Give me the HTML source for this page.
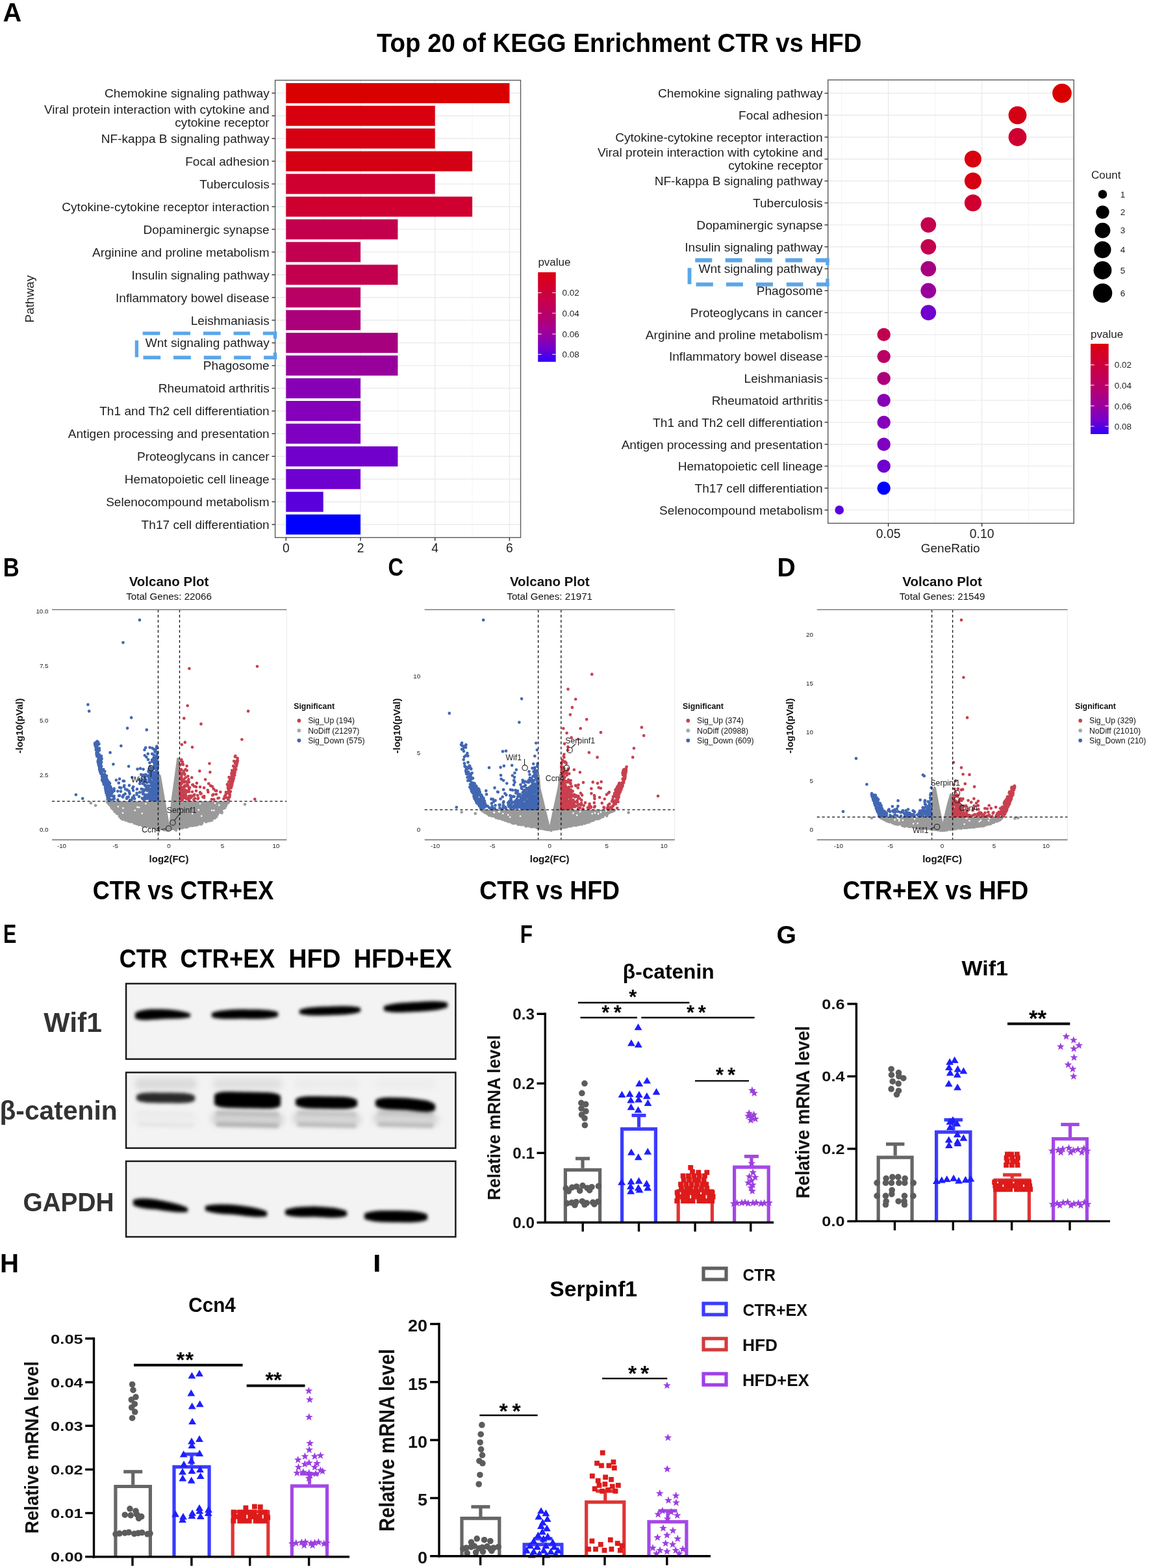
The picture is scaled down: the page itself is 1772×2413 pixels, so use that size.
<!DOCTYPE html><html><head><meta charset="utf-8"><title>Figure</title><style>html,body{margin:0;padding:0;background:#fff;}svg{display:block;}</style></head><body><svg width="1772" height="2413" viewBox="0 0 1772 2413" font-family="'Liberation Sans', Arial, Helvetica, sans-serif"><rect width="100%" height="100%" fill="#fff"/><text x="4.4" y="32.7" font-size="40.6" font-weight="bold" fill="#000" textLength="28.7" lengthAdjust="spacingAndGlyphs">A</text>
<text x="579.9" y="79.9" font-size="41.3" font-weight="bold" fill="#000" textLength="746.7" lengthAdjust="spacingAndGlyphs">Top 20 of KEGG Enrichment CTR vs HFD</text>
<g>
<line x1="497.7" y1="123.5" x2="497.7" y2="827.3" stroke="#f4f4f4" stroke-width="1"/>
<line x1="612.4" y1="123.5" x2="612.4" y2="827.3" stroke="#f4f4f4" stroke-width="1"/>
<line x1="727" y1="123.5" x2="727" y2="827.3" stroke="#f4f4f4" stroke-width="1"/>
<line x1="440.3" y1="123.5" x2="440.3" y2="827.3" stroke="#ebebeb" stroke-width="1.4"/>
<line x1="555" y1="123.5" x2="555" y2="827.3" stroke="#ebebeb" stroke-width="1.4"/>
<line x1="669.7" y1="123.5" x2="669.7" y2="827.3" stroke="#ebebeb" stroke-width="1.4"/>
<line x1="784.4" y1="123.5" x2="784.4" y2="827.3" stroke="#ebebeb" stroke-width="1.4"/>
<line x1="423.6" y1="143.3" x2="801.5" y2="143.3" stroke="#ebebeb" stroke-width="1.4"/>
<line x1="423.6" y1="178.2" x2="801.5" y2="178.2" stroke="#ebebeb" stroke-width="1.4"/>
<line x1="423.6" y1="213.2" x2="801.5" y2="213.2" stroke="#ebebeb" stroke-width="1.4"/>
<line x1="423.6" y1="248.1" x2="801.5" y2="248.1" stroke="#ebebeb" stroke-width="1.4"/>
<line x1="423.6" y1="283.1" x2="801.5" y2="283.1" stroke="#ebebeb" stroke-width="1.4"/>
<line x1="423.6" y1="318" x2="801.5" y2="318" stroke="#ebebeb" stroke-width="1.4"/>
<line x1="423.6" y1="352.9" x2="801.5" y2="352.9" stroke="#ebebeb" stroke-width="1.4"/>
<line x1="423.6" y1="387.9" x2="801.5" y2="387.9" stroke="#ebebeb" stroke-width="1.4"/>
<line x1="423.6" y1="422.8" x2="801.5" y2="422.8" stroke="#ebebeb" stroke-width="1.4"/>
<line x1="423.6" y1="457.8" x2="801.5" y2="457.8" stroke="#ebebeb" stroke-width="1.4"/>
<line x1="423.6" y1="492.7" x2="801.5" y2="492.7" stroke="#ebebeb" stroke-width="1.4"/>
<line x1="423.6" y1="527.6" x2="801.5" y2="527.6" stroke="#ebebeb" stroke-width="1.4"/>
<line x1="423.6" y1="562.6" x2="801.5" y2="562.6" stroke="#ebebeb" stroke-width="1.4"/>
<line x1="423.6" y1="597.5" x2="801.5" y2="597.5" stroke="#ebebeb" stroke-width="1.4"/>
<line x1="423.6" y1="632.5" x2="801.5" y2="632.5" stroke="#ebebeb" stroke-width="1.4"/>
<line x1="423.6" y1="667.4" x2="801.5" y2="667.4" stroke="#ebebeb" stroke-width="1.4"/>
<line x1="423.6" y1="702.3" x2="801.5" y2="702.3" stroke="#ebebeb" stroke-width="1.4"/>
<line x1="423.6" y1="737.3" x2="801.5" y2="737.3" stroke="#ebebeb" stroke-width="1.4"/>
<line x1="423.6" y1="772.2" x2="801.5" y2="772.2" stroke="#ebebeb" stroke-width="1.4"/>
<line x1="423.6" y1="807.2" x2="801.5" y2="807.2" stroke="#ebebeb" stroke-width="1.4"/>
<rect x="440.3" y="127.9" width="344.1" height="30.9" fill="#d90000"/>
<rect x="440.3" y="162.8" width="229.4" height="30.9" fill="#d8000e"/>
<rect x="440.3" y="197.7" width="229.4" height="30.9" fill="#d60012"/>
<rect x="440.3" y="232.7" width="286.8" height="30.9" fill="#d40014"/>
<rect x="440.3" y="267.6" width="229.4" height="30.9" fill="#cf0030"/>
<rect x="440.3" y="302.6" width="286.8" height="30.9" fill="#cf0030"/>
<rect x="440.3" y="337.5" width="172.1" height="30.9" fill="#c2004e"/>
<rect x="440.3" y="372.4" width="114.7" height="30.9" fill="#c30050"/>
<rect x="440.3" y="407.4" width="172.1" height="30.9" fill="#c2004e"/>
<rect x="440.3" y="442.3" width="114.7" height="30.9" fill="#b90064"/>
<rect x="440.3" y="477.2" width="114.7" height="30.9" fill="#ab007a"/>
<rect x="440.3" y="512.2" width="172.1" height="30.9" fill="#a6007f"/>
<rect x="440.3" y="547.1" width="172.1" height="30.9" fill="#98009c"/>
<rect x="440.3" y="582.1" width="114.7" height="30.9" fill="#8800b6"/>
<rect x="440.3" y="617" width="114.7" height="30.9" fill="#8400bb"/>
<rect x="440.3" y="651.9" width="114.7" height="30.9" fill="#7f00c0"/>
<rect x="440.3" y="686.9" width="172.1" height="30.9" fill="#7200cc"/>
<rect x="440.3" y="721.8" width="114.7" height="30.9" fill="#7000d0"/>
<rect x="440.3" y="756.8" width="57.4" height="30.9" fill="#5a00dd"/>
<rect x="440.3" y="791.7" width="114.7" height="30.9" fill="#0000ff"/>
<rect x="423.6" y="123.5" width="377.9" height="703.8" fill="none" stroke="#5a5a5a" stroke-width="1.4"/>
<line x1="418.5" y1="143.3" x2="423.6" y2="143.3" stroke="#333" stroke-width="1.4"/>
<text x="414.7" y="150.1" font-size="19.1" text-anchor="end" fill="#1e1e1e">Chemokine signaling pathway</text>
<line x1="418.5" y1="178.2" x2="423.6" y2="178.2" stroke="#333" stroke-width="1.4"/>
<text x="414.7" y="175" font-size="19.1" text-anchor="end" fill="#1e1e1e">Viral protein interaction with cytokine and</text>
<text x="414.7" y="195.4" font-size="19.1" text-anchor="end" fill="#1e1e1e">cytokine receptor</text>
<line x1="418.5" y1="213.2" x2="423.6" y2="213.2" stroke="#333" stroke-width="1.4"/>
<text x="414.7" y="220" font-size="19.1" text-anchor="end" fill="#1e1e1e">NF-kappa B signaling pathway</text>
<line x1="418.5" y1="248.1" x2="423.6" y2="248.1" stroke="#333" stroke-width="1.4"/>
<text x="414.7" y="254.9" font-size="19.1" text-anchor="end" fill="#1e1e1e">Focal adhesion</text>
<line x1="418.5" y1="283.1" x2="423.6" y2="283.1" stroke="#333" stroke-width="1.4"/>
<text x="414.7" y="289.9" font-size="19.1" text-anchor="end" fill="#1e1e1e">Tuberculosis</text>
<line x1="418.5" y1="318" x2="423.6" y2="318" stroke="#333" stroke-width="1.4"/>
<text x="414.7" y="324.8" font-size="19.1" text-anchor="end" fill="#1e1e1e">Cytokine-cytokine receptor interaction</text>
<line x1="418.5" y1="352.9" x2="423.6" y2="352.9" stroke="#333" stroke-width="1.4"/>
<text x="414.7" y="359.7" font-size="19.1" text-anchor="end" fill="#1e1e1e">Dopaminergic synapse</text>
<line x1="418.5" y1="387.9" x2="423.6" y2="387.9" stroke="#333" stroke-width="1.4"/>
<text x="414.7" y="394.7" font-size="19.1" text-anchor="end" fill="#1e1e1e">Arginine and proline metabolism</text>
<line x1="418.5" y1="422.8" x2="423.6" y2="422.8" stroke="#333" stroke-width="1.4"/>
<text x="414.7" y="429.6" font-size="19.1" text-anchor="end" fill="#1e1e1e">Insulin signaling pathway</text>
<line x1="418.5" y1="457.8" x2="423.6" y2="457.8" stroke="#333" stroke-width="1.4"/>
<text x="414.7" y="464.6" font-size="19.1" text-anchor="end" fill="#1e1e1e">Inflammatory bowel disease</text>
<line x1="418.5" y1="492.7" x2="423.6" y2="492.7" stroke="#333" stroke-width="1.4"/>
<text x="414.7" y="499.5" font-size="19.1" text-anchor="end" fill="#1e1e1e">Leishmaniasis</text>
<line x1="418.5" y1="527.6" x2="423.6" y2="527.6" stroke="#333" stroke-width="1.4"/>
<text x="414.7" y="534.4" font-size="19.1" text-anchor="end" fill="#1e1e1e">Wnt signaling pathway</text>
<line x1="418.5" y1="562.6" x2="423.6" y2="562.6" stroke="#333" stroke-width="1.4"/>
<text x="414.7" y="569.4" font-size="19.1" text-anchor="end" fill="#1e1e1e">Phagosome</text>
<line x1="418.5" y1="597.5" x2="423.6" y2="597.5" stroke="#333" stroke-width="1.4"/>
<text x="414.7" y="604.3" font-size="19.1" text-anchor="end" fill="#1e1e1e">Rheumatoid arthritis</text>
<line x1="418.5" y1="632.5" x2="423.6" y2="632.5" stroke="#333" stroke-width="1.4"/>
<text x="414.7" y="639.3" font-size="19.1" text-anchor="end" fill="#1e1e1e">Th1 and Th2 cell differentiation</text>
<line x1="418.5" y1="667.4" x2="423.6" y2="667.4" stroke="#333" stroke-width="1.4"/>
<text x="414.7" y="674.2" font-size="19.1" text-anchor="end" fill="#1e1e1e">Antigen processing and presentation</text>
<line x1="418.5" y1="702.3" x2="423.6" y2="702.3" stroke="#333" stroke-width="1.4"/>
<text x="414.7" y="709.1" font-size="19.1" text-anchor="end" fill="#1e1e1e">Proteoglycans in cancer</text>
<line x1="418.5" y1="737.3" x2="423.6" y2="737.3" stroke="#333" stroke-width="1.4"/>
<text x="414.7" y="744.1" font-size="19.1" text-anchor="end" fill="#1e1e1e">Hematopoietic cell lineage</text>
<line x1="418.5" y1="772.2" x2="423.6" y2="772.2" stroke="#333" stroke-width="1.4"/>
<text x="414.7" y="779" font-size="19.1" text-anchor="end" fill="#1e1e1e">Selenocompound metabolism</text>
<line x1="418.5" y1="807.2" x2="423.6" y2="807.2" stroke="#333" stroke-width="1.4"/>
<text x="414.7" y="814" font-size="19.1" text-anchor="end" fill="#1e1e1e">Th17 cell differentiation</text>
<line x1="440.3" y1="827.3" x2="440.3" y2="832.3" stroke="#333" stroke-width="1.4"/>
<text x="440.3" y="850.4" font-size="19.3" text-anchor="middle" fill="#1e1e1e">0</text>
<line x1="555" y1="827.3" x2="555" y2="832.3" stroke="#333" stroke-width="1.4"/>
<text x="555" y="850.4" font-size="19.3" text-anchor="middle" fill="#1e1e1e">2</text>
<line x1="669.7" y1="827.3" x2="669.7" y2="832.3" stroke="#333" stroke-width="1.4"/>
<text x="669.7" y="850.4" font-size="19.3" text-anchor="middle" fill="#1e1e1e">4</text>
<line x1="784.4" y1="827.3" x2="784.4" y2="832.3" stroke="#333" stroke-width="1.4"/>
<text x="784.4" y="850.4" font-size="19.3" text-anchor="middle" fill="#1e1e1e">6</text>
<text transform="translate(51.5,460) rotate(-90)" font-size="19" text-anchor="middle" fill="#1e1e1e">Pathway</text>
<text x="828.4" y="408.7" font-size="17" fill="#1e1e1e">pvalue</text>
<defs><linearGradient id="pg" x1="0" y1="0" x2="0" y2="1"><stop offset="0" stop-color="#dc0010"/><stop offset="0.25" stop-color="#cc0040"/><stop offset="0.5" stop-color="#b5006f"/><stop offset="0.7" stop-color="#9900a2"/><stop offset="0.85" stop-color="#7300cc"/><stop offset="1" stop-color="#3000ff"/></linearGradient></defs>
<rect x="828.2" y="419" width="27.5" height="137.8" fill="url(#pg)"/>
<line x1="828.2" y1="450.5" x2="833.7" y2="450.5" stroke="#fff" stroke-width="1"/>
<line x1="850.2" y1="450.5" x2="855.7" y2="450.5" stroke="#fff" stroke-width="1"/>
<text x="865.4" y="455.3" font-size="13.5" fill="#1e1e1e">0.02</text>
<line x1="828.2" y1="482" x2="833.7" y2="482" stroke="#fff" stroke-width="1"/>
<line x1="850.2" y1="482" x2="855.7" y2="482" stroke="#fff" stroke-width="1"/>
<text x="865.4" y="486.8" font-size="13.5" fill="#1e1e1e">0.04</text>
<line x1="828.2" y1="514" x2="833.7" y2="514" stroke="#fff" stroke-width="1"/>
<line x1="850.2" y1="514" x2="855.7" y2="514" stroke="#fff" stroke-width="1"/>
<text x="865.4" y="518.8" font-size="13.5" fill="#1e1e1e">0.06</text>
<line x1="828.2" y1="545.3" x2="833.7" y2="545.3" stroke="#fff" stroke-width="1"/>
<line x1="850.2" y1="545.3" x2="855.7" y2="545.3" stroke="#fff" stroke-width="1"/>
<text x="865.4" y="550.1" font-size="13.5" fill="#1e1e1e">0.08</text>
</g>
<line x1="219.7" y1="513" x2="246.4" y2="513" stroke="#5ba6e8" stroke-width="5.3"/>
<line x1="266.3" y1="513" x2="293" y2="513" stroke="#5ba6e8" stroke-width="5.3"/>
<line x1="313" y1="513" x2="339.6" y2="513" stroke="#5ba6e8" stroke-width="5.3"/>
<line x1="359.6" y1="513" x2="384.9" y2="513" stroke="#5ba6e8" stroke-width="5.3"/>
<line x1="404.8" y1="513" x2="426.2" y2="513" stroke="#5ba6e8" stroke-width="5.3"/>
<line x1="220.5" y1="550.2" x2="247.2" y2="550.2" stroke="#5ba6e8" stroke-width="5.5"/>
<line x1="267.1" y1="550.2" x2="293.8" y2="550.2" stroke="#5ba6e8" stroke-width="5.5"/>
<line x1="313.8" y1="550.2" x2="340.4" y2="550.2" stroke="#5ba6e8" stroke-width="5.5"/>
<line x1="360.1" y1="550.2" x2="386.2" y2="550.2" stroke="#5ba6e8" stroke-width="5.5"/>
<line x1="406.2" y1="550.2" x2="426.2" y2="550.2" stroke="#5ba6e8" stroke-width="5.5"/>
<line x1="423.5" y1="510.5" x2="423.5" y2="521.2" stroke="#5ba6e8" stroke-width="5.4"/>
<line x1="423.5" y1="542.5" x2="423.5" y2="553" stroke="#5ba6e8" stroke-width="5.4"/>
<line x1="210.4" y1="523.8" x2="210.4" y2="549.7" stroke="#5ba6e8" stroke-width="5.3"/>
<g>
<line x1="1295.6" y1="123" x2="1295.6" y2="805.3" stroke="#f4f4f4" stroke-width="1"/>
<line x1="1439.6" y1="123" x2="1439.6" y2="805.3" stroke="#f4f4f4" stroke-width="1"/>
<line x1="1583.6" y1="123" x2="1583.6" y2="805.3" stroke="#f4f4f4" stroke-width="1"/>
<line x1="1367.6" y1="123" x2="1367.6" y2="805.3" stroke="#ebebeb" stroke-width="1.4"/>
<line x1="1511.6" y1="123" x2="1511.6" y2="805.3" stroke="#ebebeb" stroke-width="1.4"/>
<line x1="1274.7" y1="143.5" x2="1653.2" y2="143.5" stroke="#ebebeb" stroke-width="1.4"/>
<line x1="1274.7" y1="177.3" x2="1653.2" y2="177.3" stroke="#ebebeb" stroke-width="1.4"/>
<line x1="1274.7" y1="211" x2="1653.2" y2="211" stroke="#ebebeb" stroke-width="1.4"/>
<line x1="1274.7" y1="244.8" x2="1653.2" y2="244.8" stroke="#ebebeb" stroke-width="1.4"/>
<line x1="1274.7" y1="278.5" x2="1653.2" y2="278.5" stroke="#ebebeb" stroke-width="1.4"/>
<line x1="1274.7" y1="312.3" x2="1653.2" y2="312.3" stroke="#ebebeb" stroke-width="1.4"/>
<line x1="1274.7" y1="346.1" x2="1653.2" y2="346.1" stroke="#ebebeb" stroke-width="1.4"/>
<line x1="1274.7" y1="379.8" x2="1653.2" y2="379.8" stroke="#ebebeb" stroke-width="1.4"/>
<line x1="1274.7" y1="413.6" x2="1653.2" y2="413.6" stroke="#ebebeb" stroke-width="1.4"/>
<line x1="1274.7" y1="447.3" x2="1653.2" y2="447.3" stroke="#ebebeb" stroke-width="1.4"/>
<line x1="1274.7" y1="481.1" x2="1653.2" y2="481.1" stroke="#ebebeb" stroke-width="1.4"/>
<line x1="1274.7" y1="514.9" x2="1653.2" y2="514.9" stroke="#ebebeb" stroke-width="1.4"/>
<line x1="1274.7" y1="548.6" x2="1653.2" y2="548.6" stroke="#ebebeb" stroke-width="1.4"/>
<line x1="1274.7" y1="582.4" x2="1653.2" y2="582.4" stroke="#ebebeb" stroke-width="1.4"/>
<line x1="1274.7" y1="616.1" x2="1653.2" y2="616.1" stroke="#ebebeb" stroke-width="1.4"/>
<line x1="1274.7" y1="649.9" x2="1653.2" y2="649.9" stroke="#ebebeb" stroke-width="1.4"/>
<line x1="1274.7" y1="683.7" x2="1653.2" y2="683.7" stroke="#ebebeb" stroke-width="1.4"/>
<line x1="1274.7" y1="717.4" x2="1653.2" y2="717.4" stroke="#ebebeb" stroke-width="1.4"/>
<line x1="1274.7" y1="751.2" x2="1653.2" y2="751.2" stroke="#ebebeb" stroke-width="1.4"/>
<line x1="1274.7" y1="784.9" x2="1653.2" y2="784.9" stroke="#ebebeb" stroke-width="1.4"/>
<circle cx="1635" cy="143.5" r="14.8" fill="#d90000"/>
<circle cx="1566.5" cy="177.3" r="13.9" fill="#d40014"/>
<circle cx="1566.5" cy="211" r="13.9" fill="#cf0030"/>
<circle cx="1497.9" cy="244.8" r="13" fill="#d8000e"/>
<circle cx="1497.9" cy="278.5" r="13" fill="#d60012"/>
<circle cx="1497.9" cy="312.3" r="13" fill="#cf0030"/>
<circle cx="1429.3" cy="346.1" r="11.9" fill="#c2004e"/>
<circle cx="1429.3" cy="379.8" r="11.9" fill="#c2004e"/>
<circle cx="1429.3" cy="413.6" r="11.9" fill="#a6007f"/>
<circle cx="1429.3" cy="447.3" r="11.9" fill="#98009c"/>
<circle cx="1429.3" cy="481.1" r="11.9" fill="#7200cc"/>
<circle cx="1360.7" cy="514.9" r="10.2" fill="#c30050"/>
<circle cx="1360.7" cy="548.6" r="10.2" fill="#b90064"/>
<circle cx="1360.7" cy="582.4" r="10.2" fill="#ab007a"/>
<circle cx="1360.7" cy="616.1" r="10.2" fill="#8800b6"/>
<circle cx="1360.7" cy="649.9" r="10.2" fill="#8400bb"/>
<circle cx="1360.7" cy="683.7" r="10.2" fill="#7f00c0"/>
<circle cx="1360.7" cy="717.4" r="10.2" fill="#7000d0"/>
<circle cx="1360.7" cy="751.2" r="10.2" fill="#0000ff"/>
<circle cx="1292.2" cy="784.9" r="6.8" fill="#5a00dd"/>
<rect x="1274.7" y="123" width="378.5" height="682.3" fill="none" stroke="#5a5a5a" stroke-width="1.4"/>
<line x1="1269.5" y1="143.5" x2="1274.7" y2="143.5" stroke="#333" stroke-width="1.4"/>
<text x="1266.6" y="150.3" font-size="19.1" text-anchor="end" fill="#1e1e1e">Chemokine signaling pathway</text>
<line x1="1269.5" y1="177.3" x2="1274.7" y2="177.3" stroke="#333" stroke-width="1.4"/>
<text x="1266.6" y="184.1" font-size="19.1" text-anchor="end" fill="#1e1e1e">Focal adhesion</text>
<line x1="1269.5" y1="211" x2="1274.7" y2="211" stroke="#333" stroke-width="1.4"/>
<text x="1266.6" y="217.8" font-size="19.1" text-anchor="end" fill="#1e1e1e">Cytokine-cytokine receptor interaction</text>
<line x1="1269.5" y1="244.8" x2="1274.7" y2="244.8" stroke="#333" stroke-width="1.4"/>
<text x="1266.6" y="241.4" font-size="19.1" text-anchor="end" fill="#1e1e1e">Viral protein interaction with cytokine and</text>
<text x="1266.6" y="261.4" font-size="19.1" text-anchor="end" fill="#1e1e1e">cytokine receptor</text>
<line x1="1269.5" y1="278.5" x2="1274.7" y2="278.5" stroke="#333" stroke-width="1.4"/>
<text x="1266.6" y="285.3" font-size="19.1" text-anchor="end" fill="#1e1e1e">NF-kappa B signaling pathway</text>
<line x1="1269.5" y1="312.3" x2="1274.7" y2="312.3" stroke="#333" stroke-width="1.4"/>
<text x="1266.6" y="319.1" font-size="19.1" text-anchor="end" fill="#1e1e1e">Tuberculosis</text>
<line x1="1269.5" y1="346.1" x2="1274.7" y2="346.1" stroke="#333" stroke-width="1.4"/>
<text x="1266.6" y="352.9" font-size="19.1" text-anchor="end" fill="#1e1e1e">Dopaminergic synapse</text>
<line x1="1269.5" y1="379.8" x2="1274.7" y2="379.8" stroke="#333" stroke-width="1.4"/>
<text x="1266.6" y="386.6" font-size="19.1" text-anchor="end" fill="#1e1e1e">Insulin signaling pathway</text>
<line x1="1269.5" y1="413.6" x2="1274.7" y2="413.6" stroke="#333" stroke-width="1.4"/>
<text x="1266.6" y="420.4" font-size="19.1" text-anchor="end" fill="#1e1e1e">Wnt signaling pathway</text>
<line x1="1269.5" y1="447.3" x2="1274.7" y2="447.3" stroke="#333" stroke-width="1.4"/>
<text x="1266.6" y="454.1" font-size="19.1" text-anchor="end" fill="#1e1e1e">Phagosome</text>
<line x1="1269.5" y1="481.1" x2="1274.7" y2="481.1" stroke="#333" stroke-width="1.4"/>
<text x="1266.6" y="487.9" font-size="19.1" text-anchor="end" fill="#1e1e1e">Proteoglycans in cancer</text>
<line x1="1269.5" y1="514.9" x2="1274.7" y2="514.9" stroke="#333" stroke-width="1.4"/>
<text x="1266.6" y="521.7" font-size="19.1" text-anchor="end" fill="#1e1e1e">Arginine and proline metabolism</text>
<line x1="1269.5" y1="548.6" x2="1274.7" y2="548.6" stroke="#333" stroke-width="1.4"/>
<text x="1266.6" y="555.4" font-size="19.1" text-anchor="end" fill="#1e1e1e">Inflammatory bowel disease</text>
<line x1="1269.5" y1="582.4" x2="1274.7" y2="582.4" stroke="#333" stroke-width="1.4"/>
<text x="1266.6" y="589.2" font-size="19.1" text-anchor="end" fill="#1e1e1e">Leishmaniasis</text>
<line x1="1269.5" y1="616.1" x2="1274.7" y2="616.1" stroke="#333" stroke-width="1.4"/>
<text x="1266.6" y="622.9" font-size="19.1" text-anchor="end" fill="#1e1e1e">Rheumatoid arthritis</text>
<line x1="1269.5" y1="649.9" x2="1274.7" y2="649.9" stroke="#333" stroke-width="1.4"/>
<text x="1266.6" y="656.7" font-size="19.1" text-anchor="end" fill="#1e1e1e">Th1 and Th2 cell differentiation</text>
<line x1="1269.5" y1="683.7" x2="1274.7" y2="683.7" stroke="#333" stroke-width="1.4"/>
<text x="1266.6" y="690.5" font-size="19.1" text-anchor="end" fill="#1e1e1e">Antigen processing and presentation</text>
<line x1="1269.5" y1="717.4" x2="1274.7" y2="717.4" stroke="#333" stroke-width="1.4"/>
<text x="1266.6" y="724.2" font-size="19.1" text-anchor="end" fill="#1e1e1e">Hematopoietic cell lineage</text>
<line x1="1269.5" y1="751.2" x2="1274.7" y2="751.2" stroke="#333" stroke-width="1.4"/>
<text x="1266.6" y="758" font-size="19.1" text-anchor="end" fill="#1e1e1e">Th17 cell differentiation</text>
<line x1="1269.5" y1="784.9" x2="1274.7" y2="784.9" stroke="#333" stroke-width="1.4"/>
<text x="1266.6" y="791.7" font-size="19.1" text-anchor="end" fill="#1e1e1e">Selenocompound metabolism</text>
<line x1="1367.6" y1="805.3" x2="1367.6" y2="810.3" stroke="#333" stroke-width="1.4"/>
<text x="1367.6" y="827.8" font-size="19.3" text-anchor="middle" fill="#1e1e1e">0.05</text>
<line x1="1511.6" y1="805.3" x2="1511.6" y2="810.3" stroke="#333" stroke-width="1.4"/>
<text x="1511.6" y="827.8" font-size="19.3" text-anchor="middle" fill="#1e1e1e">0.10</text>
<text x="1463.2" y="850.3" font-size="19" text-anchor="middle" fill="#1e1e1e">GeneRatio</text>
<text x="1680" y="275" font-size="17" fill="#1e1e1e">Count</text>
<circle cx="1697.5" cy="299" r="6.8" fill="#000"/>
<text x="1724.8" y="303.8" font-size="13.5" fill="#1e1e1e">1</text>
<circle cx="1697.5" cy="326.5" r="10.2" fill="#000"/>
<text x="1724.8" y="331.3" font-size="13.5" fill="#1e1e1e">2</text>
<circle cx="1697.5" cy="354.6" r="11.9" fill="#000"/>
<text x="1724.8" y="359.4" font-size="13.5" fill="#1e1e1e">3</text>
<circle cx="1697.5" cy="384.3" r="13" fill="#000"/>
<text x="1724.8" y="389.1" font-size="13.5" fill="#1e1e1e">4</text>
<circle cx="1697.5" cy="416" r="13.9" fill="#000"/>
<text x="1724.8" y="420.8" font-size="13.5" fill="#1e1e1e">5</text>
<circle cx="1697.5" cy="451" r="14.8" fill="#000"/>
<text x="1724.8" y="455.8" font-size="13.5" fill="#1e1e1e">6</text>
<text x="1679" y="520" font-size="17" fill="#1e1e1e">pvalue</text>
<rect x="1679" y="529" width="27.7" height="139" fill="url(#pg)"/>
<line x1="1679" y1="561.5" x2="1684.5" y2="561.5" stroke="#fff" stroke-width="1"/>
<line x1="1701.2" y1="561.5" x2="1706.7" y2="561.5" stroke="#fff" stroke-width="1"/>
<text x="1715.8" y="566.3" font-size="13.5" fill="#1e1e1e">0.02</text>
<line x1="1679" y1="592.8" x2="1684.5" y2="592.8" stroke="#fff" stroke-width="1"/>
<line x1="1701.2" y1="592.8" x2="1706.7" y2="592.8" stroke="#fff" stroke-width="1"/>
<text x="1715.8" y="597.6" font-size="13.5" fill="#1e1e1e">0.04</text>
<line x1="1679" y1="624.7" x2="1684.5" y2="624.7" stroke="#fff" stroke-width="1"/>
<line x1="1701.2" y1="624.7" x2="1706.7" y2="624.7" stroke="#fff" stroke-width="1"/>
<text x="1715.8" y="629.5" font-size="13.5" fill="#1e1e1e">0.06</text>
<line x1="1679" y1="656" x2="1684.5" y2="656" stroke="#fff" stroke-width="1"/>
<line x1="1701.2" y1="656" x2="1706.7" y2="656" stroke="#fff" stroke-width="1"/>
<text x="1715.8" y="660.8" font-size="13.5" fill="#1e1e1e">0.08</text>
</g>
<line x1="1070.2" y1="400.5" x2="1096.3" y2="400.5" stroke="#5ba6e8" stroke-width="6.3"/>
<line x1="1116.6" y1="400.5" x2="1142.6" y2="400.5" stroke="#5ba6e8" stroke-width="6.3"/>
<line x1="1162.8" y1="400.5" x2="1188.7" y2="400.5" stroke="#5ba6e8" stroke-width="6.3"/>
<line x1="1209.2" y1="400.5" x2="1235.2" y2="400.5" stroke="#5ba6e8" stroke-width="6.3"/>
<line x1="1255.6" y1="400.5" x2="1276.5" y2="400.5" stroke="#5ba6e8" stroke-width="6.3"/>
<line x1="1071.5" y1="437.7" x2="1097.8" y2="437.7" stroke="#5ba6e8" stroke-width="6"/>
<line x1="1117.9" y1="437.7" x2="1143.9" y2="437.7" stroke="#5ba6e8" stroke-width="6"/>
<line x1="1164" y1="437.7" x2="1190" y2="437.7" stroke="#5ba6e8" stroke-width="6"/>
<line x1="1210.8" y1="437.7" x2="1236.4" y2="437.7" stroke="#5ba6e8" stroke-width="6"/>
<line x1="1256.9" y1="437.7" x2="1276.5" y2="437.7" stroke="#5ba6e8" stroke-width="6"/>
<line x1="1273.9" y1="397.3" x2="1273.9" y2="408" stroke="#5ba6e8" stroke-width="5.3"/>
<line x1="1273.9" y1="428.8" x2="1273.9" y2="440.6" stroke="#5ba6e8" stroke-width="5.3"/>
<line x1="1061.5" y1="412.3" x2="1061.5" y2="437.4" stroke="#5ba6e8" stroke-width="5.8"/>
<line x1="441.3" y1="938.3" x2="441.3" y2="1292.4" stroke="#e9e9e9" stroke-width="1"/>
<path d="M165 1233.1L172.6 1243.2L186.7 1258.7L210.5 1266.7L235.2 1272.8L260 1276.8L284.8 1272.8L309.5 1266.7L328.5 1260.3L342.5 1248.2L352.4 1233.1L352.4 1233.1L276.5 1233.1L276.5 1165.9L272.4 1165.9L268.7 1193.8L263.3 1233.1L260.8 1267.7L254.6 1233.1L247.8 1193.8L246 1191.1L243.5 1194.5L243.5 1233.1L165 1233.1Z" fill="#9a9a9a"/>
<path d="M207.6 1266.7h0M291.7 1271h0M277.1 1274.5h0M341.5 1251h0M290 1270.3h0M331.1 1257h0M302.5 1266.5h0M194.9 1260.2h0M214.9 1267.2h0M189.2 1260.9h0M325.2 1262.1h0M300.8 1270h0M267.3 1274.7h0M216.3 1268.4h0M227 1270.6h0M228.7 1271h0M165.9 1234.2h0M177.7 1248.1h0M222 1268.5h0M205.8 1264.8h0M212.8 1266.6h0M213.8 1265.3h0M257.9 1277.4h0M198.7 1261.5h0M305.6 1266.9h0M307.4 1265.1h0M280.8 1273.7h0M197.6 1263.8h0M180.1 1251.4h0M280.9 1272.4h0M166.8 1235.9h0M347.3 1240.5h0M216.7 1267.2h0M241.6 1273.5h0M311.2 1267h0M233.7 1272.2h0M218 1268h0M255.3 1276.1h0M170.1 1238.9h0M305.1 1267.7h0M227.1 1270.7h0M261.7 1276.4h0M329.5 1258.7h0M255.2 1276.4h0M297.5 1269.8h0M230.1 1271.7h0M348.2 1238.4h0M219.4 1271.1h0M229.5 1272h0M165.2 1234.6h0M310.4 1264h0M196.6 1261.2h0M195.5 1260.9h0M341.7 1249.9h0M300.5 1269.6h0M198.2 1262.6h0M298 1270.1h0M259.3 1276.8h0M186.5 1256.7h0M331.2 1258.2h0M198.3 1262.2h0M329.3 1257.8h0M352.3 1231.6h0M234.4 1271h0M307.1 1267.1h0M246.9 1274.4h0M308.2 1267.6h0M173.2 1242.6h0M348.9 1237.5h0M170.8 1241h0M229.7 1271h0M197.1 1261.3h0M206.4 1266.3h0M253.2 1274.9h0M278 1273.9h0M346.6 1242.7h0M257.9 1274.9h0M264.5 1274.9h0M277.5 1273.6h0M218.9 1270.4h0M345.9 1243.1h0M319.9 1262h0M205 1261.5h0M293.6 1269.5h0M166.9 1234.4h0M228.2 1271.5h0M310.9 1266h0M309.7 1268.5h0M305.3 1268.6h0M250.6 1275.9h0M250.4 1275.2h0M316.6 1264.1h0M216.8 1267.6h0M245.2 1274.9h0M304 1269.3h0M339.6 1249.4h0M177.4 1248.7h0M213.9 1269.2h0M293.1 1270h0M201 1263.6h0M195.7 1260.2h0M326.7 1260.2h0M240.3 1274.7h0M237 1273.3h0M284.9 1272.9h0M261.6 1275.8h0M233.8 1270.5h0M171.5 1240.8h0M210.5 1268h0M237.2 1271.5h0M295.7 1270.7h0M204.9 1264.2h0M189.2 1259.5h0M188.6 1258.4h0M259.7 1275.7h0M257.2 1276.8h0M288.7 1272.4h0M197.8 1261.6h0M234.5 1271.6h0M310.6 1266.6h0M197.6 1262.7h0M174 1242.2h0M300.4 1269.7h0M330.4 1259.1h0M237.3 1273.2h0M347.6 1239.5h0M165 1230.2h0M177.9 1249.6h0M193.4 1262.2h0M265 1274.6h0M289.8 1270.9h0M334.9 1253.3h0M250.8 1273h0M246 1275.2h0M251.3 1274.7h0M303.5 1268.4h0M272.3 1272.4h0M288.4 1270.7h0M195.4 1261.1h0M258.4 1276.5h0M317.4 1262.8h0M238.5 1274.1h0M280.9 1274.3h0M222.3 1266.4h0M324.9 1261.6h0M270.8 1273.6h0M235.7 1273.3h0M231.7 1271.7h0M252.7 1277.1h0M287.8 1272.6h0M298 1269.4h0M231.4 1271.3h0M317.8 1262h0M341.6 1249.9h0M183.9 1256.5h0M166.6 1234.7h0M217.1 1269h0M323.2 1263.1h0M257.5 1277.3h0M168.8 1238.1h0M256.4 1277.5h0M177.9 1247.4h0M251.7 1275.6h0M228.9 1270.6h0M176.7 1248h0M218.1 1267h0M215.6 1268.6h0M347.9 1239.8h0M320.9 1263.1h0M272.1 1273h0M271.1 1277.6h0M236.3 1273.7h0M242.6 1272.4h0M267.6 1275.2h0M308.7 1266.8h0M287.6 1269.5h0M238.4 1271.8h0M275.9 1274.7h0M212.8 1266.9h0M248.7 1275.1h0M333.2 1255.4h0M257.1 1275.9h0M304.8 1267.6h0M283.9 1272.2h0M213.8 1265.9h0M299.8 1268.2h0M271.8 1273.1h0M280.3 1273.1h0M306 1266.5h0M303.9 1267.2h0M276.9 1272.3h0M196 1257.5h0M271.1 1275.2h0M302.8 1267.6h0M176.7 1249h0M242.8 1273.1h0M307.1 1266.3h0M208.6 1264.7h0M185.3 1256.1h0M205.4 1263.5h0M340.2 1250.4h0M195.7 1262h0M220.7 1269h0M270.1 1276.1h0M218.8 1270.1h0M268.3 1275.3h0M193.5 1262.4h0M296.6 1270h0M279.4 1270.4h0M210.1 1266.9h0M187.4 1258.4h0M187.3 1259.7h0M212.1 1267.5h0M203.2 1261.9h0M326.3 1262.2h0M180.3 1252.1h0M192.2 1260.5h0M270.7 1275.2h0M246.7 1271.6h0M206.7 1266.7h0M262.6 1275.2h0M267.4 1275.1h0M172.2 1243.6h0M223.7 1270.4h0M183.6 1254.2h0M250.8 1275.7h0M267.2 1274.4h0M260 1276.9h0M351.7 1235.3h0M344.8 1243.9h0M208 1265.3h0M254 1276.3h0M276.7 1274.3h0M180.1 1251.9h0M286 1272.5h0M265 1274.4h0M263.5 1273.8h0M309.7 1267h0M287.4 1272.9h0M180.4 1251.2h0M303.1 1268.3h0M283.2 1269.3h0M226.5 1268.3h0M176 1245.9h0M213.8 1265.9h0M220.3 1269.1h0M186.2 1259h0M333.4 1256.6h0M174.9 1246h0M196.7 1261h0M201.6 1264.7h0M189.7 1259.4h0M250.8 1272.8h0M168.2 1238.1h0M297.3 1270.1h0M268.7 1276.1h0M199.1 1263.9h0M271.7 1274h0M317.6 1264.8h0M236.3 1273.3h0M139.9 1235.8h0M147.1 1239.5h0M377 1237.8h0" stroke="#9a9a9a" stroke-width="4.6" stroke-linecap="round" fill="none"/>
<path d="M214.1 1242.5h0M211.4 1242.1h0M207.7 1247.1h0M181.9 1241.3h0M224.4 1236.7h0M218.8 1251.8h0M189.1 1251.1h0M189.5 1243.6h0M326.1 1247h0M308 1236.8h0M337.3 1238.9h0M310.3 1255.8h0M296.3 1252.2h0M329.4 1247.2h0M305.8 1246.4h0M331.1 1236.1h0" stroke="#ffffff" stroke-width="2.6" stroke-linecap="round" fill="none"/>
<path d="M148.7 1144.3h0M162.3 1204h0M162.7 1216.8h0M155.2 1176h0M169 1212.6h0M166.4 1228.7h0M169.1 1205.6h0M158.4 1200h0M164.3 1210.2h0M153.3 1182.2h0M150.9 1157.7h0M156.7 1167.6h0M153.1 1162.5h0M161.9 1212.4h0M156.8 1187.7h0M175.8 1216.9h0M149.3 1163.5h0M161.2 1205.8h0M153.3 1178.1h0M157.4 1199.5h0M153.7 1173.1h0M156.2 1173.1h0M161 1191.3h0M159.8 1205.5h0M156 1163.6h0M155.3 1190.3h0M151 1171.8h0M150.8 1160h0M154.6 1176.2h0M164.2 1219.3h0M155.1 1182.2h0M171.4 1230.8h0M154 1184.1h0M165.9 1220.7h0M148.6 1160.7h0M150.8 1173.1h0M148.1 1147.9h0M159.5 1197.7h0M164.2 1206.2h0M166.5 1216.7h0M170.8 1224.2h0M150.7 1171h0M168.5 1229.4h0M153.9 1186.2h0M162.7 1215.2h0M162.7 1212h0M151.2 1161.8h0M159.5 1199.3h0M157.2 1186.7h0M153.1 1183.9h0M170.3 1210.8h0M152.4 1168h0M152.9 1151.6h0M148.5 1142h0M149.2 1143.2h0M166.7 1225h0M152.3 1165.3h0M161.3 1187h0M171.2 1220.7h0M173.1 1219.3h0M159.2 1204.3h0M159.5 1194.2h0M161.5 1208.1h0M162.7 1214.3h0M165.8 1225.5h0M165.5 1200.9h0M149.2 1163.8h0M152.6 1176.6h0M155.2 1189.8h0M161.2 1201.9h0M157.5 1201.4h0M157.8 1199.6h0M155.3 1190.8h0M159.1 1202.7h0M163 1207.4h0M153.2 1161.7h0M162.3 1213.5h0M152.9 1166.8h0M148.3 1151.1h0M151.6 1176h0M147.7 1150.1h0M151.9 1177.8h0M157.8 1191h0M156.1 1179.2h0M167.5 1230.3h0M157.5 1193.7h0M157.3 1191.7h0M159.8 1207.1h0M157 1195h0M151.2 1142.3h0M163.8 1196.9h0M164.2 1208.4h0M167.7 1203.7h0M152.9 1180.8h0M156.6 1191.5h0M157.1 1199.7h0M149.5 1150.2h0M161.5 1208.3h0M164.8 1212.7h0M166.4 1206.4h0M155.7 1169.3h0M150.2 1163.5h0M165.4 1226.2h0M164.9 1219.2h0M148.2 1143.5h0M166.1 1224h0M163 1197.3h0M160.8 1191.7h0M166 1211.4h0M175.4 1226.3h0M163.4 1211.9h0M146.8 1143.4h0M163.2 1198h0M148.8 1160.1h0M166.8 1225.9h0M157.9 1197.9h0M146.1 1143.8h0M159.8 1196.7h0M171 1213.2h0M163.8 1218.5h0M160.6 1204.1h0M148.7 1148.9h0M171.5 1224.3h0M170.6 1213.9h0M152.5 1166.6h0M170 1214h0M164 1193.9h0M150.7 1162.9h0M167.5 1217.6h0M152.4 1145.1h0M172.3 1220.2h0M154.2 1181.7h0M167.4 1229.1h0M162.9 1214.8h0M162.6 1194.8h0M167.8 1227.7h0M161.9 1194.6h0M164.6 1208h0M172.5 1224.9h0M152.4 1170.2h0M166.9 1224.8h0M150.5 1143.9h0M159.5 1193.5h0M153.2 1181.4h0M164.1 1210.3h0M152.8 1174.6h0M163.7 1204h0M157.9 1195.5h0M156.3 1183.6h0M146.2 1146.2h0M149.6 1140.8h0M168.8 1208.8h0M155.7 1190.8h0M157.9 1198.2h0M156.1 1179.1h0M154 1186.6h0M152.9 1154.7h0M164.7 1215.5h0M160.5 1193.9h0M151.8 1152.3h0M167.9 1227.6h0M157.3 1195.2h0M148.5 1158.3h0M164.7 1199.5h0M153.1 1182.3h0M155.1 1183.9h0M163 1210.5h0M147.7 1154.1h0M164.6 1223.4h0M159.3 1184.1h0M163.1 1205.2h0M155.4 1167.1h0M151.4 1168h0M162.1 1203.2h0M147.2 1149.4h0M163.4 1220.1h0M158.7 1200.7h0M168.8 1220.7h0M154.1 1187.5h0M154.9 1186.9h0M166.1 1224.3h0M169.1 1216.5h0M149.6 1154.5h0M150.6 1158.3h0M150.5 1146.3h0M165.7 1216.2h0M148 1153.2h0M161.6 1202.1h0M170.8 1219.6h0M163.2 1211.5h0M239.9 1220.5h0M234.6 1219.4h0M228.9 1227h0M232.7 1193.2h0M237.7 1223.4h0M242.8 1218.8h0M231.5 1217.7h0M216.1 1182.7h0M237.2 1194.8h0M241.4 1148.7h0M239.7 1220h0M236.2 1220.6h0M240.8 1208.3h0M231.9 1214.5h0M241.7 1229.5h0M229.3 1195.7h0M237.3 1180.5h0M236.4 1228.9h0M234 1187.2h0M233.4 1203.7h0M237.9 1213.8h0M236.4 1224.7h0M242.5 1172.2h0M241.9 1200.8h0M236.3 1226.8h0M233.7 1226.3h0M232.6 1231.2h0M241.9 1229.6h0M239.5 1213.6h0M236.6 1206.2h0M242.6 1192.2h0M240.3 1179.9h0M234.4 1221.4h0M224 1229.4h0M241.4 1223.2h0M240.1 1221.6h0M242.7 1203.2h0M230.6 1150.3h0M234.5 1151.3h0M223.5 1223.6h0M237.7 1153.5h0M224.5 1224.8h0M240.8 1214.9h0M241.8 1207.4h0M222.7 1195.9h0M238.7 1225.8h0M242.2 1212.1h0M226.7 1210.5h0M221.4 1204.3h0M232.9 1183h0M239.7 1210.6h0M243 1176.3h0M242.4 1182.8h0M222.5 1153.9h0M235.8 1212.9h0M241.5 1223.4h0M235 1220.8h0M232 1228.3h0M236.8 1165.9h0M231.6 1196.9h0M236.1 1222.4h0M239.8 1224h0M231.2 1192.4h0M241.3 1221.4h0M237.1 1217.3h0M229.1 1216.9h0M242.5 1213.5h0M239.1 1191.7h0M223.4 1209.3h0M240.2 1200.7h0M219.5 1193.9h0M238.3 1176.3h0M240.3 1214.1h0M241.2 1200.3h0M224.8 1224h0M241.7 1230.5h0M232.8 1224.6h0M222.9 1229.7h0M224.6 1192h0M220.6 1229.9h0M229.4 1209.4h0M242 1195.9h0M231.6 1190.9h0M236 1231.1h0M237.3 1221.5h0M240.3 1216.1h0M240.3 1225.8h0M241 1215.1h0M229.2 1222.2h0M227.6 1194.1h0M230.7 1203.5h0M238.4 1210h0M239.6 1228.6h0M225 1223.9h0M231.9 1221.3h0M241.4 1212.4h0M236.9 1229.8h0M230.6 1201.9h0M225.3 1209.9h0M239.1 1207.3h0M222 1228.2h0M233.7 1214.7h0M242.3 1221h0M240 1177.7h0M241.5 1160.6h0M240.8 1217.1h0M238.6 1182h0M242.7 1219.5h0M236.8 1219.3h0M242.7 1227.4h0M242.9 1172.1h0M210.6 1220.7h0M234 1216.8h0M239.8 1226.9h0M239.4 1229.6h0M242.9 1178.4h0M243.2 1213.6h0M241.5 1224.6h0M222.9 1162.5h0M233.1 1229.7h0M214.2 1225.9h0M242.9 1206.9h0M242.8 1219.7h0M240.5 1199.1h0M242.4 1215.6h0M228.8 1213.2h0M232.3 1225.8h0M234.4 1217.3h0M236.8 1220h0M237.3 1228.3h0M241.2 1196.7h0M239.8 1222.2h0M239.3 1174.4h0M241.5 1209.9h0M237.5 1228.9h0M235.4 1228.6h0M233.5 1204h0M237.9 1197.7h0M232.6 1230.5h0M211 1214.4h0M240 1210.9h0M234.5 1221.8h0M235.8 1221h0M234.1 1184.9h0M242.1 1226h0M239.3 1217.8h0M233.1 1222.5h0M241.3 1212.9h0M227.3 1227.3h0M230.9 1215.9h0M226.2 1216.5h0M242.8 1188.9h0M243 1188.5h0M242.8 1203.5h0M239.2 1226.2h0M236 1195.6h0M230.3 1186h0M224.1 1228.6h0M232.7 1225h0M237.3 1212.1h0M226.3 1210.3h0M235.7 1214.8h0M233.9 1221.1h0M220.6 1183.8h0M233.1 1230.5h0M222.5 1229.1h0M238.4 1225.8h0M235.4 1188.2h0M239.1 1192.8h0M242.6 1157.3h0M237.8 1224.6h0M235.4 1189.7h0M238.9 1209.2h0M233.9 1213.4h0M232.5 1225.4h0M236.6 1161.5h0M237.5 1193.8h0M238 1228.1h0M243 1204.8h0M236.3 1223.8h0M239.9 1180.1h0M238.9 1154.9h0M231.5 1200.6h0M241.6 1198.3h0M239.3 1168.3h0M227.7 1228.9h0M230.5 1173.9h0M235.6 1219.2h0M236.6 1219.1h0M235.3 1222.6h0M243 1219.1h0M241 1220.1h0M240.5 1227.9h0M232 1226.1h0M240 1209.9h0M242.8 1222.9h0M238.3 1170.1h0M211.6 1183.6h0M242.5 1216.1h0M236.7 1209.8h0M239.2 1207.7h0M236.9 1216.6h0M235.6 1214.1h0M239.8 1173.7h0M241.6 1212.7h0M243 1212.4h0M237.8 1217.8h0M242.6 1226.8h0M238.4 1227.7h0M240.5 1209.1h0M221.9 1216.8h0M230.9 1229.3h0M240.4 1226.8h0M232 1184.2h0M215 1219.4h0M231.2 1218.8h0M240.2 1200h0M233.2 1220.9h0M238.7 1222.2h0M235.6 1226.2h0M236.8 1218.2h0M232.2 1218.9h0M233.1 1215.8h0M239.3 1223.9h0M221.4 1228.3h0M236 1224.4h0M237.5 1190.6h0M239 1211.4h0M240.1 1227.6h0M227.2 1226.2h0M235.9 1221.8h0M238.1 1217.5h0M222.8 1226.7h0M236.5 1167h0M242.4 1216.3h0M227.8 1160.1h0M241.7 1219.6h0M229.6 1199.4h0M235.2 1192.2h0M236.5 1231.2h0M238.6 1212.4h0M235 1221h0M239.7 1223.4h0M239.7 1196.8h0M231.8 1202.9h0M238 1201.1h0M237.1 1219.6h0M235.7 1197.9h0M233.4 1221.2h0M238.1 1220h0M235.3 1208.5h0M242 1184.3h0M239 1188.8h0M238.2 1220h0M236.4 1183h0M239.8 1216.3h0M214.2 1199.9h0M241.9 1228.2h0M242 1227h0M243.1 1229.2h0M222.3 1200.3h0M236.8 1221.4h0M233.6 1188.6h0M225.4 1213.8h0M238.6 1196.6h0M215.3 1205.9h0M242.1 1228.8h0M232.8 1193.7h0M240.4 1230.1h0M236.3 1223.6h0M243 1211.3h0M242.9 1221h0M238.7 1230.2h0M234.1 1169.4h0M242.9 1193.4h0M236.4 1208.2h0M240 1222.1h0M239.6 1204.2h0M234.5 1223.2h0M243.1 1217.3h0M241.4 1221.3h0M233.1 1228.3h0M231.2 1202.2h0M235.4 1205.4h0M237.3 1220.9h0M240.9 1203.6h0M240.8 1170.1h0M243 1191.8h0M237.8 1226.8h0M243 1164.8h0M241 1212.9h0M238.4 1216.7h0M235.2 1226.5h0M240.1 1203.9h0M237.3 1213.5h0M241.1 1187.4h0M220.1 1221.7h0M229.6 1202.3h0M223.3 1224.7h0M231 1179.6h0M242.2 1173h0M239 1230.9h0M240.2 1219.8h0M234.7 1224.2h0M243.1 1206.9h0M242.7 1224.8h0M223.9 1201.2h0M237.2 1153.3h0M238.3 1228.5h0M233.9 1207.3h0M241.2 1166.7h0M239.5 1193.8h0M240.2 1178.9h0M220.7 1215h0M243.1 1217.2h0M240.2 1207.5h0M237.1 1227.2h0M227.9 1225.4h0M241.6 1195h0M240.6 1206.2h0M234.8 1181.8h0M218.9 1228.4h0M233.2 1206.2h0M240.6 1196h0M226.7 1213.3h0M228.4 1187h0M217.7 1214.2h0M237.5 1230.9h0M235 1221.8h0M238.2 1222.2h0M234.6 1221.8h0M231 1190.4h0M242.4 1165.6h0M230.2 1215.4h0M237.1 1191.5h0M241.5 1205.5h0M228.6 1226.3h0M238.7 1230.8h0M241.6 1172.6h0M237.7 1178.5h0M234.2 1160.2h0M230.5 1192.2h0M239.5 1164.8h0M238.4 1205.6h0M242.9 1176.1h0M239.7 1164.3h0M231.2 1223.3h0M240.1 1223.2h0M243.1 1209.9h0M240.1 1179.6h0M234.3 1213h0M224.2 1150.6h0M237.5 1182.7h0M241.7 1206.4h0M243.1 1202h0M230.8 1216.5h0M237.3 1216.2h0M238.8 1227h0M239.6 1229.5h0M234.9 1227h0M232.4 1204.9h0M231.6 1201.8h0M233.8 1212.9h0M242.7 1228.1h0M219.9 1192.8h0M242.8 1181.9h0M241.4 1227.9h0M230.2 1227.8h0M238.5 1156.8h0M237.7 1176.1h0M242.4 1224.8h0M241 1151.1h0M240.6 1225.4h0M236.2 1227.1h0M239.9 1203.4h0M225.4 1165.1h0M225.6 1223.4h0M240.5 1200.4h0M229.6 1227h0M241.2 1231.3h0M238.5 1168.8h0M242.9 1230.7h0M241.9 1216.3h0M242.1 1219.2h0M238.2 1207.9h0M235 1231.3h0M231 1193h0M241.3 1218h0M233.9 1206.9h0M242.4 1192.5h0M237.1 1173.6h0M242.3 1215.5h0M238.6 1230.3h0M232.3 1223.1h0M239.1 1230.1h0M241 1224.1h0M242.6 1205.4h0M233.5 1227.4h0M241.1 1223.9h0M240.4 1186.6h0M243 1176.4h0M239.6 1153.5h0M219.4 1218.9h0M235 1224.4h0M234.5 1229.9h0M229.2 1221.7h0M242.1 1207.7h0M238.6 1214h0M236.2 1167.4h0M242.6 1227.6h0M241.7 1196.5h0M242.1 1211.9h0M235.2 1213.2h0M241.7 1219.1h0M242.7 1205.8h0M239.5 1221.1h0M227.5 1194.6h0M229.5 1183.6h0M236.6 1194.4h0M240.9 1193.7h0M241.4 1225.4h0M241.6 1225.8h0M238.2 1210.5h0M226.4 1204.5h0M237.3 1225.4h0M241.7 1231.1h0M242.6 1205.7h0M231.8 1230.6h0M242.5 1203.8h0M235 1202.7h0M242.9 1210.2h0M242.4 1179.9h0M228.1 1168.9h0M232.2 1215.3h0M239.9 1189.1h0M238.3 1193.8h0M224.9 1214h0M237.4 1226.8h0M238.3 1220h0M237.7 1192h0M240.3 1229.8h0M241.2 1231h0M230.5 1224.7h0M236 1222.8h0M241.2 1189.1h0M240.9 1227.6h0M239 1211.8h0M232.4 1229.2h0M231.2 1230.9h0M242.7 1228.5h0M227.8 1209.4h0M242.6 1230.2h0M233.6 1212.9h0M232.8 1208.9h0M240.4 1170.3h0M238.5 1224.4h0M236.2 1219.4h0M234.1 1171.7h0M191.3 1208.8h0M224.7 1199.9h0M174.4 1176.1h0M231.7 1228.8h0M174.5 1230h0M203.4 1196.3h0M221.9 1222.4h0M175.7 1213.6h0M181.3 1217.6h0M224.4 1225h0M197.8 1226.3h0M235.4 1229.6h0M184.1 1198.7h0M181.3 1230.9h0M198.6 1217.7h0M178.9 1200.5h0M237.5 1210.1h0M223 1208.1h0M217.2 1192h0M205.1 1216.5h0M219.3 1200.6h0M198.1 1179.3h0M219.9 1206h0M173.7 1225.1h0M195.4 1227.1h0M200 1231.3h0M222.4 1192.5h0M195.2 1229h0M216.1 1202.2h0M225.1 1226.2h0M205.2 1210.8h0M204.1 1227.3h0M193.1 1214.5h0M233.8 1219.1h0M199.3 1219.9h0M223.9 1194.2h0M196 1215.7h0M186 1217.8h0M207.2 1229.2h0M219.2 1200.1h0M183.2 1224.7h0M204.1 1213h0M188.6 1226.1h0M206.2 1224.7h0M190.9 1210.7h0M172.2 1216h0M239.8 1225.7h0M189.6 1201.8h0M189.1 1226.5h0M175.6 1225h0M184.1 1224.3h0M234.5 1228.3h0M233.3 1220.7h0M229.3 1188.1h0M186.3 1212.6h0M199.7 1221.6h0M237.4 1225.5h0M221.4 1230.3h0M220.2 1219.3h0M190.1 1223.7h0M210.6 1222.6h0M199 1208.7h0M184.1 1211.8h0M202.7 1230.7h0M192.7 1221.7h0M175.9 1229h0M191.1 1202h0M237.2 1199.3h0M224.2 1209.7h0M182.8 1204.9h0M215 954.2h0M189.5 988.8h0M135.4 1084.3h0M137.2 1094.4h0M202.2 1104.4h0M196.1 1120.6h0M225.8 1123.2h0M186.4 1147.8h0M169.6 1158.2h0M116.9 1223h0M127.2 1228.8h0" stroke="#4267b2" stroke-width="4.7" stroke-linecap="round" fill="none"/>
<path d="M361.6 1189.2h0M360.8 1189h0M347.9 1219.2h0M362 1174.7h0M357.7 1188.7h0M354.2 1202.9h0M355 1218h0M361.7 1180.8h0M360.2 1171.3h0M356.7 1192h0M352.8 1208.7h0M364.4 1175.7h0M356.4 1190h0M365.4 1170h0M364.2 1175.3h0M355.5 1209.2h0M351.3 1230.5h0M355.9 1201.8h0M353.7 1208.1h0M363.8 1178.3h0M363.1 1174.5h0M364.5 1176.8h0M354.9 1206.4h0M360.7 1191.7h0M348.2 1227.5h0M362.5 1174h0M353.3 1203.3h0M363.9 1171.9h0M361 1185.7h0M357.4 1206h0M359.8 1192.5h0M359.2 1193.1h0M358.2 1203.2h0M354.6 1207.1h0M355.5 1212.4h0M365.7 1166.9h0M345.9 1227h0M359.3 1195.5h0M361 1193.3h0M354.1 1208h0M362.9 1184.1h0M353.5 1226.6h0M355.3 1209.5h0M355.8 1212.5h0M365.2 1173.7h0M356.1 1211.6h0M362.4 1163.3h0M356.7 1205.5h0M353.8 1196.5h0M357.6 1190.5h0M350.9 1213h0M352 1215.7h0M360.4 1188.9h0M352.6 1214.6h0M347.2 1223.4h0M363.9 1177.3h0M357 1208.6h0M356.3 1200.5h0M359.1 1199.7h0M353.5 1224.5h0M351.8 1217.4h0M361.9 1164.6h0M352.6 1196h0M353.9 1223.5h0M365.9 1170.5h0M352.2 1203.2h0M360.7 1182.6h0M362.2 1172.2h0M356.5 1203.8h0M364.9 1172.9h0M359.9 1197.8h0M359.2 1178.9h0M351 1228h0M363.4 1184h0M353.7 1220.9h0M364.4 1173.3h0M365.9 1170.8h0M352.6 1227.3h0M361.8 1187.1h0M348.3 1227.2h0M361.3 1193.1h0M357.2 1185.7h0M360.9 1181h0M356.3 1209.8h0M358.8 1201.6h0M356.2 1200h0M351.1 1210.5h0M356.9 1193.1h0M349.9 1207.2h0M363.7 1179.4h0M358.8 1194h0M352.2 1220.7h0M356.7 1197.4h0M355.1 1209.4h0M355.6 1201.7h0M357.4 1190.1h0M361 1188.7h0M353.9 1198.9h0M349.8 1220.5h0M355.1 1211.2h0M302.9 1205.2h0M279.2 1218.1h0M299.4 1222.8h0M291.5 1229.9h0M281.1 1202.4h0M280.6 1175.8h0M289.3 1218.2h0M276.9 1205.4h0M279.8 1206h0M279.2 1184.7h0M281.6 1214.4h0M299.3 1223.6h0M284.4 1192h0M280.6 1213.4h0M291.1 1227.3h0M278.3 1224.5h0M291 1203.5h0M280.8 1220.7h0M286.9 1227.7h0M279.1 1170.9h0M279.1 1228.7h0M276.9 1176.8h0M277.2 1222.7h0M277.3 1218.8h0M290.9 1229.7h0M278.5 1229.4h0M282.2 1213.1h0M302 1210.9h0M280.2 1190.4h0M289.4 1227.6h0M277.7 1214h0M304.3 1224.1h0M296.4 1224.9h0M281.4 1224h0M283.5 1211.2h0M277.5 1199.3h0M278.9 1214.6h0M289.3 1208.6h0M280 1221.1h0M285.7 1184h0M279.8 1203.5h0M296.3 1207.8h0M280.1 1215.8h0M284 1209.5h0M288.5 1205.2h0M278.1 1225.5h0M279.2 1212.9h0M289.7 1202h0M283.4 1225.2h0M290.3 1231.2h0M289.4 1194.6h0M278.7 1225.2h0M292.1 1212.1h0M287.7 1185.7h0M285.2 1215.6h0M283.8 1203.7h0M277.7 1227.6h0M285.3 1217h0M280.2 1228.2h0M290.4 1199.3h0M278.7 1229.9h0M284 1190.5h0M283.2 1199.4h0M295.3 1196.6h0M276.9 1212.4h0M284.6 1208.9h0M277.4 1216.6h0M278.1 1220.9h0M285.7 1196.6h0M291 1218.4h0M282.9 1186.7h0M285.8 1222.9h0M278.2 1215.4h0M285.6 1209.8h0M278.5 1229.9h0M287.4 1208h0M278.6 1205.5h0M281.4 1218.7h0M277.4 1191.2h0M279 1184.1h0M287.6 1178.8h0M279.1 1195.3h0M279.5 1196.7h0M277.6 1209h0M279.5 1193.2h0M278.3 1229h0M290.5 1211.5h0M293.4 1224.5h0M289.1 1209.5h0M277.7 1222.2h0M281.9 1176.7h0M284.5 1217.6h0M296 1218.5h0M277.1 1177.5h0M302 1217.1h0M282.1 1227.2h0M278.1 1221.8h0M285.9 1217.3h0M281.3 1212.6h0M281.5 1224h0M281.6 1200.5h0M288.2 1217h0M276.8 1186.5h0M299.1 1210h0M285.6 1219h0M282.9 1222.8h0M280.8 1231.1h0M282.9 1216.7h0M279.3 1169.1h0M282 1220.6h0M287 1229.3h0M281 1224.3h0M280.1 1225.2h0M278.1 1224h0M283.7 1228h0M280.5 1211.5h0M277.2 1188h0M281 1172.7h0M286.3 1202.9h0M313.9 1227.3h0M328.7 1213.9h0M327.2 1223.8h0M309.7 1221.3h0M321.3 1205.9h0M326.9 1210.3h0M290.6 1225.4h0M279.9 1205.2h0M345.7 1225.9h0M333.3 1216.9h0M316.1 1199.6h0M294.4 1227.2h0M305.2 1228.3h0M314.2 1212.3h0M307.3 1186.6h0M287.1 1218.8h0M284.4 1224.9h0M324.2 1209.2h0M298.4 1230.9h0M332.9 1222.3h0M304.5 1229.3h0M344.5 1229.4h0M339.3 1218.8h0M336.9 1228h0M328.5 1222.7h0M314.1 1227.5h0M320.4 1218.9h0M329.3 1230.3h0M325.9 1230h0M308.8 1221.5h0M291.6 1228.9h0M308.1 1219.4h0M323.4 1188.3h0M285.8 1223.9h0M296.9 1207.6h0M299 1223.5h0M314.3 1225.3h0M319.8 1216h0M299.9 1228.7h0M335.5 1228.5h0M312.3 1226.4h0M308 1211.1h0M331.6 1216.7h0M291.1 1214.4h0M291.4 1028.8h0M396 1025.5h0M288.7 1086h0M382.1 1094.4h0M283.3 1105.4h0M309.5 1114.2h0M372.4 1138h0M296 1149.8h0M322.5 1175h0M392.3 1229.8h0M279.8 1145.8h0M284.8 1142.4h0" stroke="#c8404f" stroke-width="4.7" stroke-linecap="round" fill="none"/>
<line x1="243.5" y1="938.3" x2="243.5" y2="1292.4" stroke="#111" stroke-width="1.3" stroke-dasharray="4.2 3.6"/>
<line x1="276.5" y1="938.3" x2="276.5" y2="1292.4" stroke="#111" stroke-width="1.3" stroke-dasharray="4.2 3.6"/>
<line x1="80" y1="1233.1" x2="441.3" y2="1233.1" stroke="#111" stroke-width="1.3" stroke-dasharray="4.2 3.6"/>
<line x1="80" y1="938.3" x2="441.3" y2="938.3" stroke="#7c7c7c" stroke-width="1.6"/>
<line x1="80" y1="1292.4" x2="441.3" y2="1292.4" stroke="#7c7c7c" stroke-width="1.6"/>
<circle cx="232.5" cy="1182.3" r="4.2" fill="none" stroke="#222" stroke-width="1.1"/>
<line x1="232.5" y1="1186.5" x2="232.5" y2="1196" stroke="#222" stroke-width="1.1"/>
<text x="214.3" y="1203.7" font-size="12.3" text-anchor="middle" fill="#222">Wif1</text>
<circle cx="265.9" cy="1265.9" r="4.2" fill="none" stroke="#222" stroke-width="1.1"/>
<line x1="268.5" y1="1262.5" x2="277" y2="1252" stroke="#222" stroke-width="1.1"/>
<text x="279.7" y="1251.3" font-size="12.3" text-anchor="middle" fill="#222">Serpinf1</text>
<circle cx="259.7" cy="1275" r="4.2" fill="none" stroke="#222" stroke-width="1.1"/>
<line x1="255.5" y1="1275.5" x2="248" y2="1276.5" stroke="#222" stroke-width="1.1"/>
<text x="232.5" y="1281.1" font-size="12.3" text-anchor="middle" fill="#222">Ccn4</text>
<text x="74.5" y="1280.3" font-size="9.8" text-anchor="end" fill="#1a1a1a">0.0</text>
<text x="74.5" y="1196.3" font-size="9.8" text-anchor="end" fill="#1a1a1a">2.5</text>
<text x="74.5" y="1112.3" font-size="9.8" text-anchor="end" fill="#1a1a1a">5.0</text>
<text x="74.5" y="1028.3" font-size="9.8" text-anchor="end" fill="#1a1a1a">7.5</text>
<text x="74.5" y="944.3" font-size="9.8" text-anchor="end" fill="#1a1a1a">10.0</text>
<text x="95" y="1305" font-size="9.8" text-anchor="middle" fill="#1a1a1a">-10</text>
<text x="177.5" y="1305" font-size="9.8" text-anchor="middle" fill="#1a1a1a">-5</text>
<text x="260" y="1305" font-size="9.8" text-anchor="middle" fill="#1a1a1a">0</text>
<text x="342.5" y="1305" font-size="9.8" text-anchor="middle" fill="#1a1a1a">5</text>
<text x="425" y="1305" font-size="9.8" text-anchor="middle" fill="#1a1a1a">10</text>
<text x="260" y="902" font-size="20.5" text-anchor="middle" font-weight="bold" fill="#111">Volcano Plot</text>
<text x="260" y="923.4" font-size="15.2" text-anchor="middle" fill="#111">Total Genes: 22066</text>
<text x="260" y="1327.3" font-size="15" text-anchor="middle" font-weight="bold" fill="#111">log2(FC)</text>
<text transform="translate(34.5,1117) rotate(-90)" font-size="15" font-weight="bold" text-anchor="middle" fill="#111">-log10(pVal)</text>
<text x="452.2" y="1090.5" font-size="12.3" font-weight="bold" fill="#111">Significant</text>
<circle cx="460.4" cy="1109" r="2.9" fill="#c8404f"/>
<text x="474.2" y="1113.3" font-size="12.2" fill="#111">Sig_Up (194)</text>
<circle cx="460.4" cy="1124.2" r="2.9" fill="#a9a9a9"/>
<text x="474.2" y="1128.5" font-size="12.2" fill="#111">NoDiff (21297)</text>
<circle cx="460.4" cy="1139.5" r="2.9" fill="#4267b2"/>
<text x="474.2" y="1143.8" font-size="12.2" fill="#111">Sig_Down (575)</text>
<line x1="1038.7" y1="938.3" x2="1038.7" y2="1292.4" stroke="#e9e9e9" stroke-width="1"/>
<path d="M739.7 1246.1L749.4 1251.3L758.2 1256L793.4 1266.9L828.6 1273.7L846.2 1276.8L863.8 1273.7L899 1266.9L934.2 1254.4L946.5 1246.1L946.5 1246.1L863.8 1246.1L863.8 1190.9L861.2 1190.9L858.5 1211.9L846.2 1269.7L832.5 1213.3L830.7 1191.8L828.6 1191.8L828.6 1246.1L739.7 1246.1Z" fill="#9a9a9a"/>
<path d="M768.4 1259.6h0M810 1271.4h0M900.1 1267.3h0M807.7 1270h0M892.5 1267.4h0M926.5 1257.3h0M905.2 1264.9h0M782.4 1262.1h0M875 1271.7h0M828.7 1271.7h0M802.1 1268.9h0M753.3 1253.1h0M746.7 1250h0M835 1275.2h0M916.5 1259.7h0M903.5 1265.8h0M904.4 1263.7h0M767 1257.7h0M803.1 1269.3h0M777.6 1262.6h0M902.7 1265.9h0M890.3 1267.8h0M827.6 1273.1h0M828.1 1274h0M803.2 1267.4h0M916.8 1259.7h0M881.5 1270.2h0M922.9 1259.2h0M878.5 1270.9h0M747.2 1248.4h0M758.4 1254.7h0M817.4 1271.7h0M824 1271.2h0M889.6 1268.9h0M880.1 1269.9h0M795.2 1266.7h0M848.7 1274.7h0M750.3 1252.5h0M928.4 1256.7h0M841.7 1274.7h0M916.9 1260.1h0M892.9 1267.4h0M878.6 1271.4h0M782.8 1264.5h0M827.9 1273.7h0M826.2 1273.9h0M758.1 1255h0M879.2 1271.1h0M886.9 1270.2h0M862.1 1273.9h0M788.3 1265.8h0M802.3 1267.9h0M765.3 1257.5h0M840.7 1276h0M830.2 1274.1h0M852.9 1275.2h0M934.2 1255.4h0M838.2 1276h0M765.3 1258.4h0M827.9 1272.5h0M945.8 1247h0M842.1 1276.5h0M754.4 1253.7h0M830.1 1274.5h0M921.1 1258.5h0M909.6 1263.5h0M891.1 1269h0M848.3 1275.9h0M905.3 1263.9h0M814.1 1270.7h0M767.7 1259.2h0M784.9 1264h0M918.2 1259h0M820.1 1271.5h0M835 1273.8h0M788.1 1266.2h0M911.4 1262.3h0M752.8 1251.8h0M862.4 1274.2h0M756.7 1255.6h0M755.8 1254.7h0M904.4 1265h0M858.5 1275.3h0M851.7 1276.3h0M780.9 1263.5h0M892.2 1268.3h0M896.2 1267.1h0M745.5 1247.5h0M811.9 1269.3h0M857.3 1275.2h0M920.7 1260.2h0M788.2 1264.4h0M809.3 1268.6h0M817.1 1271.7h0M869 1273.1h0M784.2 1264.1h0M814.1 1271.1h0M856.4 1274.4h0M894.8 1267.9h0M896.9 1267.1h0M858.2 1275.5h0M945.3 1246.6h0M779 1262.1h0M777.6 1262h0M832.8 1274.8h0M876.8 1271h0M746.1 1250.1h0M817.7 1269.5h0M856.6 1274.8h0M834 1274.8h0M853.5 1275.9h0M752.4 1252.6h0M797.8 1268.9h0M898.3 1266.7h0M789.6 1266.1h0M743 1248.1h0M781.3 1261.7h0M925.5 1256.7h0M834.2 1274.9h0M879.7 1271h0M865.9 1273h0M848.6 1276.6h0M839.4 1275h0M888.2 1268.4h0M872 1272.7h0M774.2 1261.3h0M830 1273.8h0M933.7 1254.7h0M858.3 1274.1h0M851.4 1276.3h0M779.6 1262.8h0M825.4 1272h0M944.3 1247.9h0M822.2 1271.3h0M911.8 1262.8h0M789 1266.6h0M786.6 1265h0M788.9 1265.1h0M855.5 1275.6h0M863 1273.9h0M840.4 1276.3h0M853.2 1276.3h0M856.2 1275.4h0M927.3 1254.7h0M801 1268.7h0M886.4 1269.9h0M802.4 1268.6h0M891.5 1268.5h0M918.8 1258h0M773.7 1261.3h0M791.3 1267.1h0M751.6 1252.5h0M922.8 1259.5h0M786.1 1264.4h0M761.1 1256.3h0M910.1 1262.9h0M778.2 1261.3h0M826.1 1271.7h0M843.4 1276.2h0M832.2 1274.9h0M867.5 1273.7h0M798.3 1266.2h0M771.7 1257.9h0M917.8 1259.6h0M860.9 1274.9h0M843.3 1277h0M799.5 1266.9h0M818.7 1272.4h0M868 1272.1h0M912.5 1262.7h0M879.2 1271.1h0M750 1251.5h0M820.2 1272.3h0M771.6 1260h0M841 1276.5h0M835.4 1274.2h0M883.6 1269.6h0M768.4 1258.3h0M937.4 1250.9h0M761.2 1256.2h0M820.3 1271.4h0M749.3 1251.2h0M848.4 1278h0M753.7 1253.3h0M825.9 1271.9h0M918.9 1260h0M845.5 1276.7h0M940.4 1249.5h0M868 1272.6h0M766.9 1259.3h0M923.9 1258.8h0M773.3 1260.9h0M896.5 1267.6h0M906.4 1265.5h0M828.3 1273.7h0M862.4 1273.4h0M870.4 1272.6h0M763.6 1258.2h0M883.4 1268.5h0M914.7 1261.3h0M879.5 1269.7h0M868 1272.5h0M758.7 1255.7h0M821.4 1272.5h0M814.3 1269.5h0M914.6 1261.7h0M874.6 1270.3h0M942.2 1249h0M768.5 1259.6h0M766.9 1259.3h0M802.5 1269h0M905.3 1264.9h0M856.4 1275.4h0M819.8 1271.5h0M740.5 1246.1h0M854.7 1275.6h0M914.7 1260.3h0M861.9 1273.1h0M892.8 1268.5h0M819.2 1271.8h0M849.9 1276.3h0M857.3 1275.5h0M868.6 1273.3h0M892.2 1268.7h0M796.9 1266.8h0M747.3 1250.8h0M766.7 1257.8h0M908.8 1263.7h0M883.9 1269.6h0M817 1272.1h0M784.9 1262.2h0M895.9 1268.5h0M900.6 1267.2h0M814.9 1270.1h0M805.9 1268.1h0M751.4 1252.8h0M836.2 1272.8h0M786.3 1264.1h0M871.6 1272.8h0M792.9 1266.5h0M754.1 1253.7h0M863.2 1273.3h0M752.9 1254.7h0M882.9 1270h0M755.6 1252.9h0M857 1275.8h0M843.3 1275.8h0M856.3 1275.2h0M912.4 1261.7h0M756.8 1254.1h0M784.2 1262.4h0M927.5 1255.9h0M924.2 1257.6h0M893.1 1267.3h0M765.8 1256.7h0M829 1273h0M911.6 1262h0M926.9 1257.2h0M934.7 1253.3h0M880.8 1270h0M710.7 1249.7h0M731.8 1252h0M967.6 1250.4h0" stroke="#9a9a9a" stroke-width="4.6" stroke-linecap="round" fill="none"/>
<path d="M760.4 1250.4h0M761.1 1250.3h0M785.2 1257.5h0M774.3 1252h0M782.3 1254.1h0M801 1256h0M768 1249.3h0M768.9 1249.3h0M888.2 1254.6h0M882.5 1251.4h0M893.2 1249.3h0M921.1 1252.4h0M924.9 1249.9h0M933.1 1248h0M911.7 1252.3h0M915.9 1251.1h0" stroke="#ffffff" stroke-width="2.6" stroke-linecap="round" fill="none"/>
<path d="M726.1 1204h0M711.1 1153.1h0M722.7 1178.3h0M729.9 1207.3h0M735.9 1216.8h0M730.8 1226.8h0M750.7 1240.5h0M729.4 1225.6h0M724.9 1213.9h0M746.8 1237.5h0M728.8 1220.6h0M724.5 1198.9h0M719.4 1159.2h0M716.4 1180.1h0M717.3 1185.4h0M724.8 1192.2h0M747.4 1238h0M731.4 1223h0M720.4 1163.3h0M745.9 1232.7h0M743.2 1233.4h0M741.2 1224.2h0M741.4 1238.2h0M717.8 1184.6h0M744.5 1230.1h0M734.2 1234.3h0M734.6 1222.6h0M745.4 1236.8h0M745.4 1241.7h0M725.7 1198.8h0M725.3 1183.5h0M726.1 1216.6h0M740.7 1243.8h0M726.7 1215.5h0M735.6 1224.4h0M721 1187.8h0M739.7 1240h0M738.1 1240.4h0M738.8 1230.8h0M729.4 1215.2h0M730.9 1227.4h0M743.6 1242.2h0M738.5 1231.5h0M730.3 1228.3h0M740.9 1223.3h0M711.4 1147.5h0M745 1243.4h0M716.9 1162.9h0M736.5 1213.7h0M714.5 1150h0M729.6 1223.5h0M730.2 1226.2h0M723.9 1207h0M743 1240.6h0M730.9 1229.5h0M744.5 1228.3h0M746.7 1239.9h0M734.1 1232h0M733.6 1214.7h0M733.5 1232h0M726.2 1206h0M743 1238.4h0M741.7 1232.2h0M714.9 1174.6h0M735.3 1219h0M737.7 1229.6h0M717 1150.2h0M723.5 1194.8h0M740.9 1227.2h0M732.4 1232h0M738.7 1219.7h0M722 1195.4h0M744.6 1241.2h0M720.5 1173.2h0M744.9 1241.1h0M725.1 1198.4h0M740.1 1228.8h0M734.6 1217.8h0M743.8 1239.2h0M729.6 1222.2h0M720.9 1182.4h0M725.7 1215h0M744.1 1233.6h0M742 1234.3h0M719.1 1191.3h0M718 1181.3h0M739.2 1223.5h0M730.6 1212.7h0M748.9 1240.6h0M724.7 1213.1h0M730.1 1211.4h0M734 1212.6h0M738 1230.9h0M738.8 1235.4h0M715.5 1179.2h0M744.8 1240.3h0M729.5 1207.8h0M725.4 1196h0M717.6 1187.9h0M728 1197.7h0M733 1226.6h0M736.1 1221.2h0M753.1 1242.8h0M717.4 1146.2h0M730.7 1205.8h0M719.9 1182.6h0M713.3 1148.1h0M727.6 1219.9h0M722.7 1200.1h0M729.2 1219.2h0M744.2 1228.2h0M732.8 1232.2h0M718.2 1191.1h0M731.9 1220.8h0M747.5 1239.6h0M719.6 1196.4h0M731.5 1218.3h0M732.4 1224.4h0M711.1 1143.3h0M743.2 1229.2h0M714 1156.1h0M734.7 1235.8h0M732.6 1213.4h0M741.8 1235.7h0M726 1217.8h0M735.4 1236.6h0M723.1 1201.3h0M732.3 1215h0M714.8 1164.8h0M715 1175h0M714 1149.3h0M725.8 1211.7h0M734.7 1220.6h0M721.1 1180.5h0M722.2 1181h0M726.9 1216.8h0M745.5 1242.2h0M726.7 1205.6h0M727.1 1213h0M734.8 1228.9h0M746.2 1234.9h0M720.3 1201.3h0M742 1225.1h0M726.8 1208.9h0M725.6 1205.5h0M713.7 1169h0M726.4 1197.3h0M725.2 1182.8h0M717.7 1184.2h0M733.6 1235.3h0M716.7 1179.9h0M746.9 1237.5h0M731.3 1224.7h0M723.5 1179.6h0M737.7 1215.4h0M726.7 1189.6h0M734.7 1228.5h0M729.9 1224.3h0M720.3 1191.1h0M728.8 1205.1h0M725.4 1205.8h0M746.6 1238.7h0M743.1 1231.7h0M738.5 1230.2h0M725.4 1206h0M731 1216.8h0M740 1243.6h0M735.7 1232.8h0M732.6 1227.9h0M736.5 1237.6h0M730.4 1212h0M740.1 1225.1h0M731.1 1214.2h0M732.7 1232.2h0M755.5 1244.5h0M730.2 1217.3h0M723.2 1211.3h0M730.7 1229.2h0M734.3 1212.8h0M737.2 1232.1h0M722.4 1190.6h0M734.3 1216.5h0M737.4 1239.1h0M727 1207.1h0M726.3 1218h0M738.7 1218.9h0M712.7 1153.6h0M717.8 1189.3h0M736.2 1236.2h0M733.2 1209.7h0M734.4 1216.3h0M738.6 1229.6h0M717.2 1187h0M745.9 1234.3h0M725.7 1208.6h0M723.9 1200.7h0M737.1 1217.5h0M726.8 1217.2h0M733.3 1209.7h0M730 1225.8h0M801.4 1207.6h0M804.6 1242.6h0M814.1 1228.8h0M823 1242.8h0M826.3 1211.4h0M802.8 1236.6h0M796 1242.1h0M822 1228.1h0M813.9 1226h0M818.9 1241.1h0M821.4 1209.3h0M827.4 1212.2h0M827.5 1239.9h0M817.5 1244.4h0M826.5 1228.5h0M800 1241.6h0M804.4 1230.4h0M821.2 1215.3h0M794 1242.5h0M819.1 1227.7h0M807.8 1229.6h0M822.1 1208.8h0M801 1233h0M815.8 1244.9h0M824.9 1243.8h0M821.4 1220.7h0M817.4 1202h0M825.2 1227.1h0M817.4 1242.4h0M802 1228.7h0M821.6 1215.7h0M821.9 1232.3h0M818.3 1220.5h0M824.2 1228.5h0M828.1 1242.2h0M827 1179.5h0M786.1 1244.3h0M826.7 1240.4h0M791.3 1240.1h0M823.4 1233.5h0M797 1217.2h0M821.1 1223.7h0M813.5 1240.9h0M817 1210.2h0M807 1203.9h0M827.3 1186h0M822.5 1234h0M827.1 1219.9h0M819.7 1218.1h0M795.6 1242.9h0M804.9 1223.8h0M827.8 1226h0M822.9 1230h0M775.9 1178.7h0M808.8 1239.8h0M826.6 1244.9h0M815.9 1197.2h0M826.5 1212.6h0M827.5 1222.9h0M813 1233.6h0M815 1243.4h0M823.5 1244.1h0M825 1217.4h0M814.4 1222.5h0M820.4 1194.8h0M817.6 1237h0M813 1214.2h0M787.3 1242.5h0M792.5 1238.6h0M804.7 1219.5h0M827.6 1198.8h0M814 1240.1h0M824.4 1218.8h0M806.4 1220.1h0M815.2 1224.4h0M766.7 1218.9h0M806.1 1242.3h0M808.8 1243h0M827.7 1228.2h0M806.5 1216.2h0M824.5 1243.5h0M819.5 1229h0M827 1187.2h0M815.7 1243.4h0M821.3 1242.7h0M819.6 1244.1h0M805.6 1202.1h0M817.6 1226.5h0M818.8 1235.5h0M823.5 1235.9h0M819.5 1237.4h0M820.5 1234h0M827.4 1208h0M820.1 1217.9h0M827.6 1178h0M827.1 1238.7h0M814.3 1230.8h0M812.4 1235.1h0M825.9 1237.2h0M825.5 1231.5h0M825.7 1195.5h0M819.6 1232.3h0M811.9 1244.8h0M812 1241.2h0M815.8 1236.6h0M821 1232.8h0M826.8 1235.3h0M812.7 1244.8h0M827.3 1204.2h0M814.2 1237.5h0M822.2 1239.8h0M794.8 1241.1h0M814.2 1228.6h0M821 1218.8h0M828.2 1234.4h0M824.6 1194h0M783.5 1241.3h0M826.8 1233.1h0M820.7 1223.6h0M787.7 1236.4h0M823.7 1226.4h0M814.7 1243.1h0M821.6 1236.2h0M827.5 1241.8h0M821.5 1201.2h0M824 1231h0M817.8 1243.6h0M810.4 1239h0M818.5 1198.3h0M819.8 1239.3h0M828.1 1231.6h0M813.6 1236.8h0M817 1225.2h0M800.7 1225.6h0M816.9 1242.9h0M826.3 1241.3h0M792 1196.1h0M820.9 1238.7h0M828.1 1233h0M818 1231.8h0M806 1236.2h0M820.1 1240.7h0M815.8 1238.8h0M775 1239.5h0M821 1231h0M823.6 1229.8h0M822.3 1230.9h0M822.8 1236.5h0M825.4 1216.3h0M803.7 1233h0M789.1 1215.9h0M786.1 1237.7h0M796.6 1237.9h0M813.8 1222.9h0M800.8 1226h0M823 1236h0M819.8 1214.5h0M828.2 1220.4h0M819.6 1182.2h0M825.5 1211.9h0M819.3 1203.8h0M825.9 1228.9h0M819 1233.6h0M775.4 1233.5h0M820.2 1243.6h0M820.1 1212.1h0M819.7 1230.3h0M820.8 1206.2h0M804.9 1243.4h0M813.8 1221.8h0M810.7 1212.9h0M811.5 1220.2h0M821.9 1242.6h0M797.1 1225.8h0M818.6 1229.7h0M817 1225.6h0M823.1 1244.8h0M817.8 1220.5h0M804.6 1238.7h0M828.1 1203.8h0M802.3 1234.6h0M828.1 1217.7h0M823.1 1240.5h0M807.5 1227.1h0M786.4 1240h0M809.6 1215.5h0M815.2 1232.2h0M794.9 1184.6h0M814.1 1240.1h0M825.7 1240.9h0M814.1 1200.7h0M825.3 1237.1h0M820.2 1222.8h0M827 1239.5h0M823.9 1195.3h0M825.6 1220.1h0M825.7 1240.8h0M801.2 1240.1h0M818.1 1231.5h0M822.8 1237.2h0M816.2 1239.5h0M828.1 1238h0M825.6 1220h0M824.5 1240h0M813.2 1235.8h0M816.1 1231.4h0M826.5 1225.3h0M825.3 1223.6h0M808.8 1244.4h0M827.8 1238.1h0M827 1242.6h0M819.6 1241h0M820.7 1215.6h0M822.3 1237.6h0M813 1244.5h0M818.9 1235.1h0M816.9 1236.5h0M823.6 1236.6h0M798.1 1242.5h0M813.8 1230.9h0M827.6 1222.4h0M805.9 1242.3h0M823.7 1243.6h0M802.7 1212.8h0M795.9 1229.7h0M783.1 1235.6h0M799.8 1225.7h0M827.6 1242.2h0M826.4 1206.1h0M811.9 1237.3h0M824.9 1230h0M819.6 1228.7h0M798 1232.7h0M821.1 1239.7h0M817.9 1199.3h0M820.3 1237.9h0M821.6 1214.9h0M822.6 1241.2h0M815.8 1224h0M812 1242.8h0M822 1237.1h0M827.4 1215.2h0M812.2 1238.7h0M818.1 1217.4h0M805.4 1228.3h0M826.7 1193.5h0M819 1235.2h0M812.7 1238.1h0M796 1230.7h0M822.7 1226.5h0M828.2 1229.8h0M825 1190.7h0M827.9 1229.2h0M789.1 1234.5h0M791.3 1200.9h0M821.7 1243.6h0M825.5 1213h0M809.6 1237.8h0M792.5 1203.8h0M822.1 1244.6h0M810 1242.9h0M809.7 1244h0M812 1241.5h0M798.4 1233.7h0M792.4 1189.5h0M827.6 1238h0M808.5 1240h0M820.6 1242.2h0M801.5 1237.1h0M791.3 1244h0M823 1181.4h0M808.1 1202.5h0M821.5 1241.6h0M822.6 1230h0M824.7 1229.8h0M821.7 1232.7h0M827 1202.1h0M807.8 1224.9h0M817.4 1243.6h0M828 1204.3h0M826.9 1240.8h0M820.8 1244.1h0M804.7 1232.6h0M816.6 1216h0M799.3 1234.3h0M824.3 1236.3h0M828 1242.4h0M824.4 1194.7h0M809.2 1217.4h0M788.9 1193.5h0M820.7 1239.5h0M826.9 1223.4h0M822.7 1244.2h0M793.1 1238.9h0M825.8 1243.9h0M824 1206.4h0M824.5 1218.1h0M784.3 1240h0M802.3 1231.6h0M826 1210.5h0M818.3 1237.1h0M825 1240h0M820 1242.9h0M826.8 1244.1h0M820.6 1239.8h0M822 1193.7h0M820.4 1217.4h0M806.3 1217h0M824.3 1225.3h0M820.1 1234.8h0M818.2 1229.5h0M818 1215.7h0M783.1 1239.5h0M769.7 1238.7h0M820.1 1234h0M824 1242.2h0M775.1 1201h0M820.2 1240.6h0M790.1 1225.6h0M824.4 1209.4h0M818.1 1233.4h0M812.4 1221.8h0M823.4 1183.2h0M803.5 1237.5h0M807.1 1210.3h0M826.6 1243.2h0M804.6 1200.6h0M810.6 1221.9h0M795.2 1241.4h0M771.1 1193.1h0M814.6 1230.8h0M826.4 1242.2h0M811.3 1232.6h0M827.5 1175.4h0M814.2 1215.1h0M824.5 1229.6h0M824.6 1241.5h0M815.2 1241.2h0M775.6 1243.1h0M812.2 1219.5h0M794.3 1220.4h0M813.4 1237.4h0M814.5 1187.3h0M827.6 1209.8h0M818.7 1203.5h0M818.1 1222.3h0M818.7 1226.1h0M826.8 1206.6h0M798 1232h0M815.9 1242.4h0M817.2 1237.2h0M818.4 1227.6h0M823.5 1225h0M818.5 1235.3h0M826.9 1244.9h0M826.3 1231.7h0M811.3 1237.3h0M822.3 1230h0M820 1223.5h0M804.5 1231.6h0M815.5 1192h0M820.4 1242.1h0M813.7 1230h0M797.8 1222.9h0M812.3 1237.6h0M827.2 1238.2h0M828 1235h0M780.3 1205.5h0M793.6 1232.4h0M813.6 1215h0M827.3 1240.8h0M827 1215.9h0M828.2 1238.5h0M808.9 1231.1h0M826.3 1219.5h0M821.6 1187.2h0M819.6 1219.5h0M824.8 1238.1h0M826.2 1241.8h0M822.5 1189.1h0M807.4 1227.2h0M817.6 1233.8h0M785.4 1224.4h0M822.5 1241.5h0M827.7 1213.5h0M800.5 1222.3h0M815.5 1233.6h0M819.4 1207.9h0M813.1 1236.4h0M824 1211.5h0M817.7 1243.4h0M824.8 1237.6h0M817.5 1236.4h0M792.3 1241.2h0M823.5 1234.5h0M816.5 1241.7h0M826.5 1230h0M802.6 1243.9h0M808.9 1236.2h0M813.9 1204h0M809.6 1224.4h0M828.1 1220h0M819.9 1244.7h0M803.2 1213.6h0M796 1239.4h0M809.2 1238.6h0M813.7 1236.2h0M826.3 1198.3h0M798.4 1231.5h0M823.3 1235.5h0M808.7 1240.4h0M825.7 1187h0M821.8 1235.1h0M817.7 1213.6h0M802.6 1227.8h0M808.4 1242.8h0M813.5 1218.8h0M817.3 1234.4h0M827.9 1241.4h0M826.7 1244.7h0M825.4 1223.9h0M810.4 1243.5h0M808.3 1222.1h0M815.6 1225.5h0M826.4 1242.6h0M798.8 1238h0M823.9 1242.2h0M786 1224.6h0M788.2 1177.8h0M824.1 1243.2h0M810.7 1227.1h0M775.2 1215.2h0M824.1 1243.9h0M821.2 1175.5h0M824.5 1229.8h0M807.2 1244.5h0M812.4 1240.5h0M825.6 1230.2h0M811.8 1203.4h0M820 1226.4h0M814 1218.6h0M825.8 1229.6h0M782.2 1235.3h0M805.7 1238.4h0M823.8 1236.7h0M819.9 1227.7h0M816.3 1235.5h0M771.7 1198.8h0M792.3 1241.8h0M809.5 1232.2h0M787.5 1233h0M774.8 1235.6h0M821.6 1212.3h0M791 1207.8h0M818.7 1237.2h0M791.3 1234.5h0M786.9 1228.7h0M772.7 1244.9h0M816.2 1199h0M758.8 1229.9h0M770.5 1229.5h0M777.4 1221.1h0M788.9 1241.1h0M792.6 1240.5h0M762.6 1231.9h0M800.6 1232.5h0M822.1 1201.4h0M748.3 1216.9h0M762.5 1239.4h0M793 1234.9h0M744.3 1243.1h0M814.2 1242.7h0M757.7 1240.9h0M784.2 1233.1h0M791.5 1225.8h0M821.7 1234.9h0M783 1236.6h0M820.3 1209.7h0M777.8 1242h0M823.1 1237.9h0M761.5 1212.4h0M759.1 1243.9h0M744.7 1235.2h0M793.6 1216.2h0M804.9 1204h0M779.3 1223.3h0M812.1 1221.3h0M796.8 1220.5h0M774.6 1241.3h0M803 1211.1h0M823.8 1237.5h0M786.3 1229h0M808.7 1208.4h0M768.6 1238.7h0M818.9 1238.2h0M814.9 1211.9h0M825 1240.9h0M766.1 1218.5h0M760.2 1244.1h0M785.9 1215.3h0M795.7 1235.6h0M818.5 1241.7h0M773.7 1226.3h0M778.7 1243.7h0M769.3 1243.4h0M761.9 1244.4h0M799.2 1235.1h0M749 1222.4h0M786.5 1230.4h0M770.6 1180.8h0M753 1181.4h0M756.4 1229.7h0M824.8 1198.2h0M745.6 1235.6h0M782.7 1239.3h0M756.9 1236.4h0M759.8 1234h0M822.5 1243.1h0M744.1 954.2h0M803.1 1075.3h0M691.8 1097.7h0M799.4 1111.6h0M710 1146.1h0M779 1155.7h0M825.3 1143.5h0M702.8 1242.3h0M774 1156.4h0M823.3 1163.5h0M826.8 1154.1h0" stroke="#4267b2" stroke-width="4.7" stroke-linecap="round" fill="none"/>
<path d="M955.7 1211.1h0M950.5 1213.5h0M961.7 1192.4h0M955.7 1212.8h0M948.3 1234.5h0M952 1213.8h0M945.7 1223.9h0M950.1 1227.7h0M952.7 1207.8h0M963.3 1187.6h0M950.1 1219.7h0M957.1 1211.9h0M949.4 1212.8h0M943.9 1226h0M958.5 1189.2h0M961.7 1188.1h0M952 1218.1h0M960.3 1200.1h0M955.1 1215.6h0M950.7 1213.5h0M958.1 1207.7h0M951.9 1214.1h0M962.6 1193.6h0M949.9 1223.6h0M955.3 1210.2h0M958.9 1205.6h0M960.3 1184.4h0M949.5 1225.2h0M963.4 1190h0M961.4 1198.3h0M944.7 1226.3h0M949.3 1214.5h0M952.4 1227.1h0M951.5 1213.5h0M961.7 1191.8h0M953.3 1210.5h0M936.5 1238.8h0M962.1 1196.8h0M940.1 1243.4h0M960.2 1204.4h0M953.2 1207.9h0M959 1192.4h0M955.8 1208.5h0M942.1 1241.3h0M955.8 1213h0M956.3 1208.2h0M950.6 1229.2h0M956.1 1215.4h0M951.7 1225.9h0M959.5 1185.5h0M936.5 1245.5h0M955.6 1206.3h0M944.3 1232.9h0M961.9 1197.8h0M946.7 1224.9h0M952.7 1221.6h0M960.7 1196h0M954.2 1211.3h0M946.2 1223.1h0M948 1231.6h0M951.6 1209.4h0M956.1 1214.8h0M953.3 1212.6h0M952.7 1222.6h0M960 1202.5h0M957.7 1204.5h0M951.2 1226.3h0M942.1 1233.1h0M960.3 1188.5h0M950.1 1230.1h0M957.6 1211.6h0M950.4 1223.7h0M950.6 1219.7h0M959.9 1190.6h0M955.3 1216.8h0M953 1213.4h0M955.3 1212.4h0M961.3 1193h0M951.8 1226.5h0M959.3 1199.4h0M945 1237.7h0M950.6 1230.6h0M961.1 1199.9h0M947.2 1235.5h0M947.8 1217.7h0M958.6 1198.7h0M956.2 1215.3h0M950.8 1223.9h0M944.6 1234.5h0M952.7 1226.2h0M952.6 1214.5h0M956.1 1212.2h0M960.3 1200.9h0M954.9 1218.8h0M949.1 1227.3h0M951.2 1216.9h0M959.6 1202.6h0M948.1 1233.9h0M941.8 1242h0M962.6 1183.5h0M953.4 1221.9h0M950.1 1219.1h0M958.8 1208.9h0M954.3 1211.8h0M951.4 1229.5h0M950.5 1231.6h0M948.5 1233.6h0M950.5 1210.3h0M960.1 1203.2h0M947 1235.7h0M962.5 1195h0M947.7 1221.2h0M964.6 1180.1h0M956.4 1212h0M956.7 1213.2h0M954.7 1211.1h0M961.1 1193.4h0M957.9 1208h0M947.5 1215.3h0M961.9 1186.9h0M952.8 1206.7h0M951.1 1217.9h0M961.3 1196.9h0M952.7 1218.6h0M945.9 1223.7h0M964 1183.4h0M947.9 1237.2h0M954.1 1207h0M954.4 1214.4h0M953.4 1205h0M946.1 1220.8h0M964.1 1186.4h0M962.1 1198.2h0M963.1 1187.7h0M947.4 1225h0M950 1225.3h0M950.6 1226.9h0M951.6 1212.8h0M954.9 1218.5h0M950 1220.9h0M872.8 1228.8h0M870.7 1220h0M870.3 1227.9h0M869.1 1244.7h0M865.6 1205.2h0M867.6 1237.2h0M886.7 1209.3h0M868.2 1244.7h0M866.2 1206.8h0M865.6 1231.9h0M866.4 1244h0M877.2 1225.8h0M864.7 1233.7h0M867.2 1188.4h0M884 1238.4h0M865.8 1238.1h0M886.8 1224h0M888.4 1226h0M866 1225.7h0M864.4 1235.4h0M865.8 1242.1h0M867.6 1240.8h0M865.9 1230.3h0M869.1 1231.7h0M871.4 1234.3h0M890.2 1228.4h0M864.2 1179.3h0M872 1230.6h0M867.3 1241.4h0M867.6 1220.6h0M867.5 1206.5h0M865.2 1242.4h0M867.6 1199.8h0M880.9 1237.2h0M868.1 1233h0M866.7 1213.2h0M870.6 1208.8h0M865.7 1236.1h0M865.7 1242.4h0M870.1 1241.3h0M870.1 1235.3h0M880.6 1223.6h0M867.8 1226.1h0M871.4 1242.6h0M869.3 1234.1h0M865.6 1242.7h0M866.6 1244.4h0M870.6 1203.3h0M874 1240.1h0M873.6 1220.4h0M865 1241.8h0M866.2 1215.2h0M872.7 1192.9h0M870.4 1238.6h0M874.3 1235h0M865.5 1205.2h0M893.1 1243.2h0M867.7 1224.2h0M864.7 1232.2h0M868.1 1209h0M866.6 1236.1h0M864.2 1238.7h0M875.5 1244.2h0M865.2 1212.7h0M873.1 1226.9h0M865.1 1236h0M869.8 1242.6h0M871.9 1222.7h0M872.8 1226.4h0M869.8 1209.1h0M867.5 1200h0M869.1 1237.5h0M867 1243.7h0M866.1 1239.9h0M882.9 1232.6h0M894.8 1238.7h0M882.5 1231.1h0M877.4 1239.7h0M864.4 1226.9h0M876.8 1242h0M873.7 1222.5h0M864.9 1192.9h0M869.2 1215.8h0M867.2 1217.3h0M875.1 1232.5h0M865 1235h0M864.4 1188.3h0M874.4 1239.3h0M865.8 1230.2h0M865.6 1238.7h0M881.1 1234.2h0M870 1242h0M874.5 1233.3h0M875.7 1217.2h0M865.3 1207.3h0M881.1 1225.2h0M867.4 1232.9h0M872.5 1239.5h0M865 1236.8h0M875.9 1211.4h0M872.5 1228.9h0M866.5 1217.6h0M873 1232.6h0M866.4 1241.8h0M866.7 1188.8h0M866.7 1230.9h0M865.9 1231.7h0M870.7 1215.7h0M867.5 1233.7h0M865.4 1217.7h0M874.4 1237.2h0M875.9 1212.1h0M870.7 1237.6h0M873.9 1235.1h0M870.7 1242.7h0M872.3 1233h0M869.6 1205.5h0M895.1 1236.1h0M876.8 1223.1h0M866 1234.1h0M865.9 1228h0M872.2 1234.2h0M865.3 1173.1h0M877.9 1224.5h0M873 1243.3h0M884.7 1240.2h0M869.6 1212.7h0M870.8 1241.7h0M878.6 1201h0M866.7 1244.4h0M865.7 1216.5h0M869.9 1188.5h0M871 1189.9h0M866.7 1235.9h0M883.9 1184.5h0M873.9 1234.1h0M868 1182.4h0M868.7 1239.6h0M866.7 1240.8h0M872.6 1219.1h0M872.2 1241.8h0M866.8 1233.9h0M867.3 1234.2h0M878.3 1236.6h0M868.6 1229.8h0M867.1 1180.7h0M864.8 1200.9h0M864.6 1204.2h0M878 1217.7h0M866.9 1234.6h0M865.2 1192.1h0M886 1234.1h0M867.3 1200.3h0M869.4 1201.7h0M867.6 1241.7h0M873.4 1240.2h0M865.1 1239.6h0M865.4 1206.2h0M871.8 1241.9h0M865.1 1215.7h0M867.5 1239.3h0M869.6 1196.4h0M864.2 1226.3h0M867.8 1238.1h0M890.5 1207.8h0M865.5 1185.3h0M866.8 1222.1h0M871.9 1211.6h0M878.4 1224.8h0M865.2 1186.1h0M873.3 1215.8h0M878.1 1243.4h0M867.7 1207.5h0M878.6 1205.9h0M864.2 1243.7h0M870.6 1219.2h0M881.2 1218.3h0M883 1235.8h0M864.5 1238.7h0M874.4 1217.2h0M877.8 1233.6h0M867.7 1192.4h0M870.8 1217.5h0M868.3 1205.5h0M876 1215.3h0M876.3 1190.6h0M869.3 1187.4h0M878.8 1215.5h0M867.3 1206h0M866.3 1218.6h0M865.2 1194.7h0M865.4 1208.9h0M869.5 1209.5h0M866.9 1237.6h0M866.9 1214.5h0M866.2 1193.2h0M872.1 1212.1h0M875 1239.4h0M874.1 1214.6h0M867.8 1220h0M865.3 1185h0M873.2 1231.5h0M869.2 1223.9h0M864.2 1239.9h0M864.5 1231.9h0M866.1 1235.6h0M864.6 1237.5h0M881.6 1233.3h0M880.4 1217h0M877.1 1224.5h0M867.7 1231.6h0M865.9 1226.5h0M869.5 1244.1h0M874.2 1240.6h0M870.2 1173.5h0M870 1209.5h0M871.2 1231.5h0M890.1 1244.7h0M867.8 1240.7h0M880 1210.2h0M867.9 1239.9h0M874.8 1215.3h0M867.1 1208.7h0M864.5 1206.9h0M877.8 1203h0M864.9 1205.9h0M864.7 1207.8h0M865.8 1169.6h0M866.1 1204.5h0M865.1 1242.4h0M869.6 1172.4h0M880.2 1244.1h0M866.2 1243.9h0M870.6 1218.7h0M865 1206.4h0M866.1 1242.4h0M865.5 1218.6h0M864.5 1226.1h0M864.7 1185.2h0M874.1 1233.6h0M877.8 1205.8h0M864.6 1231.4h0M865.4 1206.4h0M880.8 1223.1h0M874.2 1214.3h0M865.7 1242.2h0M880 1226.5h0M868.4 1202.6h0M871.1 1243.7h0M864.4 1241.6h0M873.7 1219.7h0M865.1 1202.7h0M867.5 1182.4h0M865.8 1217.9h0M864.2 1244.8h0M867.7 1239.6h0M864.3 1174h0M868.2 1217.5h0M866.8 1238.1h0M867.6 1236.6h0M871.1 1240.5h0M866.4 1228.1h0M874.1 1185.2h0M867.8 1164.1h0M864.4 1241.8h0M865.3 1228.6h0M868.6 1214.4h0M869 1230.2h0M865 1202.5h0M870.6 1241.8h0M872.7 1236.7h0M865.2 1244.3h0M871.4 1225.9h0M865.7 1206.5h0M874 1232.4h0M873.5 1236.9h0M868 1216.3h0M867.1 1225.9h0M894 1220.5h0M880.5 1231.3h0M870.2 1229.6h0M866.2 1244.8h0M869.6 1210.6h0M865.4 1239.7h0M875.7 1236.4h0M867 1240.4h0M886.1 1208.9h0M865 1224.1h0M868.5 1182.7h0M872 1238.9h0M872.8 1235.7h0M867.1 1225.6h0M871.4 1240.4h0M870 1240.5h0M866.9 1242.8h0M868.8 1214.6h0M870.3 1231.3h0M868.6 1238.6h0M870.3 1238.9h0M875.8 1203h0M864.4 1237.7h0M868.8 1234.1h0M865.7 1239.5h0M864.4 1228.1h0M865.6 1239.9h0M865.6 1221.8h0M864.7 1215.1h0M871.3 1229.3h0M866.3 1201.9h0M865.9 1236.1h0M875.2 1244.9h0M868.7 1243.8h0M868.3 1228.6h0M872.6 1238.1h0M898 1204.2h0M874 1239.6h0M866.4 1204.1h0M866.3 1210.9h0M867.9 1229.3h0M871.6 1226.5h0M866.4 1223.9h0M868.5 1165.5h0M870.5 1172.7h0M882.4 1241.5h0M874.3 1154.4h0M870.1 1233.1h0M875.3 1244h0M870.5 1210.7h0M864.7 1244.4h0M867.8 1228.9h0M866.1 1240.1h0M864.7 1175.2h0M866.2 1236.1h0M865.7 1227h0M864.3 1234.5h0M868.3 1221.4h0M866.4 1243.4h0M868.2 1197.5h0M874.9 1183.1h0M871.8 1174.4h0M892.9 1188.5h0M877.2 1227.7h0M865.4 1222.3h0M865.6 1231.4h0M871 1237.3h0M868.4 1214.6h0M866.9 1227.6h0M865.9 1217.7h0M865.2 1242.5h0M865.2 1233.2h0M870.5 1232.1h0M865.1 1240.2h0M875.1 1200.1h0M865.6 1209.1h0M867.4 1190.3h0M865.4 1240.1h0M869.5 1209h0M871.6 1242.8h0M879.6 1241.4h0M864.6 1210.5h0M866.5 1224.6h0M865.7 1232.8h0M866.6 1214.4h0M865.6 1240.5h0M873.5 1203.7h0M864.3 1179.9h0M872 1190.1h0M868.1 1228.7h0M872.5 1215.6h0M874.2 1212.3h0M866.3 1183.8h0M866.8 1190.8h0M864.7 1238.7h0M868.4 1160.8h0M868.8 1244.5h0M865 1219.7h0M868.1 1226.9h0M864.4 1222.1h0M867 1229.9h0M866.1 1203.6h0M878.1 1219.8h0M865.1 1210.6h0M868.8 1238.8h0M875.9 1224.4h0M897.6 1244.7h0M872.9 1221.6h0M866.9 1234.1h0M865.5 1218.9h0M867.8 1238.8h0M891.5 1238.1h0M876.3 1242.4h0M881.7 1217.6h0M868.2 1230.2h0M873.2 1244.9h0M866.5 1203.7h0M865.7 1239.8h0M868.4 1172h0M874.7 1237.3h0M864.7 1209.3h0M866.6 1239.7h0M867.4 1239.9h0M867.7 1202h0M865.6 1238.8h0M867.2 1244.7h0M912.7 1203.7h0M890.5 1225h0M885.1 1226.4h0M878 1229.5h0M880.7 1239.1h0M950.2 1243.5h0M871.4 1238.5h0M924.9 1213h0M935.1 1244.2h0M892.7 1228.9h0M910.4 1213.6h0M910.4 1221.1h0M929.5 1242.4h0M909.8 1242.7h0M937.9 1219h0M936.6 1220.5h0M871.8 1202.3h0M896.1 1223.7h0M923.1 1227.2h0M915.8 1240.8h0M888.8 1235.1h0M915.3 1225.2h0M909.7 1241.4h0M940 1242.6h0M930.8 1229.5h0M872.9 1223.9h0M915.4 1229.3h0M942.1 1244.9h0M930.2 1243.1h0M884.1 1222.8h0M873.9 1240.1h0M921.8 1212.1h0M888 1239.9h0M874.5 1240.4h0M943.3 1230.1h0M914.9 1242.2h0M943.1 1232.5h0M901 1235.3h0M926.8 1235.9h0M935.8 1241.8h0M914.8 1235.4h0M889.8 1212.5h0M943.8 1240.3h0M898.7 1239.6h0M904.9 1242.8h0M877.2 1241.5h0M933.9 1222.8h0M907.4 1239.2h0M907.7 1237h0M895.3 1231.4h0M869.5 1243h0M881.2 1235h0M872.5 1187.8h0M879 1240.8h0M906 1244.1h0M925.7 1203.2h0M891.5 1243.2h0M873.8 1214.4h0M946 1225.6h0M951.6 1233.9h0M892.5 1238.2h0M920 1205.3h0M938.4 1237.1h0M890.2 1228.1h0M915.3 1228.6h0M871.5 1226.7h0M888.7 1232.2h0M947 1237.3h0M914.9 1224.2h0M907.2 1243.5h0M885.3 1241.5h0M878.6 1236.6h0M911.3 1037.7h0M874.5 1060.6h0M886.2 1076h0M880.9 1088.7h0M877.9 1099.8h0M903.2 1107.1h0M987.9 1119.4h0M991.2 1132.1h0M925 1127.2h0M975.9 1151.5h0M974.2 1165.4h0M906.9 1158.1h0M919.6 1165.4h0M1013 1225.1h0M867.3 1121h0M872.6 1128.1h0M879.6 1135.2h0M869.1 1144.6h0M890.2 1137.6h0M874.4 1149.4h0M893.7 1121h0" stroke="#c8404f" stroke-width="4.7" stroke-linecap="round" fill="none"/>
<line x1="828.6" y1="938.3" x2="828.6" y2="1292.4" stroke="#111" stroke-width="1.3" stroke-dasharray="4.2 3.6"/>
<line x1="863.8" y1="938.3" x2="863.8" y2="1292.4" stroke="#111" stroke-width="1.3" stroke-dasharray="4.2 3.6"/>
<line x1="653.7" y1="1246.1" x2="1038.7" y2="1246.1" stroke="#111" stroke-width="1.3" stroke-dasharray="4.2 3.6"/>
<line x1="653.7" y1="938.3" x2="1038.7" y2="938.3" stroke="#7c7c7c" stroke-width="1.6"/>
<line x1="653.7" y1="1292.4" x2="1038.7" y2="1292.4" stroke="#7c7c7c" stroke-width="1.6"/>
<circle cx="808.1" cy="1181.6" r="4.2" fill="none" stroke="#222" stroke-width="1.1"/>
<line x1="807.5" y1="1168" x2="807.5" y2="1177.5" stroke="#222" stroke-width="1.1"/>
<text x="790.7" y="1170.3" font-size="12.3" text-anchor="middle" fill="#222">Wif1</text>
<circle cx="877.1" cy="1154.4" r="4.2" fill="none" stroke="#222" stroke-width="1.1"/>
<line x1="880" y1="1150.5" x2="886" y2="1145" stroke="#222" stroke-width="1.1"/>
<text x="893.1" y="1143.8" font-size="12.3" text-anchor="middle" fill="#222">Serpinf1</text>
<circle cx="872.4" cy="1181.6" r="4.2" fill="none" stroke="#222" stroke-width="1.1"/>
<line x1="869.5" y1="1185.5" x2="864" y2="1192.5" stroke="#222" stroke-width="1.1"/>
<text x="854.2" y="1202.3" font-size="12.3" text-anchor="middle" fill="#222">Ccn4</text>
<text x="647.2" y="1280.3" font-size="9.8" text-anchor="end" fill="#1a1a1a">0</text>
<text x="647.2" y="1162.3" font-size="9.8" text-anchor="end" fill="#1a1a1a">5</text>
<text x="647.2" y="1044.3" font-size="9.8" text-anchor="end" fill="#1a1a1a">10</text>
<text x="670.2" y="1305" font-size="9.8" text-anchor="middle" fill="#1a1a1a">-10</text>
<text x="758.2" y="1305" font-size="9.8" text-anchor="middle" fill="#1a1a1a">-5</text>
<text x="846.2" y="1305" font-size="9.8" text-anchor="middle" fill="#1a1a1a">0</text>
<text x="934.2" y="1305" font-size="9.8" text-anchor="middle" fill="#1a1a1a">5</text>
<text x="1022.2" y="1305" font-size="9.8" text-anchor="middle" fill="#1a1a1a">10</text>
<text x="846.2" y="902" font-size="20.5" text-anchor="middle" font-weight="bold" fill="#111">Volcano Plot</text>
<text x="846.2" y="923.4" font-size="15.2" text-anchor="middle" fill="#111">Total Genes: 21971</text>
<text x="846.2" y="1327.3" font-size="15" text-anchor="middle" font-weight="bold" fill="#111">log2(FC)</text>
<text transform="translate(615.9,1117) rotate(-90)" font-size="15" font-weight="bold" text-anchor="middle" fill="#111">-log10(pVal)</text>
<text x="1051.1" y="1090.5" font-size="12.3" font-weight="bold" fill="#111">Significant</text>
<circle cx="1059.3" cy="1109" r="2.9" fill="#c8404f"/>
<text x="1073.1" y="1113.3" font-size="12.2" fill="#111">Sig_Up (374)</text>
<circle cx="1059.3" cy="1124.2" r="2.9" fill="#a9a9a9"/>
<text x="1073.1" y="1128.5" font-size="12.2" fill="#111">NoDiff (20988)</text>
<circle cx="1059.3" cy="1139.5" r="2.9" fill="#4267b2"/>
<text x="1073.1" y="1143.8" font-size="12.2" fill="#111">Sig_Down (609)</text>
<line x1="1643.4" y1="938.3" x2="1643.4" y2="1292.4" stroke="#e9e9e9" stroke-width="1"/>
<path d="M1354.2 1257.3L1362.7 1261.8L1370.7 1265.5L1388.8 1270L1418.6 1273.8L1450.6 1277.6L1482.6 1273.8L1512.9 1270.8L1530.5 1265.5L1538.5 1261.8L1545.2 1257.3L1545.2 1257.3L1466.6 1257.3L1466.6 1224.2L1465 1220.5L1462.4 1221.2L1457.8 1237.7L1451.4 1265.1L1445.2 1234.7L1441 1212.2L1438.3 1209.8L1436.2 1213.7L1434.6 1218.2L1434.6 1257.3L1354.2 1257.3Z" fill="#9a9a9a"/>
<path d="M1503.1 1271.9h0M1359.2 1260h0M1393.7 1270.2h0M1534.6 1263.6h0M1452.8 1277.8h0M1429.1 1275h0M1498.6 1272.2h0M1491.3 1273.3h0M1537.1 1262.8h0M1540.7 1260.4h0M1415.7 1273.7h0M1428.4 1275.1h0M1489 1272.1h0M1450.4 1278h0M1424.9 1274.1h0M1487.7 1273.2h0M1504.4 1270.8h0M1444 1276.9h0M1380.8 1268.2h0M1517.2 1269.4h0M1433.2 1275.8h0M1355.9 1258.4h0M1535.4 1262.9h0M1492.3 1273.1h0M1494.5 1272.9h0M1354.6 1257.1h0M1447.1 1277.2h0M1443.4 1277.3h0M1389.3 1270.6h0M1500.6 1271.4h0M1418.8 1274.3h0M1416.5 1272.3h0M1455.3 1277.4h0M1518.9 1268.8h0M1470.1 1274.8h0M1381.2 1268h0M1490.8 1273h0M1392.5 1271.8h0M1423.1 1274.6h0M1496.7 1272.5h0M1504.4 1271.7h0M1360.9 1260.5h0M1362.4 1260.8h0M1395 1270.8h0M1479.4 1273.9h0M1493 1272.4h0M1391 1270.1h0M1471.2 1274.6h0M1462.8 1276.6h0M1433.4 1275.4h0M1490.8 1272.1h0M1471 1275h0M1417.9 1273.7h0M1392.2 1270h0M1509.7 1270.9h0M1486.9 1273.6h0M1373.6 1266.3h0M1407 1271.9h0M1366.4 1263.8h0M1416.1 1273h0M1428.4 1275.2h0M1410 1273.2h0M1535 1262.3h0M1445 1277.2h0M1383.3 1268.6h0M1375.2 1266.1h0M1521.9 1268h0M1427.3 1274.2h0M1500.6 1271h0M1362.9 1262.1h0M1367.5 1264.3h0M1440.6 1276.4h0M1540.1 1260.9h0M1534.4 1263h0M1446.8 1277.5h0M1513.7 1270.5h0M1381.9 1267.1h0M1399.7 1271.3h0M1515.6 1269.7h0M1524.8 1266.2h0M1483.9 1272.7h0M1512.5 1271.2h0M1443.7 1277h0M1362.6 1261.3h0M1513.7 1270.9h0M1477.4 1274.6h0M1439.9 1276.4h0M1363.7 1261.8h0M1477.9 1274.2h0M1464.4 1276h0M1358.3 1259.7h0M1493.6 1272.5h0M1484.9 1272.9h0M1469.5 1275.5h0M1484.2 1273.4h0M1470.5 1275.4h0M1450.7 1277.6h0M1404.6 1271.8h0M1461.4 1275.4h0M1413.1 1273.6h0M1363.7 1262h0M1520.3 1268.6h0M1534.2 1262.8h0M1488.2 1273.9h0M1404.8 1271.1h0M1525.1 1267.6h0M1391.1 1270.4h0M1462.9 1274.5h0M1492.8 1271.6h0M1498.3 1272.6h0M1538.5 1262.2h0M1447.8 1276.4h0M1506.1 1271.6h0M1506.3 1271.6h0M1480.2 1274.2h0M1355.4 1257h0M1364.8 1262.7h0M1475.2 1273.8h0M1466.1 1276h0M1543.3 1257.5h0M1381.9 1268.5h0M1424.9 1274.6h0M1503 1272.1h0M1399.8 1271.5h0M1381.5 1268.7h0M1377.9 1268h0M1436.2 1276.2h0M1469.8 1274.5h0M1499.7 1272.2h0M1490.2 1272h0M1396.7 1269.4h0M1530 1265.8h0M1480.4 1274.1h0M1402.1 1271.3h0M1457.4 1276h0M1358 1258.6h0M1539 1261.5h0M1515.2 1270.5h0M1484.3 1274h0M1359.8 1260.2h0M1507.5 1271.2h0M1359.7 1260.5h0M1356.7 1259h0M1482.9 1273.3h0M1451.2 1277.2h0M1512.8 1271.1h0M1402.5 1271.6h0M1535 1262.6h0M1398.6 1271.6h0M1354.7 1257.3h0M1518.7 1268.6h0M1500.5 1270.9h0M1365.5 1263.1h0M1444.9 1277.2h0M1433.1 1276.1h0M1364.1 1262.8h0M1428 1275.2h0M1405.7 1272.3h0M1355.2 1257.9h0M1374.3 1266.3h0M1453.6 1277.5h0M1417.7 1272.9h0M1511.4 1271.1h0M1397.4 1271h0M1541.8 1259.6h0M1527.5 1266.2h0M1395.2 1270.7h0M1484.3 1273.6h0M1354.9 1257.3h0M1444.7 1276.6h0M1428 1275.1h0M1363.1 1262.1h0M1404 1271.7h0M1524.7 1267.9h0M1499.5 1272.9h0M1450.6 1277.6h0M1533.6 1263.9h0M1470.6 1275.4h0M1534.2 1263.9h0M1456.9 1277.2h0M1382.5 1268.1h0M1408 1271.5h0M1513.1 1270.9h0M1493.2 1272.1h0M1389.1 1270.5h0M1403.4 1271.8h0M1392.5 1270.8h0M1536.4 1262.7h0M1356 1258h0M1508 1271.5h0M1401.2 1272.1h0M1451.6 1276.4h0M1397.5 1271.2h0M1362 1261.6h0M1399.5 1272.2h0M1454.5 1277.8h0M1539.3 1261.9h0M1411.2 1272.8h0M1393.9 1270.7h0M1383 1267.7h0M1465.6 1275.6h0M1458.4 1277.2h0M1380.6 1267.6h0M1472.4 1275.1h0M1443.2 1276.7h0M1428.5 1275.1h0M1439.6 1276.3h0M1387.5 1268.4h0M1376.8 1266.5h0M1451.5 1277.2h0M1440.6 1276.5h0M1389.4 1270.1h0M1452.3 1277.1h0M1534.7 1264h0M1454.1 1275.5h0M1523.1 1268h0M1448.5 1278.1h0M1374.2 1266.5h0M1368.7 1263.7h0M1514 1269.9h0M1464.4 1274.7h0M1451.1 1277.7h0M1452.2 1277.8h0M1473.4 1274.6h0M1496.9 1272.8h0M1497.1 1272.6h0M1369.4 1264.9h0M1416.1 1274.4h0M1375.5 1266.7h0M1397.1 1271h0M1491.6 1272.9h0M1357.1 1258.7h0M1501.5 1272.1h0M1483.6 1272.7h0M1513.3 1270h0M1365.2 1263.5h0M1454.2 1277.2h0M1368 1263.8h0M1480 1274.7h0M1383.3 1267.9h0M1356.1 1258.4h0M1402.3 1271.2h0M1421.9 1274.2h0M1403.5 1271.2h0M1378.9 1268.1h0M1438.6 1276.4h0M1459.7 1275.7h0M1440.5 1276.4h0M1438 1276.5h0M1424.8 1274.2h0M1508.1 1270.7h0M1493.9 1273.3h0M1520.5 1267.3h0M1408.3 1272.8h0M1524.5 1267.2h0M1434.9 1275h0M1405.1 1272.5h0M1455.9 1277.3h0M1456 1277.4h0M1534.3 1263.8h0M1341.9 1258.8h0M1562.5 1259.5h0M1567.3 1258.8h0M1433 1257.3h0" stroke="#9a9a9a" stroke-width="4.6" stroke-linecap="round" fill="none"/>
<path d="M1382.1 1259.4h0M1384.5 1260.7h0M1377.6 1261.6h0M1406.2 1267.6h0M1384.2 1263.2h0M1390 1262.3h0M1408.1 1260.2h0M1412.7 1267.1h0M1507.7 1264.3h0M1484.7 1268.2h0M1492.5 1263.1h0M1522.1 1263.1h0M1510 1262.6h0M1523.3 1259.4h0M1488.5 1259.2h0M1487.5 1258.8h0" stroke="#ffffff" stroke-width="2.6" stroke-linecap="round" fill="none"/>
<path d="M1346.8 1227.7h0M1354.7 1240.6h0M1355.3 1254.8h0M1353.4 1252.6h0M1350.7 1235.7h0M1352.5 1249.8h0M1352.6 1244.1h0M1346.3 1236.5h0M1344.7 1226.2h0M1347.4 1237.8h0M1343.8 1227.6h0M1352.1 1247.6h0M1345.8 1232.2h0M1348.3 1241h0M1349.1 1243h0M1344.4 1231.3h0M1357.9 1254h0M1347.5 1228.3h0M1349.7 1233.9h0M1346.3 1227.6h0M1355.6 1244h0M1349.8 1237.2h0M1346.6 1228.5h0M1342.4 1223.5h0M1359.3 1253.2h0M1344.1 1229.7h0M1352.2 1230.4h0M1343 1225.6h0M1353.8 1247.7h0M1342.9 1222.8h0M1347.7 1225.2h0M1343.8 1228.3h0M1353.2 1251.1h0M1350.5 1245.5h0M1343.1 1223.5h0M1343 1225.1h0M1356 1254.8h0M1344.3 1226.9h0M1361.2 1249.2h0M1353.2 1241.4h0M1353.3 1254.9h0M1360.1 1252.1h0M1354.8 1236h0M1349.4 1232.8h0M1363.1 1255.3h0M1355.3 1242h0M1353.7 1250.1h0M1344.7 1230.6h0M1342.1 1221.2h0M1351.5 1244.3h0M1353.9 1249.5h0M1355.2 1248.2h0M1350.7 1228.8h0M1355.9 1244.2h0M1352.1 1246h0M1360.1 1256h0M1348.9 1244.3h0M1350.2 1244.6h0M1351.3 1233.1h0M1351.3 1241.8h0M1354.7 1252.5h0M1348.1 1238.7h0M1354.6 1242.3h0M1355.9 1245.5h0M1350.1 1246.8h0M1347.8 1224.5h0M1356 1239.4h0M1346.2 1229.1h0M1347.9 1230.9h0M1359.9 1249h0M1355.4 1256.4h0M1351.3 1246.3h0M1348.8 1241.8h0M1353.8 1241.9h0M1353.4 1245.1h0M1354.4 1252.8h0M1355.8 1249.5h0M1356.1 1239.9h0M1348.2 1229h0M1347.9 1230.2h0M1342.4 1225.1h0M1344.6 1223.3h0M1344 1229h0M1352.8 1252.7h0M1347.2 1231.2h0M1354.2 1243.2h0M1355.4 1250.5h0M1342.7 1223.9h0M1351.5 1234.4h0M1353.8 1238.8h0M1342.5 1224.4h0M1347.7 1231.7h0M1358 1244.3h0M1356.6 1251.6h0M1345.2 1231.5h0M1347.1 1232.8h0M1346.7 1235.7h0M1348.4 1233.7h0M1352 1242.8h0M1354.2 1240.9h0M1348.5 1235.3h0M1348.6 1231.3h0M1356.5 1239.4h0M1344.2 1229.7h0M1345.9 1225.4h0M1349.7 1244.8h0M1346.3 1235.6h0M1360.9 1249.4h0M1354.1 1252.9h0M1361 1249.8h0M1345.3 1232.8h0M1347.3 1239.2h0M1348.1 1237.4h0M1365.1 1252h0M1360.1 1254.1h0M1344.2 1223.5h0M1351.9 1250.2h0M1342 1222.8h0M1353.3 1252.1h0M1358.3 1248.3h0M1349.7 1227.7h0M1359.4 1247.3h0M1342.9 1223.1h0M1342.5 1225.7h0M1353.6 1254.8h0M1354.3 1251h0M1358.9 1247.4h0M1359.4 1251.9h0M1344.1 1227.2h0M1349.9 1244.4h0M1345.4 1227.6h0M1344.3 1223.9h0M1347.4 1230.6h0M1362.5 1250.2h0M1358.1 1247.9h0M1347.5 1223.8h0M1364.4 1250.9h0M1348.4 1234.1h0M1348 1223.8h0M1350.7 1248.9h0M1347 1230.4h0M1361.7 1248.5h0M1342.5 1224.3h0M1356.7 1241h0M1350.6 1229.7h0M1347.6 1237.3h0M1346.3 1225.4h0M1347.3 1223.5h0M1345.9 1229.5h0M1349.9 1245.3h0M1431.7 1256.2h0M1425.5 1248.4h0M1433.1 1255.5h0M1432.3 1246.6h0M1434 1240h0M1431.4 1251.1h0M1433.3 1255.2h0M1433.3 1250.5h0M1430.8 1252.7h0M1430.2 1255.3h0M1430 1249.7h0M1431.5 1242.8h0M1430.5 1235.4h0M1428.3 1250.3h0M1432.3 1223.5h0M1433.2 1254.6h0M1424 1231.8h0M1422.7 1246.4h0M1428.7 1253.1h0M1427.1 1246.8h0M1432.1 1255.9h0M1431.2 1244.1h0M1429.8 1240.1h0M1432.5 1256.3h0M1428.1 1244.7h0M1420.4 1246.9h0M1432.4 1241.5h0M1432.9 1237h0M1432.9 1254.9h0M1429.8 1245.9h0M1428.7 1233.6h0M1424.4 1242.5h0M1434.1 1254h0M1428.7 1247.8h0M1432.3 1254.2h0M1425.1 1238.4h0M1431.2 1250.1h0M1423.3 1249.9h0M1431.3 1246.3h0M1431.2 1253.7h0M1430.6 1247.8h0M1432.1 1255.2h0M1427.6 1251.3h0M1432.8 1231.3h0M1432.8 1246.5h0M1431.9 1254.6h0M1432.2 1227.8h0M1423.8 1252.6h0M1429.4 1253.3h0M1432.5 1239.9h0M1428.7 1241.1h0M1430.9 1238.9h0M1426.1 1256.2h0M1419.3 1248.8h0M1430.7 1254.1h0M1431.1 1254.5h0M1433.7 1255.8h0M1415 1251.6h0M1406.1 1253.3h0M1364.6 1255.6h0M1426.5 1251h0M1392.3 1251.9h0M1374.2 1256.5h0M1403.8 1253.3h0M1400.5 1251.4h0M1394.3 1253.7h0M1407.5 1248.8h0M1412.3 1253.8h0M1388.7 1249.8h0M1387.2 1250.2h0M1359.3 1252.6h0M1422 1250.2h0M1378.7 1249.3h0M1397.7 1254.1h0M1393.5 1255.3h0M1362.5 1254.7h0M1424.1 1237.2h0M1390 1247.4h0M1415 1253.4h0M1420.7 1242.7h0M1417.8 1247.9h0M1414.1 1255.2h0M1418.8 1252.3h0M1377.3 1246.2h0M1401.6 1255.7h0M1397.8 1256.3h0M1382.6 1232.2h0M1407.8 1254.8h0M1370.4 1254.6h0M1417.1 1253.6h0M1374.4 1247.7h0M1358.8 1251.3h0M1367.5 1247.3h0M1418.1 1255.8h0M1404.7 1255.2h0M1395 1252.2h0M1417.7 1250.5h0M1407.9 1249.7h0M1416.7 1231.1h0M1368.9 1247.5h0M1370.1 1248.9h0M1368.6 1245.6h0M1415.6 1249.8h0M1401 1255h0M1416.9 1249.7h0M1396.6 1256.4h0M1372.2 1256.4h0M1387.1 1255.8h0M1386.5 1250.2h0M1405.7 1247.7h0M1420.9 1255.4h0M1402.1 1252.9h0M1380.6 1244.8h0M1364.9 1255.4h0M1394.6 1247.7h0M1400.8 1253.1h0M1359.3 1255.2h0M1382.8 1248.9h0M1363.5 1256h0M1395.3 1249.4h0M1429.5 1242.7h0M1426.6 1251.3h0M1389 1248.9h0M1375.4 1249.4h0M1423.6 1233.7h0M1398.1 1245.5h0M1419.1 1255.2h0M1377.7 1253.9h0M1398.2 1250.8h0M1382.4 1240.7h0M1389.6 1249.5h0M1416.3 1247.8h0M1381.2 1255.3h0M1373.9 1241h0M1393.4 1251.9h0M1393.1 1255.9h0M1318 1167.2h0M1334.4 1207.1h0M1298 1248.9h0M1420.9 1192.5h0M1422.8 1194.2h0M1433.8 1212.2h0M1433 1221.2h0" stroke="#4267b2" stroke-width="4.7" stroke-linecap="round" fill="none"/>
<path d="M1552.8 1235.8h0M1553.7 1220.3h0M1547.1 1242.8h0M1552.5 1227.1h0M1548.3 1249.4h0M1549.4 1242.4h0M1545.4 1247.6h0M1551 1226h0M1548.1 1240.5h0M1550.3 1245.3h0M1547.5 1241h0M1559.8 1220.1h0M1561.9 1212.8h0M1561.3 1212.9h0M1537.8 1249.5h0M1551.9 1234.7h0M1555 1219.1h0M1546.9 1250.5h0M1559.5 1216.5h0M1552.7 1236.9h0M1546.8 1245.3h0M1555.7 1223.1h0M1552.6 1239.2h0M1553.4 1236.2h0M1549.4 1248h0M1547.1 1246.6h0M1557 1229.4h0M1554.6 1234.5h0M1549 1235.3h0M1555.5 1226.8h0M1545.7 1242.5h0M1549.8 1247.1h0M1542.1 1248.6h0M1556 1221h0M1558 1218.2h0M1555 1222.8h0M1553.7 1229h0M1545.8 1250.3h0M1562.1 1211.8h0M1538.4 1251.5h0M1556.5 1229.7h0M1554.1 1218.6h0M1545.3 1243.2h0M1553.6 1237.8h0M1560.4 1212h0M1551.2 1228.6h0M1553.1 1238.4h0M1554.2 1228.3h0M1559.4 1211.7h0M1554.7 1234.4h0M1555.6 1222.2h0M1551.6 1227h0M1549.2 1237.6h0M1559.5 1223h0M1552.9 1238.4h0M1546.2 1235.2h0M1554.4 1235.4h0M1545.7 1252.8h0M1551.3 1232.8h0M1550.1 1245.5h0M1544.4 1245h0M1547.6 1250.9h0M1553.9 1237.1h0M1560.3 1214.7h0M1542.8 1242h0M1554 1226.9h0M1546 1235h0M1556.7 1228.9h0M1554.5 1221.3h0M1540.4 1253h0M1554.6 1220.7h0M1549.6 1229.6h0M1553.7 1236.1h0M1554.2 1236.9h0M1560.8 1215.8h0M1557 1228.4h0M1548.7 1235h0M1543.2 1244.2h0M1558.4 1220.6h0M1545.6 1243.2h0M1552.1 1232.1h0M1547.2 1246.4h0M1548.5 1237.2h0M1558.4 1224.6h0M1546.1 1248.6h0M1561.6 1212.9h0M1546.9 1245.3h0M1550.4 1244h0M1539.8 1253.2h0M1536.8 1256.6h0M1560.4 1211.9h0M1550 1244.7h0M1557.3 1212.9h0M1552.9 1238h0M1547 1252.9h0M1551.3 1241.5h0M1536.9 1254.4h0M1557.3 1216.8h0M1547.9 1238h0M1556.4 1227.4h0M1548.5 1242.2h0M1549.9 1245.4h0M1553.4 1225.5h0M1547.7 1242.3h0M1544.9 1251.2h0M1543.5 1241.9h0M1547.1 1233.1h0M1552.5 1237.9h0M1555.4 1221.4h0M1548.6 1231.4h0M1549.8 1243h0M1554.5 1231.1h0M1554.4 1233.8h0M1562.3 1210.6h0M1542.8 1248.2h0M1547.9 1250.3h0M1557.6 1211.4h0M1547.8 1250.3h0M1552 1241.2h0M1543.9 1253.7h0M1548.4 1233.6h0M1553.2 1234.2h0M1554.7 1229.6h0M1548.3 1245.3h0M1553.1 1235.1h0M1547.9 1240.8h0M1558.3 1221.6h0M1550.8 1238.9h0M1561.2 1212.1h0M1546.9 1244.4h0M1546.7 1239.2h0M1558 1225.3h0M1560.2 1214.6h0M1551.8 1227.6h0M1557.2 1225.1h0M1549.4 1246.7h0M1552.4 1233.9h0M1549.7 1234.3h0M1555 1233.6h0M1548.4 1240.8h0M1548.5 1235.2h0M1542.3 1252.9h0M1541.5 1248h0M1550.4 1240.3h0M1546.3 1245.8h0M1548.4 1232.6h0M1545 1255.2h0M1547.6 1250.9h0M1545.9 1236.6h0M1540.8 1250.9h0M1561.8 1209.3h0M1539.7 1253h0M1540.1 1244h0M1551 1241.9h0M1556.8 1230.1h0M1556 1231.7h0M1551.7 1236.3h0M1553.3 1229.7h0M1545.1 1242.3h0M1542.1 1248h0M1476.6 1250.9h0M1468.1 1247.7h0M1477.3 1255.8h0M1474.2 1255.3h0M1484.7 1240.3h0M1474 1223.3h0M1469.1 1244.6h0M1476.7 1231.5h0M1480.7 1243.1h0M1483.3 1256.4h0M1480 1251.5h0M1482.6 1242.2h0M1468.3 1224.5h0M1468.8 1256h0M1471.6 1238.3h0M1468.8 1245.5h0M1476.4 1251.5h0M1470.8 1255.9h0M1467.6 1250.6h0M1471.8 1251.1h0M1468.1 1253.3h0M1468.2 1254.4h0M1467 1236.7h0M1469.2 1250.8h0M1473.8 1254.2h0M1468.4 1253.9h0M1467.4 1237.1h0M1473.1 1246.6h0M1470 1252.4h0M1470.3 1247.3h0M1480.9 1252h0M1469 1256.3h0M1467.3 1254.5h0M1467.7 1254.5h0M1471.9 1238.9h0M1466.9 1252.5h0M1475 1251.1h0M1475.2 1235.7h0M1483.3 1253.5h0M1470.9 1249.3h0M1467.2 1244.3h0M1467.7 1255.4h0M1473.7 1242.8h0M1467.2 1255.5h0M1473.1 1235.3h0M1473.4 1244.2h0M1474.5 1244.7h0M1468.2 1256.3h0M1467.4 1233.4h0M1476.1 1254.8h0M1495.2 1234.7h0M1468.1 1256.4h0M1470.7 1254.9h0M1470.9 1253.7h0M1480.3 1232h0M1470.4 1251.3h0M1479.8 1215.6h0M1475.7 1254.1h0M1473.5 1241.5h0M1469.5 1246.1h0M1470.5 1253.1h0M1477 1253.9h0M1468.8 1246.9h0M1476.4 1253.6h0M1468.4 1246.7h0M1470.7 1249.5h0M1467.3 1255.7h0M1467.6 1247.4h0M1468.1 1255.2h0M1476.9 1252.3h0M1472.4 1223.9h0M1471 1253.3h0M1469.2 1246.8h0M1467.2 1247.4h0M1470.8 1219.2h0M1472.4 1234h0M1472.1 1241h0M1473.7 1245.4h0M1466.9 1252.4h0M1478.7 1229.2h0M1476 1254h0M1470.1 1224.8h0M1474.9 1213.8h0M1489.4 1247.9h0M1474.5 1255.4h0M1472.5 1250.8h0M1468.5 1235.7h0M1480.5 1254.4h0M1471.5 1252.2h0M1477.9 1249.4h0M1483.5 1240.3h0M1474.6 1237.5h0M1479.8 1245h0M1469.3 1249.5h0M1476.6 1255h0M1474.9 1224.4h0M1480.4 1255.7h0M1470.3 1247.1h0M1467.9 1244.2h0M1471.8 1237.4h0M1479.3 1252.5h0M1472.3 1249.2h0M1469 1249.8h0M1471.2 1248.9h0M1482.4 1229.4h0M1478 1251.3h0M1470.6 1254.4h0M1470.6 1233.5h0M1471.3 1234h0M1469.4 1214h0M1478 1246.8h0M1490.8 1255.7h0M1468.8 1252.8h0M1478.5 1256.3h0M1471 1232.7h0M1470 1250.1h0M1472.6 1247.6h0M1467.9 1253.5h0M1467 1239.8h0M1493.7 1255.4h0M1468.4 1254.3h0M1474.2 1252.4h0M1477.1 1239.8h0M1483.3 1250.8h0M1467.2 1235.2h0M1476.5 1234.3h0M1467.1 1228h0M1489.9 1244.8h0M1468.6 1250.8h0M1468.3 1247.8h0M1468.7 1229.6h0M1467.7 1253.7h0M1469.9 1245.3h0M1468.6 1234.3h0M1478.8 1245.6h0M1474.4 1245.3h0M1469.4 1254.8h0M1468.1 1252.7h0M1479.4 1250.2h0M1474.8 1223.7h0M1470.8 1249.9h0M1482.1 1214.9h0M1471.7 1253.5h0M1480.5 1254.6h0M1481 1255.3h0M1482.8 1242.1h0M1468 1226.8h0M1474.3 1254.4h0M1470.1 1255.6h0M1471.1 1239.1h0M1470.5 1238.4h0M1470.5 1246.7h0M1507.3 1254.3h0M1500.8 1253.4h0M1477.3 1239.5h0M1511.5 1253h0M1486 1255.3h0M1533.7 1255.1h0M1471.1 1255.6h0M1505.9 1232.8h0M1499.2 1254.1h0M1511.1 1252.2h0M1496.2 1255.6h0M1506.2 1245.6h0M1488.6 1256.1h0M1477.4 1244.6h0M1511.8 1256h0M1523 1254.4h0M1533.1 1242.1h0M1511.6 1252.7h0M1513.5 1255.8h0M1520.6 1255.5h0M1477.9 1243.6h0M1487.8 1249.8h0M1499.6 1240.2h0M1521.4 1249.9h0M1506.4 1245.6h0M1483.5 1246.8h0M1504.3 1255.9h0M1469.8 1252.2h0M1515.1 1256.1h0M1519.8 1244.5h0M1473.7 1238.8h0M1516.2 1244h0M1534.6 1255.2h0M1480.2 1256.1h0M1538.1 1254h0M1487.9 1249.3h0M1542.4 1247.3h0M1490.6 1231.8h0M1497.7 1246.9h0M1535.6 1252.6h0M1525.7 1243.9h0M1499.4 1229.1h0M1514.4 1254.2h0M1516.5 1250.9h0M1498.7 1244.2h0M1543.2 1256.3h0M1503.1 1235.9h0M1487.3 1240.1h0M1522.7 1239.5h0M1528.7 1251.5h0M1481.1 1242.2h0M1515.7 1256h0M1519.8 1255.6h0M1507.9 1250.7h0M1509.9 1250.6h0M1535.3 1251.8h0M1485.5 1253.9h0M1488.9 1253.7h0M1478.7 1240.4h0M1527.4 1256.4h0M1475 1246.7h0M1511.9 1252.9h0M1479 1255.9h0M1529.5 1250.3h0M1505.9 1239.7h0M1485.6 1254.6h0M1486.7 1254.2h0M1474.6 1247.4h0M1492 1254.5h0M1505.3 1252.4h0M1480 954.2h0M1483.4 1042.5h0M1489.1 1104.4h0M1468 1173.3h0M1480 1181.3h0M1492.5 1192.2h0M1482.6 1191.5h0M1471.4 1201.7h0M1468.2 1207.7h0M1500.1 1210.7h0M1485.8 1206.2h0" stroke="#c8404f" stroke-width="4.7" stroke-linecap="round" fill="none"/>
<line x1="1434.6" y1="938.3" x2="1434.6" y2="1292.4" stroke="#111" stroke-width="1.3" stroke-dasharray="4.2 3.6"/>
<line x1="1466.6" y1="938.3" x2="1466.6" y2="1292.4" stroke="#111" stroke-width="1.3" stroke-dasharray="4.2 3.6"/>
<line x1="1257.7" y1="1257.3" x2="1643.4" y2="1257.3" stroke="#111" stroke-width="1.3" stroke-dasharray="4.2 3.6"/>
<line x1="1257.7" y1="938.3" x2="1643.4" y2="938.3" stroke="#7c7c7c" stroke-width="1.6"/>
<line x1="1257.7" y1="1292.4" x2="1643.4" y2="1292.4" stroke="#7c7c7c" stroke-width="1.6"/>
<circle cx="1473.5" cy="1220.5" r="4.2" fill="none" stroke="#222" stroke-width="1.1"/>
<line x1="1468" y1="1213" x2="1471" y2="1217" stroke="#222" stroke-width="1.1"/>
<text x="1455.3" y="1209.2" font-size="12.3" text-anchor="middle" fill="#222">Serpinf1</text>
<circle cx="1473" cy="1231" r="4.2" fill="none" stroke="#222" stroke-width="1.1"/>
<line x1="1475" y1="1234" x2="1483" y2="1240" stroke="#222" stroke-width="1.1"/>
<text x="1490.9" y="1248.4" font-size="12.3" text-anchor="middle" fill="#222">Ccn4</text>
<circle cx="1442.6" cy="1272.4" r="4.2" fill="none" stroke="#222" stroke-width="1.1"/>
<line x1="1438.5" y1="1273" x2="1432" y2="1276" stroke="#222" stroke-width="1.1"/>
<text x="1417.2" y="1281.8" font-size="12.3" text-anchor="middle" fill="#222">Wif1</text>
<text x="1252" y="1280.3" font-size="9.8" text-anchor="end" fill="#1a1a1a">0</text>
<text x="1252" y="1205.2" font-size="9.8" text-anchor="end" fill="#1a1a1a">5</text>
<text x="1252" y="1130.1" font-size="9.8" text-anchor="end" fill="#1a1a1a">10</text>
<text x="1252" y="1055" font-size="9.8" text-anchor="end" fill="#1a1a1a">15</text>
<text x="1252" y="979.9" font-size="9.8" text-anchor="end" fill="#1a1a1a">20</text>
<text x="1290.8" y="1305" font-size="9.8" text-anchor="middle" fill="#1a1a1a">-10</text>
<text x="1370.7" y="1305" font-size="9.8" text-anchor="middle" fill="#1a1a1a">-5</text>
<text x="1450.6" y="1305" font-size="9.8" text-anchor="middle" fill="#1a1a1a">0</text>
<text x="1530.5" y="1305" font-size="9.8" text-anchor="middle" fill="#1a1a1a">5</text>
<text x="1610.4" y="1305" font-size="9.8" text-anchor="middle" fill="#1a1a1a">10</text>
<text x="1450.6" y="902" font-size="20.5" text-anchor="middle" font-weight="bold" fill="#111">Volcano Plot</text>
<text x="1450.6" y="923.4" font-size="15.2" text-anchor="middle" fill="#111">Total Genes: 21549</text>
<text x="1450.6" y="1327.3" font-size="15" text-anchor="middle" font-weight="bold" fill="#111">log2(FC)</text>
<text transform="translate(1220.6,1117) rotate(-90)" font-size="15" font-weight="bold" text-anchor="middle" fill="#111">-log10(pVal)</text>
<text x="1655" y="1090.5" font-size="12.3" font-weight="bold" fill="#111">Significant</text>
<circle cx="1663.2" cy="1109" r="2.9" fill="#c8404f"/>
<text x="1677" y="1113.3" font-size="12.2" fill="#111">Sig_Up (329)</text>
<circle cx="1663.2" cy="1124.2" r="2.9" fill="#a9a9a9"/>
<text x="1677" y="1128.5" font-size="12.2" fill="#111">NoDiff (21010)</text>
<circle cx="1663.2" cy="1139.5" r="2.9" fill="#4267b2"/>
<text x="1677" y="1143.8" font-size="12.2" fill="#111">Sig_Down (210)</text>
<text x="4.7" y="886.6" font-size="40.2" font-weight="bold" fill="#000" textLength="25" lengthAdjust="spacingAndGlyphs">B</text>
<text x="597.4" y="886.2" font-size="39.7" font-weight="bold" fill="#000" textLength="23.6" lengthAdjust="spacingAndGlyphs">C</text>
<text x="1196.6" y="886.5" font-size="40.1" font-weight="bold" fill="#000" textLength="28.2" lengthAdjust="spacingAndGlyphs">D</text>
<text x="142.7" y="1383.7" font-size="40.6" font-weight="bold" fill="#000" textLength="278.7" lengthAdjust="spacingAndGlyphs">CTR vs CTR+EX</text>
<text x="738.3" y="1383.7" font-size="40.6" font-weight="bold" fill="#000" textLength="215.6" lengthAdjust="spacingAndGlyphs">CTR vs HFD</text>
<text x="1297.5" y="1383.7" font-size="40.6" font-weight="bold" fill="#000" textLength="285.7" lengthAdjust="spacingAndGlyphs">CTR+EX vs HFD</text>
<text x="5" y="1450.9" font-size="40.6" font-weight="bold" fill="#000" textLength="20.3" lengthAdjust="spacingAndGlyphs">E</text>
<text x="183.8" y="1488.5" font-size="39.8" font-weight="bold" fill="#000" textLength="74.1" lengthAdjust="spacingAndGlyphs">CTR</text>
<text x="277.5" y="1488.5" font-size="39.8" font-weight="bold" fill="#000" textLength="145.8" lengthAdjust="spacingAndGlyphs">CTR+EX</text>
<text x="444.2" y="1488.5" font-size="39.8" font-weight="bold" fill="#000" textLength="80.4" lengthAdjust="spacingAndGlyphs">HFD</text>
<text x="544.5" y="1488.5" font-size="39.8" font-weight="bold" fill="#000" textLength="151.2" lengthAdjust="spacingAndGlyphs">HFD+EX</text>
<text x="67.3" y="1588.4" font-size="42.3" font-weight="bold" fill="#333" textLength="89.6" lengthAdjust="spacingAndGlyphs">Wif1</text>
<text x="-0.6" y="1722.9" font-size="41.2" font-weight="bold" fill="#333" textLength="181.4" lengthAdjust="spacingAndGlyphs">β-catenin</text>
<text x="35.4" y="1863.5" font-size="41.2" font-weight="bold" fill="#333" textLength="140.2" lengthAdjust="spacingAndGlyphs">GAPDH</text>
<defs><filter id="bl" filterUnits="userSpaceOnUse" x="150" y="1450" width="600" height="500"><feGaussianBlur stdDeviation="2.9"/></filter><filter id="bl2" filterUnits="userSpaceOnUse" x="150" y="1450" width="600" height="500"><feGaussianBlur stdDeviation="5"/></filter></defs>
<rect x="194.1" y="1513.7" width="507.3" height="116.1" fill="#f3f3f3"/>
<rect x="194.1" y="1650.4" width="507.3" height="116.4" fill="#f3f3f3"/>
<rect x="194.1" y="1787" width="507.3" height="116.4" fill="#f3f3f3"/>
<path d="M216 1668L295 1668" stroke="#dadada" stroke-width="18" stroke-linecap="round" stroke-linejoin="round" fill="none" filter="url(#bl2)"/>
<path d="M336 1668L426 1668" stroke="#e0e0e0" stroke-width="18" stroke-linecap="round" stroke-linejoin="round" fill="none" filter="url(#bl2)"/>
<path d="M461 1668L545 1668" stroke="#ececec" stroke-width="18" stroke-linecap="round" stroke-linejoin="round" fill="none" filter="url(#bl2)"/>
<path d="M585 1668L664 1668" stroke="#eeeeee" stroke-width="18" stroke-linecap="round" stroke-linejoin="round" fill="none" filter="url(#bl2)"/>
<path d="M216 1721L295 1723" stroke="#eeeeee" stroke-width="22" stroke-linecap="round" stroke-linejoin="round" fill="none" filter="url(#bl2)"/>
<path d="M216 1713L295 1715" stroke="#ebebeb" stroke-width="7" stroke-linecap="round" stroke-linejoin="round" fill="none" filter="url(#bl)"/>
<path d="M216 1730L295 1732" stroke="#e6e6e6" stroke-width="7" stroke-linecap="round" stroke-linejoin="round" fill="none" filter="url(#bl)"/>
<path d="M336 1721L426 1723" stroke="#d2d2d2" stroke-width="22" stroke-linecap="round" stroke-linejoin="round" fill="none" filter="url(#bl2)"/>
<path d="M336 1713L426 1715" stroke="#bdbdbd" stroke-width="7" stroke-linecap="round" stroke-linejoin="round" fill="none" filter="url(#bl)"/>
<path d="M336 1730L426 1732" stroke="#b4b4b4" stroke-width="7" stroke-linecap="round" stroke-linejoin="round" fill="none" filter="url(#bl)"/>
<path d="M461 1721L545 1723" stroke="#d6d6d6" stroke-width="22" stroke-linecap="round" stroke-linejoin="round" fill="none" filter="url(#bl2)"/>
<path d="M461 1713L545 1715" stroke="#c4c4c4" stroke-width="7" stroke-linecap="round" stroke-linejoin="round" fill="none" filter="url(#bl)"/>
<path d="M461 1730L545 1732" stroke="#bcbcbc" stroke-width="7" stroke-linecap="round" stroke-linejoin="round" fill="none" filter="url(#bl)"/>
<path d="M585 1721L664 1723" stroke="#d6d6d6" stroke-width="22" stroke-linecap="round" stroke-linejoin="round" fill="none" filter="url(#bl2)"/>
<path d="M585 1713L664 1715" stroke="#c4c4c4" stroke-width="7" stroke-linecap="round" stroke-linejoin="round" fill="none" filter="url(#bl)"/>
<path d="M585 1730L664 1732" stroke="#bcbcbc" stroke-width="7" stroke-linecap="round" stroke-linejoin="round" fill="none" filter="url(#bl)"/>
<path d="M208 1558.8L211.1 1557.3L214.3 1556.1L217.4 1555.1L220.6 1554.4L223.7 1553.9L226.9 1553.5L230 1553.2L233.2 1553L236.3 1552.9L239.5 1552.9L242.6 1553L245.8 1553.1L248.9 1553.1L252.1 1553.2L255.2 1553.3L258.4 1553.4L261.5 1553.7L264.7 1554.1L267.8 1554.4L271 1554.8L274.1 1555.3L277.3 1555.8L280.4 1556.4L283.6 1557.1L286.7 1557.9L289.9 1558.9L293 1560L293 1565L289.9 1565.8L286.7 1566.3L283.6 1566.8L280.4 1567.1L277.3 1567.4L274.1 1567.5L271 1567.6L267.8 1567.7L264.7 1567.7L261.5 1567.7L258.4 1567.7L255.2 1567.9L252.1 1568.1L248.9 1568.3L245.8 1568.5L242.6 1568.7L239.5 1568.9L236.3 1569L233.2 1569.3L230 1569.5L226.9 1569.7L223.7 1569.8L220.6 1569.7L217.4 1569.5L214.3 1569L211.1 1568.3L208 1567.2Z" fill="#050505" filter="url(#bl)"/>
<path d="M326 1558.7L329.8 1557.6L333.6 1556.6L337.3 1555.8L341.1 1555.2L344.9 1554.7L348.7 1554.4L352.4 1554.1L356.2 1553.8L360 1553.6L363.8 1553.5L367.6 1553.3L371.3 1553.3L375.1 1553.3L378.9 1553.3L382.7 1553.4L386.4 1553.4L390.2 1553.4L394 1553.5L397.8 1553.6L401.6 1553.7L405.3 1553.9L409.1 1554.2L412.9 1554.6L416.7 1555.1L420.4 1555.8L424.2 1556.6L428 1557.7L428 1564.3L424.2 1565.3L420.4 1566.1L416.7 1566.7L412.9 1567.1L409.1 1567.5L405.3 1567.7L401.6 1567.8L397.8 1567.9L394 1567.9L390.2 1567.9L386.4 1567.9L382.7 1567.9L378.9 1567.8L375.1 1567.8L371.3 1567.8L367.6 1567.8L363.8 1567.9L360 1568L356.2 1568.1L352.4 1568.1L348.7 1568.1L344.9 1568L341.1 1567.8L337.3 1567.4L333.6 1566.9L329.8 1566.2L326 1565.3Z" fill="#050505" filter="url(#bl)"/>
<path d="M461 1554L464.5 1552.9L468 1552L471.4 1551.3L474.9 1550.7L478.4 1550.3L481.9 1550L485.4 1549.7L488.9 1549.5L492.3 1549.3L495.8 1549.2L499.3 1549.1L502.8 1549L506.3 1548.9L509.7 1548.8L513.2 1548.6L516.7 1548.5L520.2 1548.4L523.7 1548.3L527.1 1548.3L530.6 1548.3L534.1 1548.3L537.6 1548.4L541.1 1548.6L544.6 1549L548 1549.4L551.5 1550.1L555 1551L555 1557L551.5 1558.1L548 1559L544.6 1559.7L541.1 1560.3L537.6 1560.7L534.1 1561.1L530.6 1561.4L527.1 1561.6L523.7 1561.7L520.2 1561.9L516.7 1562L513.2 1562.1L509.7 1562.3L506.3 1562.4L502.8 1562.5L499.3 1562.6L495.8 1562.7L492.3 1562.7L488.9 1562.8L485.4 1562.8L481.9 1562.8L478.4 1562.6L474.9 1562.4L471.4 1562.1L468 1561.6L464.5 1560.9L461 1560Z" fill="#050505" filter="url(#bl)"/>
<path d="M591 1548.6L594.6 1547.3L598.3 1546.3L601.9 1545.5L605.5 1544.8L609.1 1544.2L612.8 1543.8L616.4 1543.4L620 1543.1L623.7 1542.9L627.3 1542.7L630.9 1542.5L634.6 1542.3L638.2 1542.1L641.8 1541.9L645.4 1541.7L649.1 1541.4L652.7 1541.2L656.3 1541.1L660 1540.9L663.6 1540.8L667.2 1540.7L670.9 1540.8L674.5 1540.9L678.1 1541.2L681.7 1541.6L685.4 1542.3L689 1543.1L689 1549.9L685.4 1551.2L681.7 1552.3L678.1 1553.2L674.5 1553.9L670.9 1554.5L667.2 1554.9L663.6 1555.3L660 1555.7L656.3 1555.9L652.7 1556.2L649.1 1556.4L645.4 1556.7L641.8 1556.9L638.2 1557.1L634.6 1557.3L630.9 1557.5L627.3 1557.6L623.7 1557.8L620 1557.9L616.4 1558L612.8 1558L609.1 1557.9L605.5 1557.7L601.9 1557.4L598.3 1557L594.6 1556.3L591 1555.4Z" fill="#050505" filter="url(#bl)"/>
<path d="M210 1685.4L213.3 1683.8L216.7 1682.8L220 1682.1L223.3 1681.7L226.7 1681.5L230 1681.4L233.3 1681.3L236.7 1681.3L240 1681.3L243.3 1681.4L246.7 1681.4L250 1681.4L253.3 1681.5L256.7 1681.5L260 1681.6L263.3 1681.6L266.7 1681.6L270 1681.7L273.3 1681.7L276.7 1681.8L280 1681.9L283.3 1682.1L286.7 1682.4L290 1682.9L293.3 1683.6L296.7 1684.7L300 1686.4L300 1693.6L296.7 1695.2L293.3 1696.2L290 1696.9L286.7 1697.3L283.3 1697.5L280 1697.6L276.7 1697.7L273.3 1697.7L270 1697.7L266.7 1697.6L263.3 1697.6L260 1697.6L256.7 1697.5L253.3 1697.5L250 1697.4L246.7 1697.4L243.3 1697.4L240 1697.3L236.7 1697.3L233.3 1697.2L230 1697.1L226.7 1696.9L223.3 1696.6L220 1696.1L216.7 1695.4L213.3 1694.3L210 1692.6Z" fill="#2b2b2b" filter="url(#bl)"/>
<path d="M330 1684.5L333.8 1682.3L337.6 1681L341.3 1680.4L345.1 1680.1L348.9 1680L352.7 1680L356.4 1680L360.2 1680.1L364 1680.2L367.8 1680.2L371.6 1680.3L375.3 1680.4L379.1 1680.5L382.9 1680.5L386.7 1680.6L390.4 1680.7L394.2 1680.8L398 1680.8L401.8 1680.9L405.6 1681L409.3 1681.1L413.1 1681.3L416.9 1681.5L420.7 1681.9L424.4 1682.7L428.2 1684.1L432 1686.5L432 1701.5L428.2 1703.7L424.4 1705L420.7 1705.6L416.9 1705.9L413.1 1706L409.3 1706L405.6 1706L401.8 1705.9L398 1705.8L394.2 1705.8L390.4 1705.7L386.7 1705.6L382.9 1705.5L379.1 1705.5L375.3 1705.4L371.6 1705.3L367.8 1705.2L364 1705.2L360.2 1705.1L356.4 1705L352.7 1704.9L348.9 1704.7L345.1 1704.5L341.3 1704.1L337.6 1703.3L333.8 1701.9L330 1699.5Z" fill="#050505" filter="url(#bl)"/>
<path d="M455 1691.7L458.5 1689.8L462 1688.6L465.6 1687.8L469.1 1687.4L472.6 1687.1L476.1 1687L479.6 1687L483.1 1687L486.7 1687L490.2 1687.1L493.7 1687.1L497.2 1687.2L500.7 1687.2L504.3 1687.3L507.8 1687.3L511.3 1687.4L514.8 1687.4L518.3 1687.5L521.9 1687.6L525.4 1687.7L528.9 1687.8L532.4 1688L535.9 1688.4L539.4 1689L543 1689.9L546.5 1691.2L550 1693.2L550 1701.8L546.5 1703.7L543 1704.9L539.4 1705.7L535.9 1706.1L532.4 1706.4L528.9 1706.5L525.4 1706.5L521.9 1706.5L518.3 1706.5L514.8 1706.4L511.3 1706.4L507.8 1706.3L504.3 1706.3L500.7 1706.2L497.2 1706.2L493.7 1706.1L490.2 1706.1L486.7 1706L483.1 1705.9L479.6 1705.8L476.1 1705.7L472.6 1705.5L469.1 1705.1L465.6 1704.5L462 1703.6L458.5 1702.3L455 1700.3Z" fill="#050505" filter="url(#bl)"/>
<path d="M578 1693.2L581.4 1691.4L584.8 1690.2L588.2 1689.5L591.6 1689.1L595 1688.9L598.4 1688.8L601.9 1688.8L605.3 1688.9L608.7 1689L612.1 1689.1L615.5 1689.2L618.9 1689.3L622.3 1689.4L625.7 1689.6L629.1 1690L632.5 1690.3L635.9 1690.7L639.3 1691.1L642.7 1691.5L646.1 1691.9L649.6 1692.4L653 1692.9L656.4 1693.6L659.8 1694.5L663.2 1695.7L666.6 1697.4L670 1699.7L670 1708.3L666.6 1709.8L663.2 1710.7L659.8 1711.2L656.4 1711.4L653 1711.3L649.6 1711.1L646.1 1710.8L642.7 1710.4L639.3 1710.1L635.9 1709.7L632.5 1709.3L629.1 1709L625.7 1708.6L622.3 1708.4L618.9 1708.3L615.5 1708.2L612.1 1708.1L608.7 1708L605.3 1707.8L601.9 1707.7L598.4 1707.5L595 1707.2L591.6 1706.8L588.2 1706.2L584.8 1705.2L581.4 1703.8L578 1701.8Z" fill="#050505" filter="url(#bl)"/>
<path d="M205 1846.6L208.1 1845.7L211.2 1845L214.3 1844.6L217.4 1844.4L220.6 1844.3L223.7 1844.4L226.8 1844.6L229.9 1844.8L233 1845.1L236.1 1845.4L239.2 1845.7L242.3 1846.3L245.4 1846.9L248.6 1847.5L251.7 1848.1L254.8 1848.8L257.9 1849.4L261 1850.1L264.1 1850.7L267.2 1851.5L270.3 1852.2L273.4 1853.1L276.6 1854L279.7 1855.1L282.8 1856.3L285.9 1857.6L289 1859.1L289 1864.9L285.9 1865.3L282.8 1865.6L279.7 1865.7L276.6 1865.6L273.4 1865.5L270.3 1865.3L267.2 1865L264.1 1864.6L261 1864.2L257.9 1863.8L254.8 1863.4L251.7 1862.9L248.6 1862.4L245.4 1862L242.3 1861.5L239.2 1861.1L236.1 1860.9L233 1860.7L229.9 1860.5L226.8 1860.2L223.7 1859.8L220.6 1859.3L217.4 1858.7L214.3 1858L211.2 1857L208.1 1855.9L205 1854.4Z" fill="#050505" filter="url(#bl)"/>
<path d="M316 1856.1L319.5 1855.2L323 1854.5L326.6 1854L330.1 1853.7L333.6 1853.4L337.1 1853.4L340.6 1853.3L344.1 1853.4L347.7 1853.5L351.2 1853.6L354.7 1853.8L358.2 1853.9L361.7 1854.2L365.3 1854.7L368.8 1855.1L372.3 1855.6L375.8 1856L379.3 1856.5L382.9 1857L386.4 1857.6L389.9 1858.2L393.4 1858.9L396.9 1859.7L400.4 1860.7L404 1861.8L407.5 1863.1L411 1864.6L411 1871.4L407.5 1872L404 1872.4L400.4 1872.6L396.9 1872.7L393.4 1872.6L389.9 1872.4L386.4 1872.1L382.9 1871.8L379.3 1871.4L375.8 1871L372.3 1870.6L368.8 1870.1L365.3 1869.7L361.7 1869.2L358.2 1868.9L354.7 1868.8L351.2 1868.6L347.7 1868.4L344.1 1868.2L340.6 1867.9L337.1 1867.6L333.6 1867.2L330.1 1866.6L326.6 1866L323 1865.1L319.5 1864.1L316 1862.9Z" fill="#050505" filter="url(#bl)"/>
<path d="M439 1861.9L442.5 1860.7L446 1859.7L449.6 1858.9L453.1 1858.3L456.6 1857.8L460.1 1857.5L463.6 1857.2L467.1 1857L470.7 1856.9L474.2 1856.8L477.7 1856.7L481.2 1856.6L484.7 1856.5L488.3 1856.7L491.8 1856.9L495.3 1857.1L498.8 1857.4L502.3 1857.6L505.9 1857.9L509.4 1858.2L512.9 1858.6L516.4 1859.1L519.9 1859.7L523.4 1860.5L527 1861.4L530.5 1862.5L534 1863.9L534 1871.1L530.5 1872.1L527 1872.8L523.4 1873.2L519.9 1873.6L516.4 1873.7L512.9 1873.8L509.4 1873.8L505.9 1873.7L502.3 1873.5L498.8 1873.3L495.3 1873.1L491.8 1872.9L488.3 1872.7L484.7 1872.5L481.2 1872.6L477.7 1872.7L474.2 1872.7L470.7 1872.8L467.1 1872.8L463.6 1872.7L460.1 1872.6L456.6 1872.4L453.1 1872.1L449.6 1871.7L446 1871L442.5 1870.2L439 1869.1Z" fill="#050505" filter="url(#bl)"/>
<path d="M561 1867.5L564.6 1866.2L568.2 1865.2L571.8 1864.4L575.4 1863.9L579 1863.5L582.6 1863.2L586.1 1863L589.7 1862.9L593.3 1862.9L596.9 1862.9L600.5 1862.9L604.1 1862.9L607.7 1863L611.3 1863L614.9 1863.1L618.5 1863.2L622.1 1863.3L625.7 1863.4L629.3 1863.5L632.9 1863.7L636.4 1864L640 1864.4L643.6 1864.9L647.2 1865.6L650.8 1866.5L654.4 1867.6L658 1869L658 1877L654.4 1878.3L650.8 1879.2L647.2 1880L643.6 1880.5L640 1880.8L636.4 1881.1L632.9 1881.2L629.3 1881.3L625.7 1881.3L622.1 1881.2L618.5 1881.2L614.9 1881.1L611.3 1881L607.7 1881L604.1 1880.9L600.5 1880.9L596.9 1880.8L593.3 1880.8L589.7 1880.7L586.1 1880.5L582.6 1880.2L579 1879.9L575.4 1879.4L571.8 1878.8L568.2 1878L564.6 1876.9L561 1875.5Z" fill="#050505" filter="url(#bl)"/>
<rect x="194.1" y="1513.7" width="507.3" height="116.1" fill="none" stroke="#151515" stroke-width="2.4"/>
<rect x="194.1" y="1650.4" width="507.3" height="116.4" fill="none" stroke="#151515" stroke-width="2.4"/>
<rect x="194.1" y="1787" width="507.3" height="116.4" fill="none" stroke="#151515" stroke-width="2.4"/>
<defs><path id="mt" d="M0 -5.6L5.9 4.6H-5.9Z"/><path id="ms" d="M-3.9 -3.9H3.9V3.9H-3.9Z"/><circle id="mc" r="4.8"/><path id="mx" d="M0 -6.2L1.6 -2L5.9 -1.9L2.5 0.8L3.7 5L0 2.6L-3.7 5L-2.5 0.8L-5.9 -1.9L-1.6 -2Z"/></defs>
<path d="M870.4 1881.3V1800.4H923.6V1881.3" fill="none" stroke="#666666" stroke-width="5.2"/>
<line x1="897" y1="1797.8" x2="897" y2="1782.9" stroke="#666666" stroke-width="5.2"/>
<line x1="886" y1="1782.9" x2="908" y2="1782.9" stroke="#666666" stroke-width="5.2"/>
<g fill="#5c5c5c"><use href="#mc" x="900" y="1667.3"/><use href="#mc" x="895.9" y="1682.3"/><use href="#mc" x="894.8" y="1697.3"/><use href="#mc" x="901.7" y="1699.4"/><use href="#mc" x="895.1" y="1705.8"/><use href="#mc" x="902" y="1710.1"/><use href="#mc" x="895.5" y="1715.5"/><use href="#mc" x="900" y="1720.8"/><use href="#mc" x="900.4" y="1731.5"/><use href="#mc" x="871.3" y="1828.9"/><use href="#mc" x="880.7" y="1827.4"/><use href="#mc" x="887.6" y="1826"/><use href="#mc" x="897" y="1824.6"/><use href="#mc" x="904" y="1828.2"/><use href="#mc" x="911" y="1826.7"/><use href="#mc" x="921.4" y="1825.3"/><use href="#mc" x="875.3" y="1833.1"/><use href="#mc" x="892.7" y="1832.4"/><use href="#mc" x="907.6" y="1831.7"/><use href="#mc" x="873" y="1851.9"/><use href="#mc" x="880" y="1850.8"/><use href="#mc" x="887" y="1849.7"/><use href="#mc" x="896.4" y="1848.7"/><use href="#mc" x="903.3" y="1851.3"/><use href="#mc" x="912.7" y="1850.3"/><use href="#mc" x="920.6" y="1849.2"/><use href="#mc" x="885" y="1854.5"/><use href="#mc" x="900" y="1853.8"/><use href="#mc" x="915" y="1853.1"/></g>
<path d="M957.6 1881.3V1737.3H1009.4V1881.3" fill="none" stroke="#3b3bff" stroke-width="5.2"/>
<line x1="983.5" y1="1734.7" x2="983.5" y2="1716.5" stroke="#3b3bff" stroke-width="5.2"/>
<line x1="972.5" y1="1716.5" x2="994.5" y2="1716.5" stroke="#3b3bff" stroke-width="5.2"/>
<g fill="#1e1eff"><use href="#mt" x="982.5" y="1580.6"/><use href="#mt" x="971.9" y="1605.2"/><use href="#mt" x="982.8" y="1607.4"/><use href="#mt" x="984.2" y="1667.3"/><use href="#mt" x="996.1" y="1663"/><use href="#mt" x="1010.5" y="1680.1"/><use href="#mt" x="957.5" y="1684.4"/><use href="#mt" x="969.5" y="1683.3"/><use href="#mt" x="983.9" y="1684.4"/><use href="#mt" x="995.8" y="1686.6"/><use href="#mt" x="971.2" y="1693"/><use href="#mt" x="983.1" y="1691.9"/><use href="#mt" x="997.5" y="1697.3"/><use href="#mt" x="971.5" y="1703.7"/><use href="#mt" x="982.5" y="1708"/><use href="#mt" x="971.9" y="1773.2"/><use href="#mt" x="982.8" y="1780.7"/><use href="#mt" x="997.2" y="1772.2"/><use href="#mt" x="957.1" y="1819.2"/><use href="#mt" x="971.5" y="1818.2"/><use href="#mt" x="983.5" y="1817.1"/><use href="#mt" x="995.5" y="1821.4"/><use href="#mt" x="970.9" y="1825.7"/><use href="#mt" x="982.8" y="1827.8"/><use href="#mt" x="997.2" y="1827.8"/><use href="#mt" x="971.1" y="1833.1"/><use href="#mt" x="984.5" y="1831"/></g>
<path d="M1044.2 1881.3V1832.5H1096.4V1881.3" fill="none" stroke="#e03535" stroke-width="5.2"/>
<g fill="#dd1b1b"><use href="#ms" x="1042.2" y="1848.1"/><use href="#ms" x="1043.6" y="1841.7"/><use href="#ms" x="1042.6" y="1835.3"/><use href="#ms" x="1052" y="1848.1"/><use href="#ms" x="1051" y="1841.7"/><use href="#ms" x="1052.3" y="1835.3"/><use href="#ms" x="1059.3" y="1848.1"/><use href="#ms" x="1058.2" y="1841.7"/><use href="#ms" x="1059.6" y="1835.3"/><use href="#ms" x="1066.6" y="1848.1"/><use href="#ms" x="1068" y="1841.7"/><use href="#ms" x="1067" y="1835.3"/><use href="#ms" x="1076.3" y="1848.1"/><use href="#ms" x="1075.3" y="1841.7"/><use href="#ms" x="1074.2" y="1835.3"/><use href="#ms" x="1083.6" y="1848.1"/><use href="#ms" x="1082.6" y="1841.7"/><use href="#ms" x="1084" y="1835.3"/><use href="#ms" x="1091" y="1848.1"/><use href="#ms" x="1092.3" y="1841.7"/><use href="#ms" x="1091.3" y="1835.3"/><use href="#ms" x="1096.2" y="1848.1"/><use href="#ms" x="1097.6" y="1841.7"/><use href="#ms" x="1096.6" y="1835.3"/><use href="#ms" x="1049" y="1828.9"/><use href="#ms" x="1048" y="1822.5"/><use href="#ms" x="1057.3" y="1828.9"/><use href="#ms" x="1056.3" y="1822.5"/><use href="#ms" x="1063.2" y="1828.9"/><use href="#ms" x="1064.6" y="1822.5"/><use href="#ms" x="1071.6" y="1828.9"/><use href="#ms" x="1073" y="1822.5"/><use href="#ms" x="1080" y="1828.9"/><use href="#ms" x="1081.3" y="1822.5"/><use href="#ms" x="1088.3" y="1828.9"/><use href="#ms" x="1087.2" y="1822.5"/><use href="#ms" x="1052.6" y="1816"/><use href="#ms" x="1051.6" y="1809.6"/><use href="#ms" x="1061" y="1816"/><use href="#ms" x="1060" y="1809.6"/><use href="#ms" x="1069.3" y="1816"/><use href="#ms" x="1068.3" y="1809.6"/><use href="#ms" x="1075.2" y="1816"/><use href="#ms" x="1076.6" y="1809.6"/><use href="#ms" x="1083.6" y="1816"/><use href="#ms" x="1085" y="1809.6"/><use href="#ms" x="1066" y="1803.2"/><use href="#ms" x="1075.3" y="1804.3"/><use href="#ms" x="1088.3" y="1804.3"/><use href="#ms" x="1063.2" y="1796.8"/></g>
<path d="M1130.6 1881.3V1796.2H1183.2V1881.3" fill="none" stroke="#a447e6" stroke-width="5.2"/>
<line x1="1156.9" y1="1793.6" x2="1156.9" y2="1779.6" stroke="#a447e6" stroke-width="5.2"/>
<line x1="1145.9" y1="1779.6" x2="1167.9" y2="1779.6" stroke="#a447e6" stroke-width="5.2"/>
<g fill="#9b3fe0"><use href="#mx" x="1157.9" y="1678"/><use href="#mx" x="1161.2" y="1682.3"/><use href="#mx" x="1153.2" y="1713.3"/><use href="#mx" x="1160.6" y="1715.5"/><use href="#mx" x="1156.6" y="1719.7"/><use href="#mx" x="1152" y="1717.6"/><use href="#mx" x="1162.9" y="1721.9"/><use href="#mx" x="1155.9" y="1724"/><use href="#mx" x="1157.2" y="1790.3"/><use href="#mx" x="1159.2" y="1804.3"/><use href="#mx" x="1153.6" y="1810.7"/><use href="#mx" x="1162.6" y="1811.8"/><use href="#mx" x="1157" y="1817.1"/><use href="#mx" x="1151.9" y="1820.3"/><use href="#mx" x="1158.9" y="1823.5"/><use href="#mx" x="1156.2" y="1827.8"/><use href="#mx" x="1158.2" y="1833.1"/><use href="#mx" x="1129.6" y="1852.2"/><use href="#mx" x="1134.6" y="1851.6"/><use href="#mx" x="1142" y="1851.1"/><use href="#mx" x="1146.9" y="1850.5"/><use href="#mx" x="1151.9" y="1851.9"/><use href="#mx" x="1159.2" y="1851.3"/><use href="#mx" x="1164.2" y="1850.8"/><use href="#mx" x="1171.6" y="1852.2"/><use href="#mx" x="1176.6" y="1851.6"/><use href="#mx" x="1184" y="1851.1"/></g>
<line x1="839.3" y1="1558.6" x2="839.3" y2="1883" stroke="#000" stroke-width="3.4"/>
<line x1="837.6" y1="1881.3" x2="1191" y2="1881.3" stroke="#000" stroke-width="3.4"/>
<line x1="826.5" y1="1881.3" x2="839.3" y2="1881.3" stroke="#000" stroke-width="3.4"/>
<text x="823.1" y="1890" font-size="24.3" text-anchor="end" font-weight="bold" fill="#111" textLength="33.8" lengthAdjust="spacingAndGlyphs">0.0</text>
<line x1="826.5" y1="1774.3" x2="839.3" y2="1774.3" stroke="#000" stroke-width="3.4"/>
<text x="823.1" y="1783" font-size="24.3" text-anchor="end" font-weight="bold" fill="#111" textLength="33.8" lengthAdjust="spacingAndGlyphs">0.1</text>
<line x1="826.5" y1="1667.3" x2="839.3" y2="1667.3" stroke="#000" stroke-width="3.4"/>
<text x="823.1" y="1676" font-size="24.3" text-anchor="end" font-weight="bold" fill="#111" textLength="33.8" lengthAdjust="spacingAndGlyphs">0.2</text>
<line x1="826.5" y1="1560.3" x2="839.3" y2="1560.3" stroke="#000" stroke-width="3.4"/>
<text x="823.1" y="1569" font-size="24.3" text-anchor="end" font-weight="bold" fill="#111" textLength="33.8" lengthAdjust="spacingAndGlyphs">0.3</text>
<line x1="897.2" y1="1881.3" x2="897.2" y2="1895.3" stroke="#000" stroke-width="3.4"/>
<line x1="983.5" y1="1881.3" x2="983.5" y2="1895.3" stroke="#000" stroke-width="3.4"/>
<line x1="1070.1" y1="1881.3" x2="1070.1" y2="1895.3" stroke="#000" stroke-width="3.4"/>
<line x1="1155.8" y1="1881.3" x2="1155.8" y2="1895.3" stroke="#000" stroke-width="3.4"/>
<line x1="890" y1="1543" x2="1061.4" y2="1543" stroke="#000" stroke-width="2.4"/>
<text x="974.2" y="1544.8" font-size="31" text-anchor="middle" font-weight="bold" fill="#000">*</text>
<line x1="893.5" y1="1566" x2="981" y2="1566" stroke="#000" stroke-width="2.4"/>
<text x="932.3" y="1568.7" font-size="31" text-anchor="middle" font-weight="bold" fill="#000">*</text>
<text x="950.8" y="1568.7" font-size="31" text-anchor="middle" font-weight="bold" fill="#000">*</text>
<line x1="987.3" y1="1566" x2="1161.6" y2="1566" stroke="#000" stroke-width="2.4"/>
<text x="1063" y="1568.7" font-size="31" text-anchor="middle" font-weight="bold" fill="#000">*</text>
<text x="1080.7" y="1568.7" font-size="31" text-anchor="middle" font-weight="bold" fill="#000">*</text>
<line x1="1070" y1="1663.4" x2="1153" y2="1663.4" stroke="#000" stroke-width="2.4"/>
<text x="1108" y="1665.3" font-size="31" text-anchor="middle" font-weight="bold" fill="#000">*</text>
<text x="1126" y="1665.3" font-size="31" text-anchor="middle" font-weight="bold" fill="#000">*</text>
<text x="958.8" y="1505.9" font-size="31.4" font-weight="bold" fill="#000" textLength="140.8" lengthAdjust="spacingAndGlyphs">β-catenin</text>
<text transform="translate(769.9,1720) rotate(-90)" font-size="27.5" font-weight="bold" text-anchor="middle" fill="#111" textLength="254" lengthAdjust="spacingAndGlyphs">Relative mRNA level</text>
<text x="800.8" y="1450.7" font-size="38.7" font-weight="bold" fill="#000" textLength="19.2" lengthAdjust="spacingAndGlyphs">F</text>
<path d="M1352.2 1879.4V1781.1H1404.1V1879.4" fill="none" stroke="#666666" stroke-width="5.2"/>
<line x1="1378.2" y1="1778.5" x2="1378.2" y2="1760.7" stroke="#666666" stroke-width="5.2"/>
<line x1="1364" y1="1760.7" x2="1392.4" y2="1760.7" stroke="#666666" stroke-width="5.2"/>
<g fill="#5c5c5c"><use href="#mc" x="1372.1" y="1645.2"/><use href="#mc" x="1383.5" y="1650.8"/><use href="#mc" x="1372.5" y="1654.2"/><use href="#mc" x="1383.9" y="1656.4"/><use href="#mc" x="1390.8" y="1659.2"/><use href="#mc" x="1374.2" y="1664.2"/><use href="#mc" x="1383.2" y="1667.6"/><use href="#mc" x="1372.1" y="1675.9"/><use href="#mc" x="1383.5" y="1678.7"/><use href="#mc" x="1380.5" y="1684.3"/><use href="#mc" x="1373.9" y="1811.4"/><use href="#mc" x="1382.8" y="1811.4"/><use href="#mc" x="1364.2" y="1813.6"/><use href="#mc" x="1393.2" y="1813.6"/><use href="#mc" x="1350.1" y="1820.3"/><use href="#mc" x="1363.5" y="1820.3"/><use href="#mc" x="1372.5" y="1820.3"/><use href="#mc" x="1383.9" y="1820.3"/><use href="#mc" x="1392.8" y="1820.3"/><use href="#mc" x="1406.2" y="1820.3"/><use href="#mc" x="1373.2" y="1831.5"/><use href="#mc" x="1350.1" y="1840.4"/><use href="#mc" x="1363.5" y="1840.4"/><use href="#mc" x="1392.5" y="1840.4"/><use href="#mc" x="1405.9" y="1840.4"/><use href="#mc" x="1372.8" y="1837.6"/><use href="#mc" x="1364.2" y="1848.7"/><use href="#mc" x="1383.2" y="1848.7"/><use href="#mc" x="1392.1" y="1848.7"/><use href="#mc" x="1363.5" y="1853.8"/><use href="#mc" x="1392.5" y="1853.8"/></g>
<path d="M1441.6 1879.4V1742.1H1493.9V1879.4" fill="none" stroke="#3b3bff" stroke-width="5.2"/>
<line x1="1467.8" y1="1739.5" x2="1467.8" y2="1723.3" stroke="#3b3bff" stroke-width="5.2"/>
<line x1="1453.5" y1="1723.3" x2="1482" y2="1723.3" stroke="#3b3bff" stroke-width="5.2"/>
<g fill="#1e1eff"><use href="#mt" x="1469.7" y="1631.3"/><use href="#mt" x="1462.1" y="1634.1"/><use href="#mt" x="1461" y="1642.5"/><use href="#mt" x="1474.5" y="1645.2"/><use href="#mt" x="1483.4" y="1648"/><use href="#mt" x="1462.8" y="1650.8"/><use href="#mt" x="1473.8" y="1653.6"/><use href="#mt" x="1460.7" y="1667.6"/><use href="#mt" x="1474.1" y="1673.1"/><use href="#mt" x="1467" y="1723.3"/><use href="#mt" x="1462.5" y="1726.1"/><use href="#mt" x="1473.4" y="1728.9"/><use href="#mt" x="1462.8" y="1734.5"/><use href="#mt" x="1473.8" y="1745.6"/><use href="#mt" x="1460.7" y="1754"/><use href="#mt" x="1474.1" y="1756.8"/><use href="#mt" x="1461" y="1762.3"/><use href="#mt" x="1474.5" y="1759.5"/><use href="#mt" x="1483.4" y="1751.2"/><use href="#mt" x="1441.8" y="1817.5"/><use href="#mt" x="1449.8" y="1816"/><use href="#mt" x="1457.7" y="1814.5"/><use href="#mt" x="1468.1" y="1813.1"/><use href="#mt" x="1476" y="1816.8"/><use href="#mt" x="1486.5" y="1815.3"/><use href="#mt" x="1494.4" y="1813.8"/></g>
<path d="M1531.9 1879.4V1816.2H1584.4V1879.4" fill="none" stroke="#e03535" stroke-width="5.2"/>
<line x1="1558.2" y1="1813.6" x2="1558.2" y2="1808" stroke="#e03535" stroke-width="5.2"/>
<line x1="1544" y1="1808" x2="1572.4" y2="1808" stroke="#e03535" stroke-width="5.2"/>
<g fill="#dd1b1b"><use href="#ms" x="1549.1" y="1793"/><use href="#ms" x="1550.5" y="1787.4"/><use href="#ms" x="1549.5" y="1781.8"/><use href="#ms" x="1550.9" y="1776.3"/><use href="#ms" x="1557.8" y="1793"/><use href="#ms" x="1559.2" y="1787.4"/><use href="#ms" x="1558.2" y="1781.8"/><use href="#ms" x="1557.1" y="1776.3"/><use href="#ms" x="1566.5" y="1793"/><use href="#ms" x="1565.5" y="1787.4"/><use href="#ms" x="1566.9" y="1781.8"/><use href="#ms" x="1565.8" y="1776.3"/><use href="#ms" x="1533.2" y="1830.3"/><use href="#ms" x="1532.2" y="1824.8"/><use href="#ms" x="1531.1" y="1819.2"/><use href="#ms" x="1540.5" y="1830.3"/><use href="#ms" x="1539.5" y="1824.8"/><use href="#ms" x="1540.9" y="1819.2"/><use href="#ms" x="1547.8" y="1830.3"/><use href="#ms" x="1549.2" y="1824.8"/><use href="#ms" x="1548.2" y="1819.2"/><use href="#ms" x="1555.1" y="1830.3"/><use href="#ms" x="1556.5" y="1824.8"/><use href="#ms" x="1555.5" y="1819.2"/><use href="#ms" x="1564.9" y="1830.3"/><use href="#ms" x="1563.8" y="1824.8"/><use href="#ms" x="1565.2" y="1819.2"/><use href="#ms" x="1572.2" y="1830.3"/><use href="#ms" x="1571.1" y="1824.8"/><use href="#ms" x="1572.5" y="1819.2"/><use href="#ms" x="1579.5" y="1830.3"/><use href="#ms" x="1580.9" y="1824.8"/><use href="#ms" x="1579.8" y="1819.2"/><use href="#ms" x="1586.2" y="1830.3"/><use href="#ms" x="1585.2" y="1824.8"/><use href="#ms" x="1584.1" y="1819.2"/></g>
<path d="M1621.6 1879.4V1752.7H1673.4V1879.4" fill="none" stroke="#a447e6" stroke-width="5.2"/>
<line x1="1647.5" y1="1750.1" x2="1647.5" y2="1730.5" stroke="#a447e6" stroke-width="5.2"/>
<line x1="1633.3" y1="1730.5" x2="1661.7" y2="1730.5" stroke="#a447e6" stroke-width="5.2"/>
<g fill="#9b3fe0"><use href="#mx" x="1641.5" y="1595.1"/><use href="#mx" x="1652.8" y="1600.7"/><use href="#mx" x="1632.8" y="1610.7"/><use href="#mx" x="1653.2" y="1614"/><use href="#mx" x="1661.2" y="1609"/><use href="#mx" x="1653.5" y="1627.4"/><use href="#mx" x="1644.5" y="1638.6"/><use href="#mx" x="1651.5" y="1645.2"/><use href="#mx" x="1652.8" y="1656.4"/><use href="#mx" x="1619.8" y="1771.2"/><use href="#mx" x="1629.2" y="1769.8"/><use href="#mx" x="1636.2" y="1768.3"/><use href="#mx" x="1645.5" y="1766.8"/><use href="#mx" x="1652.5" y="1770.5"/><use href="#mx" x="1659.5" y="1769"/><use href="#mx" x="1668.8" y="1767.5"/><use href="#mx" x="1673.8" y="1771.2"/><use href="#mx" x="1633.2" y="1773.5"/><use href="#mx" x="1648.2" y="1773.5"/><use href="#mx" x="1665.5" y="1773.5"/><use href="#mx" x="1620.5" y="1853.2"/><use href="#mx" x="1627.5" y="1852.1"/><use href="#mx" x="1636.8" y="1851"/><use href="#mx" x="1643.8" y="1849.9"/><use href="#mx" x="1653.2" y="1852.6"/><use href="#mx" x="1660.2" y="1851.5"/><use href="#mx" x="1669.5" y="1850.4"/><use href="#mx" x="1674.5" y="1853.2"/><use href="#mx" x="1631.5" y="1854.9"/><use href="#mx" x="1648.8" y="1854.9"/><use href="#mx" x="1663.8" y="1854.9"/></g>
<line x1="1318.4" y1="1543.5" x2="1318.4" y2="1881.1" stroke="#000" stroke-width="3.4"/>
<line x1="1316.7" y1="1879.4" x2="1709" y2="1879.4" stroke="#000" stroke-width="3.4"/>
<line x1="1304.4" y1="1879.4" x2="1318.4" y2="1879.4" stroke="#000" stroke-width="3.4"/>
<text x="1300.5" y="1887.4" font-size="22.3" text-anchor="end" font-weight="bold" fill="#111" textLength="35.2" lengthAdjust="spacingAndGlyphs">0.0</text>
<line x1="1304.4" y1="1767.9" x2="1318.4" y2="1767.9" stroke="#000" stroke-width="3.4"/>
<text x="1300.5" y="1775.9" font-size="22.3" text-anchor="end" font-weight="bold" fill="#111" textLength="35.2" lengthAdjust="spacingAndGlyphs">0.2</text>
<line x1="1304.4" y1="1656.4" x2="1318.4" y2="1656.4" stroke="#000" stroke-width="3.4"/>
<text x="1300.5" y="1664.4" font-size="22.3" text-anchor="end" font-weight="bold" fill="#111" textLength="35.2" lengthAdjust="spacingAndGlyphs">0.4</text>
<line x1="1304.4" y1="1544.9" x2="1318.4" y2="1544.9" stroke="#000" stroke-width="3.4"/>
<text x="1300.5" y="1552.9" font-size="22.3" text-anchor="end" font-weight="bold" fill="#111" textLength="35.2" lengthAdjust="spacingAndGlyphs">0.6</text>
<line x1="1377.5" y1="1879.4" x2="1377.5" y2="1893.4" stroke="#000" stroke-width="3.4"/>
<line x1="1467.3" y1="1879.4" x2="1467.3" y2="1893.4" stroke="#000" stroke-width="3.4"/>
<line x1="1557.6" y1="1879.4" x2="1557.6" y2="1893.4" stroke="#000" stroke-width="3.4"/>
<line x1="1647" y1="1879.4" x2="1647" y2="1893.4" stroke="#000" stroke-width="3.4"/>
<line x1="1551" y1="1575.6" x2="1647.3" y2="1575.6" stroke="#000" stroke-width="4"/>
<text x="1590.8" y="1578.6" font-size="35" text-anchor="middle" font-weight="bold" fill="#000">*</text>
<text x="1604.3" y="1578.6" font-size="35" text-anchor="middle" font-weight="bold" fill="#000">*</text>
<text x="1480.6" y="1500.9" font-size="31" font-weight="bold" fill="#000" textLength="71.3" lengthAdjust="spacingAndGlyphs">Wif1</text>
<text transform="translate(1246,1711.6) rotate(-90)" font-size="29.5" font-weight="bold" text-anchor="middle" fill="#111" textLength="265.5" lengthAdjust="spacingAndGlyphs">Relative mRNA level</text>
<text x="1195.4" y="1451.6" font-size="38.5" font-weight="bold" fill="#000" textLength="30.5" lengthAdjust="spacingAndGlyphs">G</text>
<path d="M177.9 2395.7V2287.5H231.4V2395.7" fill="none" stroke="#666666" stroke-width="5.2"/>
<line x1="204.7" y1="2284.9" x2="204.7" y2="2264.8" stroke="#666666" stroke-width="5.2"/>
<line x1="190.2" y1="2264.8" x2="219.2" y2="2264.8" stroke="#666666" stroke-width="5.2"/>
<g fill="#5c5c5c"><use href="#mc" x="203.6" y="2130.5"/><use href="#mc" x="205" y="2139.2"/><use href="#mc" x="209" y="2149.9"/><use href="#mc" x="202.3" y="2154"/><use href="#mc" x="207.3" y="2160.7"/><use href="#mc" x="202.7" y="2166"/><use href="#mc" x="207.7" y="2172.8"/><use href="#mc" x="203.6" y="2182.2"/><use href="#mc" x="200" y="2321.8"/><use href="#mc" x="209" y="2325.2"/><use href="#mc" x="192.3" y="2331.2"/><use href="#mc" x="201.3" y="2331.9"/><use href="#mc" x="210.7" y="2330.6"/><use href="#mc" x="217.7" y="2333.9"/><use href="#mc" x="213.6" y="2336.6"/><use href="#mc" x="178" y="2360.8"/><use href="#mc" x="184" y="2359.9"/><use href="#mc" x="192.3" y="2359"/><use href="#mc" x="198.3" y="2358.1"/><use href="#mc" x="206.7" y="2360.3"/><use href="#mc" x="212.7" y="2359.4"/><use href="#mc" x="218.6" y="2358.5"/><use href="#mc" x="227" y="2360.8"/><use href="#mc" x="231" y="2359.9"/></g>
<path d="M268 2395.7V2257.3H322.1V2395.7" fill="none" stroke="#3b3bff" stroke-width="5.2"/>
<line x1="295" y1="2254.7" x2="295" y2="2237.9" stroke="#3b3bff" stroke-width="5.2"/>
<line x1="280.5" y1="2237.9" x2="309.5" y2="2237.9" stroke="#3b3bff" stroke-width="5.2"/>
<g fill="#1e1eff"><use href="#mt" x="307" y="2113.7"/><use href="#mt" x="295.4" y="2117"/><use href="#mt" x="294.3" y="2143.9"/><use href="#mt" x="295.7" y="2164"/><use href="#mt" x="307.7" y="2160.7"/><use href="#mt" x="296.1" y="2187.5"/><use href="#mt" x="295" y="2217.8"/><use href="#mt" x="307" y="2214.4"/><use href="#mt" x="295.4" y="2224.5"/><use href="#mt" x="307.3" y="2236.6"/><use href="#mt" x="282.7" y="2237.9"/><use href="#mt" x="294.7" y="2248"/><use href="#mt" x="283.1" y="2253.3"/><use href="#mt" x="308" y="2261.4"/><use href="#mt" x="281" y="2264.8"/><use href="#mt" x="295.4" y="2263.4"/><use href="#mt" x="281.3" y="2274.8"/><use href="#mt" x="308.7" y="2271.5"/><use href="#mt" x="294.7" y="2278.2"/><use href="#mt" x="270.1" y="2329.9"/><use href="#mt" x="282" y="2333.9"/><use href="#mt" x="281" y="2338.6"/><use href="#mt" x="295.4" y="2332.6"/><use href="#mt" x="307.3" y="2325.2"/><use href="#mt" x="308.7" y="2333.3"/><use href="#mt" x="320.7" y="2328.5"/><use href="#mt" x="296.1" y="2328.5"/><use href="#mt" x="321" y="2323.2"/><use href="#mt" x="307" y="2320.5"/></g>
<path d="M358.2 2395.7V2326.4H412.8V2395.7" fill="none" stroke="#e03535" stroke-width="5.2"/>
<g fill="#dd1b1b"><use href="#ms" x="359.4" y="2340.6"/><use href="#ms" x="360.9" y="2333.9"/><use href="#ms" x="359.8" y="2327.2"/><use href="#ms" x="369.2" y="2340.6"/><use href="#ms" x="368.1" y="2333.9"/><use href="#ms" x="369.6" y="2327.2"/><use href="#ms" x="376.5" y="2340.6"/><use href="#ms" x="375.4" y="2333.9"/><use href="#ms" x="376.9" y="2327.2"/><use href="#ms" x="383.8" y="2340.6"/><use href="#ms" x="385.2" y="2333.9"/><use href="#ms" x="384.1" y="2327.2"/><use href="#ms" x="393.6" y="2340.6"/><use href="#ms" x="392.5" y="2333.9"/><use href="#ms" x="391.4" y="2327.2"/><use href="#ms" x="400.9" y="2340.6"/><use href="#ms" x="399.8" y="2333.9"/><use href="#ms" x="401.2" y="2327.2"/><use href="#ms" x="408.1" y="2340.6"/><use href="#ms" x="409.6" y="2333.9"/><use href="#ms" x="408.5" y="2327.2"/><use href="#ms" x="378.4" y="2320.5"/><use href="#ms" x="391.9" y="2318.5"/><use href="#ms" x="400.8" y="2319.1"/><use href="#ms" x="412.2" y="2335.3"/></g>
<path d="M449.4 2395.7V2286.8H503.5V2395.7" fill="none" stroke="#a447e6" stroke-width="5.2"/>
<line x1="476.5" y1="2284.2" x2="476.5" y2="2268.1" stroke="#a447e6" stroke-width="5.2"/>
<line x1="462" y1="2268.1" x2="491" y2="2268.1" stroke="#a447e6" stroke-width="5.2"/>
<g fill="#9b3fe0"><use href="#mx" x="475.4" y="2140.5"/><use href="#mx" x="476.8" y="2154"/><use href="#mx" x="475.8" y="2180.8"/><use href="#mx" x="477.2" y="2221.1"/><use href="#mx" x="476.1" y="2231.2"/><use href="#mx" x="469.5" y="2241.3"/><use href="#mx" x="484.5" y="2241.3"/><use href="#mx" x="493.4" y="2239.9"/><use href="#mx" x="458.8" y="2246.6"/><use href="#mx" x="475.8" y="2251.3"/><use href="#mx" x="469.2" y="2253.3"/><use href="#mx" x="488.1" y="2252"/><use href="#mx" x="459.5" y="2258"/><use href="#mx" x="484.5" y="2258"/><use href="#mx" x="493.4" y="2262.7"/><use href="#mx" x="466.8" y="2265.4"/><use href="#mx" x="475.8" y="2266.8"/><use href="#mx" x="457.2" y="2266.8"/><use href="#mx" x="486.1" y="2268.1"/><use href="#mx" x="477.5" y="2270.8"/><use href="#mx" x="496.5" y="2264.1"/><use href="#mx" x="475.4" y="2274.8"/><use href="#mx" x="449.8" y="2375.6"/><use href="#mx" x="455.8" y="2374.7"/><use href="#mx" x="464.2" y="2373.8"/><use href="#mx" x="470.1" y="2372.9"/><use href="#mx" x="478.5" y="2375.1"/><use href="#mx" x="484.5" y="2374.2"/><use href="#mx" x="490.4" y="2373.3"/><use href="#mx" x="498.8" y="2375.6"/><use href="#mx" x="502.8" y="2374.7"/><use href="#mx" x="468.2" y="2378.2"/><use href="#mx" x="481.1" y="2378.2"/></g>
<line x1="144.5" y1="2058.2" x2="144.5" y2="2397.4" stroke="#000" stroke-width="3.4"/>
<line x1="142.8" y1="2395.7" x2="538" y2="2395.7" stroke="#000" stroke-width="3.4"/>
<line x1="131.2" y1="2395.7" x2="144.5" y2="2395.7" stroke="#000" stroke-width="3.4"/>
<text x="127.8" y="2403.2" font-size="21" text-anchor="end" font-weight="bold" fill="#111" textLength="49.7" lengthAdjust="spacingAndGlyphs">0.00</text>
<line x1="131.2" y1="2328.5" x2="144.5" y2="2328.5" stroke="#000" stroke-width="3.4"/>
<text x="127.8" y="2336.1" font-size="21" text-anchor="end" font-weight="bold" fill="#111" textLength="49.7" lengthAdjust="spacingAndGlyphs">0.01</text>
<line x1="131.2" y1="2261.4" x2="144.5" y2="2261.4" stroke="#000" stroke-width="3.4"/>
<text x="127.8" y="2268.9" font-size="21" text-anchor="end" font-weight="bold" fill="#111" textLength="49.7" lengthAdjust="spacingAndGlyphs">0.02</text>
<line x1="131.2" y1="2194.2" x2="144.5" y2="2194.2" stroke="#000" stroke-width="3.4"/>
<text x="127.8" y="2201.8" font-size="21" text-anchor="end" font-weight="bold" fill="#111" textLength="49.7" lengthAdjust="spacingAndGlyphs">0.03</text>
<line x1="131.2" y1="2127.1" x2="144.5" y2="2127.1" stroke="#000" stroke-width="3.4"/>
<text x="127.8" y="2134.6" font-size="21" text-anchor="end" font-weight="bold" fill="#111" textLength="49.7" lengthAdjust="spacingAndGlyphs">0.04</text>
<line x1="131.2" y1="2059.9" x2="144.5" y2="2059.9" stroke="#000" stroke-width="3.4"/>
<text x="127.8" y="2067.5" font-size="21" text-anchor="end" font-weight="bold" fill="#111" textLength="49.7" lengthAdjust="spacingAndGlyphs">0.05</text>
<line x1="204" y1="2395.7" x2="204" y2="2409.7" stroke="#000" stroke-width="3.4"/>
<line x1="294.9" y1="2395.7" x2="294.9" y2="2409.7" stroke="#000" stroke-width="3.4"/>
<line x1="384.7" y1="2395.7" x2="384.7" y2="2409.7" stroke="#000" stroke-width="3.4"/>
<line x1="475.6" y1="2395.7" x2="475.6" y2="2409.7" stroke="#000" stroke-width="3.4"/>
<line x1="206" y1="2100.7" x2="373.6" y2="2100.7" stroke="#000" stroke-width="4"/>
<text x="277.9" y="2104.2" font-size="33" text-anchor="middle" font-weight="bold" fill="#000">*</text>
<text x="291.6" y="2104.2" font-size="33" text-anchor="middle" font-weight="bold" fill="#000">*</text>
<line x1="379.7" y1="2132.5" x2="469.5" y2="2132.5" stroke="#000" stroke-width="4"/>
<text x="414.8" y="2134.7" font-size="33" text-anchor="middle" font-weight="bold" fill="#000">*</text>
<text x="427.5" y="2134.7" font-size="33" text-anchor="middle" font-weight="bold" fill="#000">*</text>
<text x="290.3" y="2018.6" font-size="30.7" font-weight="bold" fill="#000" textLength="72.5" lengthAdjust="spacingAndGlyphs">Ccn4</text>
<text transform="translate(59,2227.4) rotate(-90)" font-size="29.5" font-weight="bold" text-anchor="middle" fill="#111" textLength="265" lengthAdjust="spacingAndGlyphs">Relative mRNA level</text>
<text x="0.1" y="1957.6" font-size="40.2" font-weight="bold" fill="#000" textLength="29" lengthAdjust="spacingAndGlyphs">H</text>
<path d="M711 2394.7V2336.6H768.8V2394.7" fill="none" stroke="#666666" stroke-width="5.2"/>
<line x1="739.9" y1="2334" x2="739.9" y2="2318.8" stroke="#666666" stroke-width="5.2"/>
<line x1="725.4" y1="2318.8" x2="754.4" y2="2318.8" stroke="#666666" stroke-width="5.2"/>
<g fill="#5c5c5c"><use href="#mc" x="741.9" y="2192.9"/><use href="#mc" x="740.2" y="2207.2"/><use href="#mc" x="739.2" y="2219.7"/><use href="#mc" x="740.6" y="2230.4"/><use href="#mc" x="742.5" y="2239.3"/><use href="#mc" x="737.9" y="2248.2"/><use href="#mc" x="742.9" y="2251.8"/><use href="#mc" x="738.9" y="2269.7"/><use href="#mc" x="737.2" y="2284"/><use href="#mc" x="734.2" y="2367.9"/><use href="#mc" x="745.6" y="2369.7"/><use href="#mc" x="725.5" y="2373.3"/><use href="#mc" x="754.9" y="2371.5"/><use href="#mc" x="712.9" y="2383.4"/><use href="#mc" x="717.9" y="2382"/><use href="#mc" x="725.2" y="2380.6"/><use href="#mc" x="730.2" y="2379.2"/><use href="#mc" x="737.6" y="2382.7"/><use href="#mc" x="742.5" y="2381.3"/><use href="#mc" x="749.9" y="2379.9"/><use href="#mc" x="754.9" y="2383.4"/><use href="#mc" x="759.9" y="2382"/><use href="#mc" x="767.2" y="2380.6"/><use href="#mc" x="719.2" y="2390.2"/><use href="#mc" x="732.6" y="2389"/><use href="#mc" x="743.5" y="2387.9"/><use href="#mc" x="756.9" y="2386.7"/></g>
<path d="M807.1 2394.7V2376.8H864.9V2394.7" fill="none" stroke="#3b3bff" stroke-width="5.2"/>
<line x1="836" y1="2374.2" x2="836" y2="2367.9" stroke="#3b3bff" stroke-width="5.2"/>
<line x1="821.5" y1="2367.9" x2="850.5" y2="2367.9" stroke="#3b3bff" stroke-width="5.2"/>
<g fill="#1e1eff"><use href="#mt" x="833" y="2325"/><use href="#mt" x="840.4" y="2328.6"/><use href="#mt" x="829.3" y="2334"/><use href="#mt" x="842.7" y="2337.5"/><use href="#mt" x="835.6" y="2342.9"/><use href="#mt" x="833" y="2348.3"/><use href="#mt" x="842" y="2351.8"/><use href="#mt" x="835" y="2357.2"/><use href="#mt" x="828.4" y="2362.6"/><use href="#mt" x="843.3" y="2364.3"/><use href="#mt" x="836.7" y="2367.9"/><use href="#mt" x="821.6" y="2371.5"/><use href="#mt" x="851" y="2373.3"/><use href="#mt" x="816" y="2378.6"/><use href="#mt" x="827" y="2380.4"/><use href="#mt" x="840.4" y="2378.6"/><use href="#mt" x="853.3" y="2380.4"/><use href="#mt" x="810.7" y="2385.8"/><use href="#mt" x="821.6" y="2387.6"/><use href="#mt" x="837" y="2385.8"/><use href="#mt" x="848" y="2387.6"/><use href="#mt" x="859" y="2385.8"/><use href="#mt" x="830.4" y="2391.1"/><use href="#mt" x="841.3" y="2392.9"/><use href="#mt" x="818.7" y="2392.9"/><use href="#mt" x="855.6" y="2392"/></g>
<path d="M902.7 2394.7V2311.6H960.8V2394.7" fill="none" stroke="#e03535" stroke-width="5.2"/>
<line x1="931.8" y1="2309" x2="931.8" y2="2294.7" stroke="#e03535" stroke-width="5.2"/>
<line x1="917.2" y1="2294.7" x2="946.2" y2="2294.7" stroke="#e03535" stroke-width="5.2"/>
<g fill="#dd1b1b"><use href="#ms" x="927.7" y="2235.7"/><use href="#ms" x="919.1" y="2251.8"/><use href="#ms" x="926" y="2255.4"/><use href="#ms" x="937.5" y="2255.4"/><use href="#ms" x="944.4" y="2250"/><use href="#ms" x="945.8" y="2259"/><use href="#ms" x="911.8" y="2271.5"/><use href="#ms" x="920.7" y="2278.6"/><use href="#ms" x="932.1" y="2273.3"/><use href="#ms" x="941" y="2276.8"/><use href="#ms" x="922.5" y="2285.8"/><use href="#ms" x="931.4" y="2284"/><use href="#ms" x="942.8" y="2287.5"/><use href="#ms" x="951.8" y="2285.8"/><use href="#ms" x="915.7" y="2291.1"/><use href="#ms" x="927.1" y="2294.7"/><use href="#ms" x="936" y="2292.9"/><use href="#ms" x="947.5" y="2294.7"/><use href="#ms" x="911.4" y="2371.5"/><use href="#ms" x="924.8" y="2376.8"/><use href="#ms" x="939.8" y="2369.7"/><use href="#ms" x="950.7" y="2375.1"/><use href="#ms" x="906.1" y="2384"/><use href="#ms" x="917" y="2384"/><use href="#ms" x="930.5" y="2385.8"/><use href="#ms" x="941.4" y="2384"/><use href="#ms" x="954.8" y="2385.8"/><use href="#ms" x="957.8" y="2378.6"/></g>
<path d="M999 2394.7V2341.9H1056.9V2394.7" fill="none" stroke="#a447e6" stroke-width="5.2"/>
<line x1="1028" y1="2339.3" x2="1028" y2="2325" stroke="#a447e6" stroke-width="5.2"/>
<line x1="1013.5" y1="2325" x2="1042.5" y2="2325" stroke="#a447e6" stroke-width="5.2"/>
<g fill="#9b3fe0"><use href="#mx" x="1026.9" y="2132.2"/><use href="#mx" x="1028.3" y="2212.5"/><use href="#mx" x="1027.2" y="2260.8"/><use href="#mx" x="1015.7" y="2298.3"/><use href="#mx" x="1040.6" y="2301.8"/><use href="#mx" x="1029" y="2309"/><use href="#mx" x="1041" y="2312.5"/><use href="#mx" x="1019.9" y="2325"/><use href="#mx" x="1033.3" y="2326.8"/><use href="#mx" x="1013.2" y="2330.4"/><use href="#mx" x="1042.7" y="2332.2"/><use href="#mx" x="1027.6" y="2337.5"/><use href="#mx" x="1021" y="2351.8"/><use href="#mx" x="1036" y="2355.4"/><use href="#mx" x="1026.9" y="2362.6"/><use href="#mx" x="1012.3" y="2366.1"/><use href="#mx" x="1043.2" y="2367.9"/><use href="#mx" x="1024.7" y="2375.1"/><use href="#mx" x="1035.6" y="2376.8"/><use href="#mx" x="1005" y="2382.2"/><use href="#mx" x="1016" y="2385.8"/><use href="#mx" x="1026.9" y="2387.6"/><use href="#mx" x="1040.3" y="2385.8"/><use href="#mx" x="1051.2" y="2384"/><use href="#mx" x="1010.7" y="2391.1"/><use href="#mx" x="1045.6" y="2391.1"/></g>
<line x1="676" y1="2035.8" x2="676" y2="2396.4" stroke="#000" stroke-width="3.4"/>
<line x1="674.3" y1="2394.7" x2="1094" y2="2394.7" stroke="#000" stroke-width="3.4"/>
<line x1="662.1" y1="2394.7" x2="676" y2="2394.7" stroke="#000" stroke-width="3.4"/>
<text x="657.9" y="2406.4" font-size="25.6" text-anchor="end" font-weight="bold" fill="#111" textLength="15" lengthAdjust="spacingAndGlyphs">0</text>
<line x1="662.1" y1="2305.4" x2="676" y2="2305.4" stroke="#000" stroke-width="3.4"/>
<text x="657.9" y="2317.1" font-size="25.6" text-anchor="end" font-weight="bold" fill="#111" textLength="15" lengthAdjust="spacingAndGlyphs">5</text>
<line x1="662.1" y1="2216.1" x2="676" y2="2216.1" stroke="#000" stroke-width="3.4"/>
<text x="657.9" y="2227.8" font-size="25.6" text-anchor="end" font-weight="bold" fill="#111" textLength="30" lengthAdjust="spacingAndGlyphs">10</text>
<line x1="662.1" y1="2126.8" x2="676" y2="2126.8" stroke="#000" stroke-width="3.4"/>
<text x="657.9" y="2138.5" font-size="25.6" text-anchor="end" font-weight="bold" fill="#111" textLength="30" lengthAdjust="spacingAndGlyphs">15</text>
<line x1="662.1" y1="2037.5" x2="676" y2="2037.5" stroke="#000" stroke-width="3.4"/>
<text x="657.9" y="2049.2" font-size="25.6" text-anchor="end" font-weight="bold" fill="#111" textLength="30" lengthAdjust="spacingAndGlyphs">20</text>
<line x1="739.6" y1="2394.7" x2="739.6" y2="2408.7" stroke="#000" stroke-width="3.4"/>
<line x1="836.4" y1="2394.7" x2="836.4" y2="2408.7" stroke="#000" stroke-width="3.4"/>
<line x1="931" y1="2394.7" x2="931" y2="2408.7" stroke="#000" stroke-width="3.4"/>
<line x1="1026.8" y1="2394.7" x2="1026.8" y2="2408.7" stroke="#000" stroke-width="3.4"/>
<line x1="738.3" y1="2178" x2="827.7" y2="2178" stroke="#000" stroke-width="2.4"/>
<text x="775" y="2182.8" font-size="34" text-anchor="middle" font-weight="bold" fill="#000">*</text>
<text x="795" y="2182.8" font-size="34" text-anchor="middle" font-weight="bold" fill="#000">*</text>
<line x1="927" y1="2121.4" x2="1027.3" y2="2121.4" stroke="#000" stroke-width="2.4"/>
<text x="973.5" y="2124.9" font-size="34" text-anchor="middle" font-weight="bold" fill="#000">*</text>
<text x="992.5" y="2124.9" font-size="34" text-anchor="middle" font-weight="bold" fill="#000">*</text>
<text x="846.3" y="1995" font-size="32.3" font-weight="bold" fill="#000" textLength="134.8" lengthAdjust="spacingAndGlyphs">Serpinf1</text>
<text transform="translate(607,2216.5) rotate(-90)" font-size="32.5" font-weight="bold" text-anchor="middle" fill="#111" textLength="281" lengthAdjust="spacingAndGlyphs">Relative mRNA level</text>
<text x="574" y="1956.7" font-size="36.6" font-weight="bold" fill="#000" textLength="12.6" lengthAdjust="spacingAndGlyphs">I</text>
<rect x="1083" y="1951.8" width="35" height="17.2" fill="none" stroke="#606060" stroke-width="5.2"/>
<text x="1143.6" y="1970.5" font-size="26.5" font-weight="bold" fill="#111" textLength="50.5" lengthAdjust="spacingAndGlyphs">CTR</text>
<rect x="1083" y="2005.9" width="35" height="17.2" fill="none" stroke="#3b3bff" stroke-width="5.2"/>
<text x="1143.6" y="2024.6" font-size="26.5" font-weight="bold" fill="#111" textLength="99.2" lengthAdjust="spacingAndGlyphs">CTR+EX</text>
<rect x="1083" y="2059.9" width="35" height="17.2" fill="none" stroke="#d43a3a" stroke-width="5.2"/>
<text x="1142.9" y="2078.6" font-size="26.5" font-weight="bold" fill="#111" textLength="54.2" lengthAdjust="spacingAndGlyphs">HFD</text>
<rect x="1083" y="2114" width="35" height="17.2" fill="none" stroke="#a040e8" stroke-width="5.2"/>
<text x="1142.9" y="2132.7" font-size="26.5" font-weight="bold" fill="#111" textLength="102.8" lengthAdjust="spacingAndGlyphs">HFD+EX</text></svg></body></html>
